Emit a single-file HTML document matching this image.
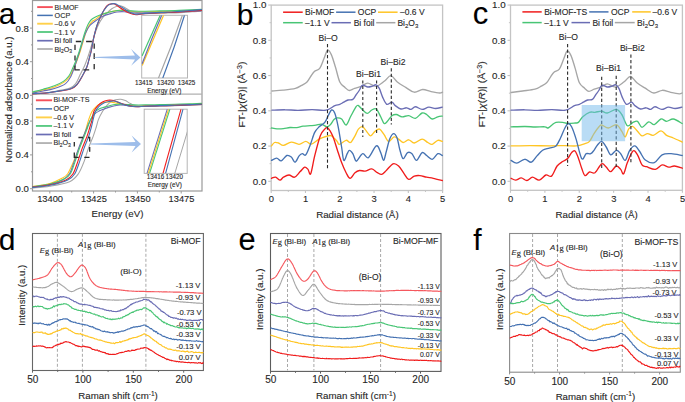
<!DOCTYPE html>
<html><head><meta charset="utf-8"><style>html,body{margin:0;padding:0;background:#fff;width:685px;height:402px;overflow:hidden}svg{display:block}</style></head>
<body><svg width="685" height="402" viewBox="0 0 685 402" font-family='"Liberation Sans", sans-serif'><style>text{stroke:#2a2a2a;stroke-width:0.12px;paint-order:stroke}</style>
<rect width="685" height="402" fill="#fff"/>
<rect x="32.5" y="0.5" width="169.5" height="190.5" fill="none" stroke="#9a9a9a" stroke-width="1.2"/>
<line x1="32.5" y1="94.2" x2="202" y2="94.2" stroke="#b0b0b0" stroke-width="1.2" stroke-linecap="butt"/>
<line x1="30.0" y1="95.3" x2="32.5" y2="95.3" stroke="#9a9a9a" stroke-width="1" stroke-linecap="butt"/>
<text x="28.9" y="98.75" font-size="9.6" text-anchor="end" fill="#262626" >0.0</text>
<line x1="30.0" y1="61.699999999999996" x2="32.5" y2="61.699999999999996" stroke="#9a9a9a" stroke-width="1" stroke-linecap="butt"/>
<text x="28.9" y="65.14999999999999" font-size="9.6" text-anchor="end" fill="#262626" >0.4</text>
<line x1="30.0" y1="28.099999999999994" x2="32.5" y2="28.099999999999994" stroke="#9a9a9a" stroke-width="1" stroke-linecap="butt"/>
<text x="28.9" y="31.549999999999994" font-size="9.6" text-anchor="end" fill="#262626" >0.8</text>
<line x1="31.0" y1="78.5" x2="32.5" y2="78.5" stroke="#9a9a9a" stroke-width="1" stroke-linecap="butt"/>
<line x1="31.0" y1="44.9" x2="32.5" y2="44.9" stroke="#9a9a9a" stroke-width="1" stroke-linecap="butt"/>
<line x1="31.0" y1="11.299999999999997" x2="32.5" y2="11.299999999999997" stroke="#9a9a9a" stroke-width="1" stroke-linecap="butt"/>
<line x1="30.0" y1="188.7" x2="32.5" y2="188.7" stroke="#9a9a9a" stroke-width="1" stroke-linecap="butt"/>
<text x="28.9" y="192.14999999999998" font-size="9.6" text-anchor="end" fill="#262626" >0.0</text>
<line x1="30.0" y1="154.89999999999998" x2="32.5" y2="154.89999999999998" stroke="#9a9a9a" stroke-width="1" stroke-linecap="butt"/>
<text x="28.9" y="158.34999999999997" font-size="9.6" text-anchor="end" fill="#262626" >0.4</text>
<line x1="30.0" y1="121.09999999999998" x2="32.5" y2="121.09999999999998" stroke="#9a9a9a" stroke-width="1" stroke-linecap="butt"/>
<text x="28.9" y="124.54999999999998" font-size="9.6" text-anchor="end" fill="#262626" >0.8</text>
<line x1="31.0" y1="171.79999999999998" x2="32.5" y2="171.79999999999998" stroke="#9a9a9a" stroke-width="1" stroke-linecap="butt"/>
<line x1="31.0" y1="138.0" x2="32.5" y2="138.0" stroke="#9a9a9a" stroke-width="1" stroke-linecap="butt"/>
<line x1="31.0" y1="104.19999999999999" x2="32.5" y2="104.19999999999999" stroke="#9a9a9a" stroke-width="1" stroke-linecap="butt"/>
<line x1="49.8" y1="191" x2="49.8" y2="193.5" stroke="#9a9a9a" stroke-width="1" stroke-linecap="butt"/>
<text x="50.099999999999994" y="202.4" font-size="9.3" text-anchor="middle" fill="#262626" >13400</text>
<line x1="93.6" y1="191" x2="93.6" y2="193.5" stroke="#9a9a9a" stroke-width="1" stroke-linecap="butt"/>
<text x="93.89999999999999" y="202.4" font-size="9.3" text-anchor="middle" fill="#262626" >13425</text>
<line x1="137.39999999999998" y1="191" x2="137.39999999999998" y2="193.5" stroke="#9a9a9a" stroke-width="1" stroke-linecap="butt"/>
<text x="137.7" y="202.4" font-size="9.3" text-anchor="middle" fill="#262626" >13450</text>
<line x1="181.2" y1="191" x2="181.2" y2="193.5" stroke="#9a9a9a" stroke-width="1" stroke-linecap="butt"/>
<text x="181.5" y="202.4" font-size="9.3" text-anchor="middle" fill="#262626" >13475</text>
<line x1="71.69999999999999" y1="191" x2="71.69999999999999" y2="192.5" stroke="#9a9a9a" stroke-width="1" stroke-linecap="butt"/>
<line x1="115.5" y1="191" x2="115.5" y2="192.5" stroke="#9a9a9a" stroke-width="1" stroke-linecap="butt"/>
<line x1="159.3" y1="191" x2="159.3" y2="192.5" stroke="#9a9a9a" stroke-width="1" stroke-linecap="butt"/>
<text x="117.5" y="217.2" font-size="9.6" text-anchor="middle" fill="#262626" textLength="51.8" lengthAdjust="spacingAndGlyphs" >Energy (eV)</text>
<text transform="translate(12.4,99.5) rotate(-90)" x="0" y="0" font-size="9.6" text-anchor="middle" fill="#262626" textLength="125.8" lengthAdjust="spacingAndGlyphs">Normalized adsorbance (a.u.)</text>
<path d="M32.50,93.90 C34.58,93.80 40.42,93.88 45.00,93.30 C49.58,92.72 55.82,91.27 60.00,90.40 C64.18,89.53 67.48,89.23 70.10,88.10 C72.72,86.97 74.02,85.85 75.70,83.60 C77.38,81.35 78.72,77.58 80.20,74.60 C81.68,71.62 83.30,68.68 84.60,65.70 C85.90,62.72 87.07,59.32 88.00,56.70 C88.93,54.08 89.37,52.78 90.20,50.00 C91.03,47.22 92.03,43.25 93.00,40.00 C93.97,36.75 94.93,33.37 96.00,30.50 C97.07,27.63 98.32,24.92 99.40,22.80 C100.48,20.68 101.40,19.27 102.50,17.80 C103.60,16.33 104.45,15.50 106.00,14.00 C107.55,12.50 109.98,10.10 111.80,8.80 C113.62,7.50 115.45,6.70 116.90,6.20 C118.35,5.70 119.28,5.62 120.50,5.80 C121.72,5.98 122.98,6.68 124.20,7.30 C125.42,7.92 126.58,8.83 127.80,9.50 C129.02,10.17 130.15,10.85 131.50,11.30 C132.85,11.75 134.48,11.93 135.90,12.20 C137.32,12.47 137.65,12.68 140.00,12.90 C142.35,13.12 145.83,13.47 150.00,13.50 C154.17,13.53 160.00,13.25 165.00,13.10 C170.00,12.95 175.50,12.82 180.00,12.60 C184.50,12.38 188.42,12.03 192.00,11.80 C195.58,11.57 199.92,11.30 201.50,11.20" fill="none" stroke="#a6a6a6" stroke-width="1.1" stroke-linejoin="round" stroke-linecap="round" opacity="1"/>
<path d="M32.50,92.50 C34.28,92.07 39.55,90.82 43.20,89.90 C46.85,88.98 50.85,88.33 54.40,87.00 C57.95,85.67 61.88,83.77 64.50,81.90 C67.12,80.03 68.62,77.95 70.10,75.80 C71.58,73.65 72.30,71.43 73.40,69.00 C74.50,66.57 75.60,64.00 76.70,61.20 C77.80,58.40 78.95,55.40 80.00,52.20 C81.05,49.00 81.97,45.45 83.00,42.00 C84.03,38.55 85.15,34.33 86.20,31.50 C87.25,28.67 88.28,26.70 89.30,25.00 C90.32,23.30 91.35,22.18 92.30,21.30 C93.25,20.42 93.33,20.82 95.00,19.70 C96.67,18.58 99.87,15.88 102.30,14.60 C104.73,13.32 107.17,12.67 109.60,12.00 C112.03,11.33 114.72,10.90 116.90,10.60 C119.08,10.30 120.75,10.08 122.70,10.20 C124.65,10.32 126.40,11.00 128.60,11.30 C130.80,11.60 133.17,11.92 135.90,12.00 C138.63,12.08 140.98,11.88 145.00,11.80 C149.02,11.72 155.00,11.60 160.00,11.50 C165.00,11.40 170.00,11.37 175.00,11.20 C180.00,11.03 185.58,10.70 190.00,10.50 C194.42,10.30 199.58,10.08 201.50,10.00" fill="none" stroke="#ffc524" stroke-width="1.1" stroke-linejoin="round" stroke-linecap="round" opacity="1"/>
<path d="M32.50,93.10 C34.28,92.75 39.55,91.75 43.20,91.00 C46.85,90.25 50.67,89.83 54.40,88.60 C58.13,87.37 62.80,85.73 65.60,83.60 C68.40,81.47 69.70,78.60 71.20,75.80 C72.70,73.00 73.60,69.60 74.60,66.80 C75.60,64.00 76.38,61.47 77.20,59.00 C78.02,56.53 78.67,54.67 79.50,52.00 C80.33,49.33 81.18,46.17 82.20,43.00 C83.22,39.83 84.38,35.83 85.60,33.00 C86.82,30.17 87.93,27.97 89.50,26.00 C91.07,24.03 92.87,22.80 95.00,21.20 C97.13,19.60 99.87,17.62 102.30,16.40 C104.73,15.18 107.17,14.63 109.60,13.90 C112.03,13.17 114.47,12.37 116.90,12.00 C119.33,11.63 121.77,11.57 124.20,11.70 C126.63,11.83 129.07,12.57 131.50,12.80 C133.93,13.03 136.55,13.10 138.80,13.10 C141.05,13.10 141.47,12.88 145.00,12.80 C148.53,12.72 155.00,12.70 160.00,12.60 C165.00,12.50 170.00,12.42 175.00,12.20 C180.00,11.98 185.58,11.53 190.00,11.30 C194.42,11.07 199.58,10.88 201.50,10.80" fill="none" stroke="#6a6db4" stroke-width="1.1" stroke-linejoin="round" stroke-linecap="round" opacity="1"/>
<path d="M32.50,92.00 C34.28,91.53 39.55,90.23 43.20,89.20 C46.85,88.17 51.03,87.10 54.40,85.80 C57.77,84.50 60.97,83.07 63.40,81.40 C65.83,79.73 67.52,77.87 69.00,75.80 C70.48,73.73 71.18,71.43 72.30,69.00 C73.42,66.57 74.58,64.00 75.70,61.20 C76.82,58.40 77.95,55.40 79.00,52.20 C80.05,49.00 80.97,45.45 82.00,42.00 C83.03,38.55 84.20,34.42 85.20,31.50 C86.20,28.58 87.03,26.42 88.00,24.50 C88.97,22.58 89.83,21.20 91.00,20.00 C92.17,18.80 93.60,18.08 95.00,17.30 C96.40,16.52 97.57,16.00 99.40,15.30 C101.23,14.60 103.70,13.77 106.00,13.10 C108.30,12.43 110.78,11.78 113.20,11.30 C115.62,10.82 118.42,10.33 120.50,10.20 C122.58,10.07 123.87,10.38 125.70,10.50 C127.53,10.62 129.32,10.78 131.50,10.90 C133.68,11.02 136.55,11.13 138.80,11.20 C141.05,11.27 141.47,11.35 145.00,11.30 C148.53,11.25 155.00,11.02 160.00,10.90 C165.00,10.78 170.00,10.78 175.00,10.60 C180.00,10.42 185.58,10.02 190.00,9.80 C194.42,9.58 199.58,9.38 201.50,9.30" fill="none" stroke="#48c575" stroke-width="1.1" stroke-linejoin="round" stroke-linecap="round" opacity="1"/>
<path d="M32.50,93.85 C34.58,93.73 40.42,93.62 45.00,93.15 C49.58,92.68 55.63,91.78 60.00,91.05 C64.37,90.32 68.40,89.78 71.20,88.75 C74.00,87.72 74.93,86.98 76.80,84.85 C78.67,82.72 80.72,78.93 82.40,75.95 C84.08,72.97 85.68,70.13 86.90,66.95 C88.12,63.77 88.95,59.65 89.70,56.85 C90.45,54.05 90.68,53.52 91.40,50.15 C92.12,46.78 93.03,40.85 94.00,36.65 C94.97,32.45 95.82,28.85 97.20,24.95 C98.58,21.05 100.77,16.34 102.30,13.25 C103.83,10.16 105.25,7.89 106.40,6.40 C107.55,4.91 108.03,4.73 109.20,4.30 C110.37,3.87 112.20,3.68 113.40,3.80 C114.60,3.92 115.40,4.42 116.40,5.00 C117.40,5.58 118.13,6.42 119.40,7.30 C120.67,8.18 122.47,9.38 124.00,10.30 C125.53,11.22 127.10,12.13 128.60,12.80 C130.10,13.47 131.77,13.98 133.00,14.30 C134.23,14.62 134.78,14.70 136.00,14.70 C137.22,14.70 138.80,14.45 140.30,14.30 C141.80,14.15 141.72,14.05 145.00,13.80 C148.28,13.55 155.00,13.07 160.00,12.80 C165.00,12.53 170.00,12.47 175.00,12.20 C180.00,11.93 185.58,11.50 190.00,11.20 C194.42,10.90 199.58,10.53 201.50,10.40" fill="none" stroke="#f01c1c" stroke-width="1.1" stroke-linejoin="round" stroke-linecap="round" opacity="1"/>
<path d="M32.50,93.70 C34.58,93.58 40.42,93.47 45.00,93.00 C49.58,92.53 55.63,91.63 60.00,90.90 C64.37,90.17 68.40,89.63 71.20,88.60 C74.00,87.57 74.93,86.83 76.80,84.70 C78.67,82.57 80.72,78.78 82.40,75.80 C84.08,72.82 85.68,69.98 86.90,66.80 C88.12,63.62 88.95,59.50 89.70,56.70 C90.45,53.90 90.68,53.37 91.40,50.00 C92.12,46.63 93.03,40.70 94.00,36.50 C94.97,32.30 95.82,28.70 97.20,24.80 C98.58,20.90 100.72,16.13 102.30,13.10 C103.88,10.07 105.48,8.05 106.70,6.60 C107.92,5.15 108.38,4.90 109.60,4.40 C110.82,3.90 112.78,3.60 114.00,3.60 C115.22,3.60 115.93,3.97 116.90,4.40 C117.87,4.83 118.58,5.47 119.80,6.20 C121.02,6.93 122.73,7.88 124.20,8.80 C125.67,9.72 127.13,10.92 128.60,11.70 C130.07,12.48 131.78,13.10 133.00,13.50 C134.22,13.90 134.68,14.03 135.90,14.10 C137.12,14.17 138.78,14.02 140.30,13.90 C141.82,13.78 141.72,13.65 145.00,13.40 C148.28,13.15 155.00,12.67 160.00,12.40 C165.00,12.13 170.00,12.10 175.00,11.80 C180.00,11.50 185.58,10.97 190.00,10.60 C194.42,10.23 199.58,9.77 201.50,9.60" fill="none" stroke="#4572b2" stroke-width="1.1" stroke-linejoin="round" stroke-linecap="round" opacity="1"/>
<path d="M32.50,188.00 C35.40,187.70 43.71,187.25 49.89,186.20 C56.08,185.15 64.83,183.78 69.58,181.70 C74.33,179.62 75.96,177.13 78.40,173.70 C80.84,170.27 82.59,165.28 84.24,161.10 C85.90,156.92 86.80,152.77 88.31,148.60 C89.81,144.43 91.95,139.70 93.28,136.10 C94.61,132.50 95.42,129.78 96.29,127.00 C97.15,124.22 97.44,121.98 98.48,119.40 C99.51,116.82 101.09,113.83 102.50,111.50 C103.90,109.17 105.43,107.08 106.90,105.40 C108.37,103.72 109.85,102.35 111.30,101.40 C112.75,100.45 114.00,100.05 115.60,99.70 C117.20,99.35 119.28,99.15 120.90,99.30 C122.52,99.45 123.70,99.88 125.30,100.60 C126.90,101.32 128.75,102.73 130.50,103.60 C132.25,104.47 133.38,105.35 135.80,105.80 C138.22,106.25 140.97,106.27 145.00,106.30 C149.03,106.33 155.00,106.10 160.00,106.00 C165.00,105.90 170.00,105.83 175.00,105.70 C180.00,105.57 185.58,105.35 190.00,105.20 C194.42,105.05 199.58,104.87 201.50,104.80" fill="none" stroke="#a6a6a6" stroke-width="1.1" stroke-linejoin="round" stroke-linecap="round" opacity="1"/>
<path d="M32.50,186.60 C35.40,186.08 44.91,184.92 49.90,183.50 C54.88,182.08 59.41,179.73 62.39,178.10 C65.36,176.47 66.01,176.23 67.77,173.70 C69.53,171.17 71.20,166.78 72.94,162.90 C74.68,159.02 76.40,154.87 78.20,150.40 C80.00,145.93 82.38,139.92 83.76,136.10 C85.14,132.28 85.64,130.25 86.46,127.50 C87.28,124.75 87.77,122.27 88.69,119.60 C89.62,116.93 90.71,113.72 92.00,111.50 C93.28,109.28 94.93,107.62 96.40,106.30 C97.87,104.98 99.35,104.27 100.80,103.60 C102.25,102.93 103.50,102.58 105.10,102.30 C106.70,102.02 108.78,101.82 110.40,101.90 C112.02,101.98 113.20,102.52 114.80,102.80 C116.40,103.08 118.25,103.25 120.00,103.60 C121.75,103.95 123.55,104.53 125.30,104.90 C127.05,105.27 128.47,105.57 130.50,105.80 C132.53,106.03 135.08,106.30 137.50,106.30 C139.92,106.30 141.25,105.97 145.00,105.80 C148.75,105.63 155.00,105.43 160.00,105.30 C165.00,105.17 170.00,105.15 175.00,105.00 C180.00,104.85 185.58,104.57 190.00,104.40 C194.42,104.23 199.58,104.07 201.50,104.00" fill="none" stroke="#ffc524" stroke-width="1.1" stroke-linejoin="round" stroke-linecap="round" opacity="1"/>
<path d="M32.50,186.90 C35.39,186.48 44.91,185.55 49.89,184.40 C54.87,183.25 59.11,181.78 62.37,180.00 C65.64,178.22 67.50,176.85 69.50,173.70 C71.49,170.55 72.84,165.28 74.34,161.10 C75.85,156.92 76.98,152.77 78.51,148.60 C80.03,144.43 82.08,139.53 83.48,136.10 C84.87,132.67 85.73,130.65 86.86,128.00 C88.00,125.35 88.98,122.52 90.27,120.20 C91.56,117.88 93.14,115.62 94.59,114.10 C96.05,112.58 97.38,111.97 99.00,111.10 C100.62,110.23 102.55,109.57 104.30,108.90 C106.05,108.23 107.75,107.62 109.50,107.10 C111.25,106.58 113.05,106.17 114.80,105.80 C116.55,105.43 117.97,104.97 120.00,104.90 C122.03,104.83 124.67,105.17 127.00,105.40 C129.33,105.63 131.00,106.15 134.00,106.30 C137.00,106.45 140.67,106.38 145.00,106.30 C149.33,106.22 155.00,105.93 160.00,105.80 C165.00,105.67 170.00,105.65 175.00,105.50 C180.00,105.35 185.58,105.07 190.00,104.90 C194.42,104.73 199.58,104.57 201.50,104.50" fill="none" stroke="#6a6db4" stroke-width="1.1" stroke-linejoin="round" stroke-linecap="round" opacity="1"/>
<path d="M32.50,186.70 C35.39,186.25 44.61,185.28 49.89,184.00 C55.17,182.72 60.75,180.72 64.17,179.00 C67.58,177.28 68.55,176.68 70.40,173.70 C72.25,170.72 73.74,165.28 75.24,161.10 C76.75,156.92 77.88,152.77 79.41,148.60 C80.93,144.43 83.02,139.62 84.38,136.10 C85.74,132.58 86.56,130.18 87.58,127.50 C88.59,124.82 89.30,122.52 90.47,120.00 C91.64,117.48 93.18,114.25 94.60,112.40 C96.02,110.55 97.38,109.78 99.00,108.90 C100.62,108.02 102.55,107.62 104.30,107.10 C106.05,106.58 107.75,106.23 109.50,105.80 C111.25,105.37 113.05,104.78 114.80,104.50 C116.55,104.22 117.97,104.10 120.00,104.10 C122.03,104.10 124.67,104.37 127.00,104.50 C129.33,104.63 131.00,104.83 134.00,104.90 C137.00,104.97 140.67,104.95 145.00,104.90 C149.33,104.85 155.00,104.70 160.00,104.60 C165.00,104.50 170.00,104.43 175.00,104.30 C180.00,104.17 185.58,103.95 190.00,103.80 C194.42,103.65 199.58,103.47 201.50,103.40" fill="none" stroke="#48c575" stroke-width="1.1" stroke-linejoin="round" stroke-linecap="round" opacity="1"/>
<path d="M32.50,187.10 C35.40,186.72 44.31,186.00 49.89,184.80 C55.47,183.60 62.12,181.75 65.97,179.90 C69.82,178.05 71.00,176.83 73.00,173.70 C74.99,170.57 76.43,165.28 77.94,161.10 C79.46,156.92 80.58,152.77 82.11,148.60 C83.63,144.43 85.73,139.87 87.08,136.10 C88.43,132.33 89.34,128.85 90.21,126.00 C91.07,123.15 91.68,121.42 92.28,119.00 C92.88,116.58 92.83,113.77 93.80,111.50 C94.77,109.23 96.65,107.00 98.10,105.40 C99.55,103.80 100.88,102.75 102.50,101.90 C104.12,101.05 106.20,100.57 107.80,100.30 C109.40,100.03 110.65,100.12 112.10,100.30 C113.55,100.48 114.88,100.85 116.50,101.40 C118.12,101.95 119.75,102.87 121.80,103.60 C123.85,104.33 126.47,105.28 128.80,105.80 C131.13,106.32 133.10,106.62 135.80,106.70 C138.50,106.78 140.97,106.45 145.00,106.30 C149.03,106.15 155.00,105.95 160.00,105.80 C165.00,105.65 170.00,105.57 175.00,105.40 C180.00,105.23 185.58,104.97 190.00,104.80 C194.42,104.63 199.58,104.47 201.50,104.40" fill="none" stroke="#f01c1c" stroke-width="1.1" stroke-linejoin="round" stroke-linecap="round" opacity="1"/>
<path d="M32.50,187.40 C35.40,187.05 44.01,186.55 49.89,185.30 C55.77,184.05 63.62,181.83 67.77,179.90 C71.92,177.97 72.80,176.83 74.80,173.70 C76.79,170.57 78.23,165.28 79.74,161.10 C81.26,156.92 82.40,152.77 83.91,148.60 C85.41,144.43 87.53,139.70 88.78,136.10 C90.02,132.50 90.65,129.78 91.39,127.00 C92.12,124.22 92.54,121.90 93.18,119.40 C93.81,116.90 94.23,114.18 95.20,112.00 C96.17,109.82 97.48,107.83 99.00,106.30 C100.52,104.77 102.55,103.62 104.30,102.80 C106.05,101.98 107.90,101.70 109.50,101.40 C111.10,101.10 112.43,100.85 113.90,101.00 C115.37,101.15 116.70,101.72 118.30,102.30 C119.90,102.88 121.47,103.83 123.50,104.50 C125.53,105.17 128.17,105.93 130.50,106.30 C132.83,106.67 135.08,106.70 137.50,106.70 C139.92,106.70 141.25,106.48 145.00,106.30 C148.75,106.12 155.00,105.78 160.00,105.60 C165.00,105.42 170.00,105.37 175.00,105.20 C180.00,105.03 185.58,104.77 190.00,104.60 C194.42,104.43 199.58,104.27 201.50,104.20" fill="none" stroke="#4572b2" stroke-width="1.1" stroke-linejoin="round" stroke-linecap="round" opacity="1"/>
<line x1="37.2" y1="7.1000000000000005" x2="52.8" y2="7.1000000000000005" stroke="#f5505a" stroke-width="1.9" stroke-linecap="butt"/>
<text x="54.6" y="9.8" font-size="7.8" text-anchor="start" fill="#262626" textLength="24" lengthAdjust="spacingAndGlyphs" >Bi-MOF</text>
<line x1="37.2" y1="15.400000000000002" x2="52.8" y2="15.400000000000002" stroke="#4572b2" stroke-width="1.5" stroke-linecap="butt"/>
<text x="54.6" y="18.1" font-size="7.8" text-anchor="start" fill="#262626" textLength="15.6" lengthAdjust="spacingAndGlyphs" >OCP</text>
<line x1="37.2" y1="23.7" x2="52.8" y2="23.7" stroke="#ffd04a" stroke-width="1.9" stroke-linecap="butt"/>
<text x="54.6" y="26.4" font-size="7.8" text-anchor="start" fill="#262626" textLength="20.6" lengthAdjust="spacingAndGlyphs" >–0.6 V</text>
<line x1="37.2" y1="32.0" x2="52.8" y2="32.0" stroke="#48c575" stroke-width="1.7" stroke-linecap="butt"/>
<text x="54.6" y="34.7" font-size="7.8" text-anchor="start" fill="#262626" textLength="20.4" lengthAdjust="spacingAndGlyphs" >–1.1 V</text>
<line x1="37.2" y1="40.699999999999996" x2="52.8" y2="40.699999999999996" stroke="#6a6db4" stroke-width="1.7" stroke-linecap="butt"/>
<text x="54.6" y="43.4" font-size="7.8" text-anchor="start" fill="#262626" textLength="17.6" lengthAdjust="spacingAndGlyphs" >Bi foil</text>
<line x1="37.2" y1="49.0" x2="52.8" y2="49.0" stroke="#a6a6a6" stroke-width="1.6" stroke-linecap="butt"/>
<text x="54.6" y="51.7" font-size="7.8" text-anchor="start" fill="#262626" textLength="17.4" lengthAdjust="spacingAndGlyphs" >Bi<tspan font-size="5.4" dy="1.6">2</tspan><tspan dy="-1.6">O</tspan><tspan font-size="5.4" dy="1.6">3</tspan></text>
<line x1="35.9" y1="100.30000000000001" x2="52.1" y2="100.30000000000001" stroke="#f5505a" stroke-width="1.9" stroke-linecap="butt"/>
<text x="53.4" y="102.4" font-size="7.8" text-anchor="start" fill="#262626" textLength="36" lengthAdjust="spacingAndGlyphs" >Bi-MOF-TS</text>
<line x1="35.9" y1="108.85000000000001" x2="52.1" y2="108.85000000000001" stroke="#4572b2" stroke-width="1.5" stroke-linecap="butt"/>
<text x="53.4" y="110.95" font-size="7.8" text-anchor="start" fill="#262626" textLength="15.6" lengthAdjust="spacingAndGlyphs" >OCP</text>
<line x1="35.9" y1="117.4" x2="52.1" y2="117.4" stroke="#ffd04a" stroke-width="1.9" stroke-linecap="butt"/>
<text x="53.4" y="119.5" font-size="7.8" text-anchor="start" fill="#262626" textLength="20.6" lengthAdjust="spacingAndGlyphs" >–0.6 V</text>
<line x1="35.9" y1="125.95000000000002" x2="52.1" y2="125.95000000000002" stroke="#48c575" stroke-width="1.7" stroke-linecap="butt"/>
<text x="53.4" y="128.05" font-size="7.8" text-anchor="start" fill="#262626" textLength="20.4" lengthAdjust="spacingAndGlyphs" >–1.1 V</text>
<line x1="35.9" y1="134.5" x2="52.1" y2="134.5" stroke="#6a6db4" stroke-width="1.7" stroke-linecap="butt"/>
<text x="53.4" y="136.6" font-size="7.8" text-anchor="start" fill="#262626" textLength="17.6" lengthAdjust="spacingAndGlyphs" >Bi foil</text>
<line x1="35.9" y1="143.05" x2="52.1" y2="143.05" stroke="#a6a6a6" stroke-width="1.6" stroke-linecap="butt"/>
<text x="53.4" y="145.15" font-size="7.8" text-anchor="start" fill="#262626" textLength="17.4" lengthAdjust="spacingAndGlyphs" >Bi<tspan font-size="5.4" dy="1.6">2</tspan><tspan dy="-1.6">O</tspan><tspan font-size="5.4" dy="1.6">3</tspan></text>
<path d="M75.8,41.5H81.2 M86.1,41.5H91.9 M94.2,43.4V48.7 M94.2,53.2V59 M94.2,64V69.3 M89.2,69.9H83.4 M79.8,69.9H75.0V65.4 M75.0,60.4V55.5 M75.0,50.1V44.7" fill="none" stroke="#2a2a2a" stroke-width="1.3" stroke-linecap="butt" stroke-linejoin="miter"/>
<path d="M78.4,137.5H83.2 M87.8,137.5H89.7V141.4 M89.7,146.9V151.8 M89.5,157.4H84.3 M78.7,157.4H74.3V152.5 M74.3,146.6V142" fill="none" stroke="#2a2a2a" stroke-width="1.3" stroke-linecap="butt" stroke-linejoin="miter"/>
<path d="M94.5,57.0 L135.0,55.4 L131.1,49.0 L140.5,57.4 L131.1,65.8 L135.0,59.4 L94.5,57.8 Z" fill="#9dbdea"/>
<path d="M91,143.6 L135.5,142 L131.6,135.6 L141,144 L131.6,152.4 L135.5,146 L91,144.4 Z" fill="#9dbdea"/>
<rect x="141.7" y="15.3" width="45.8" height="62.7" fill="#fff" stroke="#b5b5b5" stroke-width="1"/>
<clipPath id="ia"><rect x="141.7" y="15.3" width="45.8" height="62.7"/></clipPath>
<g clip-path="url(#ia)">
<line x1="142" y1="56" x2="160.2" y2="15.3" stroke="#48c575" stroke-width="1.2" stroke-linecap="butt"/>
<path d="M142.2,65.5 Q153,40 163.6,15.3" fill="none" stroke="#ffc524" stroke-width="1.2"/>
<path d="M142,64 Q151.5,39 161.7,15.3" fill="none" stroke="#6a6db4" stroke-width="1.2"/>
<path d="M158.5,78 Q171,48 182.4,15.3" fill="none" stroke="#a6a6a6" stroke-width="1.2"/>
<path d="M162.8,78 Q174.5,48 184.5,15.3" fill="none" stroke="#4572b2" stroke-width="1.2"/>
</g>
<text x="143.7" y="85.3" font-size="6.3" text-anchor="middle" fill="#262626" >13415</text>
<text x="165.7" y="85.3" font-size="6.3" text-anchor="middle" fill="#262626" >13420</text>
<text x="186.6" y="85.3" font-size="6.3" text-anchor="middle" fill="#262626" >13425</text>
<text x="164.3" y="93.3" font-size="6.4" text-anchor="middle" fill="#262626" >Energy (eV)</text>
<rect x="144.2" y="109.2" width="43" height="64.2" fill="#fff" stroke="#b5b5b5" stroke-width="1"/>
<clipPath id="ib"><rect x="144.2" y="109.2" width="43" height="64.2"/></clipPath>
<g clip-path="url(#ib)">
<line x1="147" y1="173.4" x2="167.3" y2="109.2" stroke="#6a6db4" stroke-width="1.1" stroke-linecap="butt"/>
<line x1="148.3" y1="173.4" x2="168.6" y2="109.2" stroke="#ffc524" stroke-width="1.1" stroke-linecap="butt"/>
<line x1="149.6" y1="173.4" x2="169.9" y2="109.2" stroke="#48c575" stroke-width="1.1" stroke-linecap="butt"/>
<line x1="163" y1="173.4" x2="181" y2="109.2" stroke="#f01c1c" stroke-width="1.1" stroke-linecap="butt"/>
<line x1="165.6" y1="173.4" x2="183" y2="109.2" stroke="#4572b2" stroke-width="1.1" stroke-linecap="butt"/>
<line x1="174.8" y1="173.4" x2="190" y2="123" stroke="#a6a6a6" stroke-width="1.0" stroke-linecap="butt"/>
</g>
<text x="155.6" y="179.3" font-size="6.3" text-anchor="middle" fill="#262626" >13416</text>
<text x="174.3" y="179.3" font-size="6.3" text-anchor="middle" fill="#262626" >13420</text>
<text x="164.8" y="186.9" font-size="6.4" text-anchor="middle" fill="#262626" >Energy (eV)</text>
<text x="-1.3" y="24.2" font-size="30" text-anchor="start" fill="#000" >a</text>
<rect x="271.2" y="5.1" width="171.40000000000003" height="185.4" fill="none" stroke="#c4c4c4" stroke-width="1.3"/>
<line x1="268.2" y1="181.3" x2="271.2" y2="181.3" stroke="#c4c4c4" stroke-width="1.1" stroke-linecap="butt"/>
<text x="266.4" y="184.60000000000002" font-size="9.8" text-anchor="end" fill="#262626" >0.0</text>
<line x1="268.2" y1="146.05" x2="271.2" y2="146.05" stroke="#c4c4c4" stroke-width="1.1" stroke-linecap="butt"/>
<text x="266.4" y="149.35000000000002" font-size="9.8" text-anchor="end" fill="#262626" >0.2</text>
<line x1="268.2" y1="110.80000000000001" x2="271.2" y2="110.80000000000001" stroke="#c4c4c4" stroke-width="1.1" stroke-linecap="butt"/>
<text x="266.4" y="114.10000000000001" font-size="9.8" text-anchor="end" fill="#262626" >0.4</text>
<line x1="268.2" y1="75.55000000000001" x2="271.2" y2="75.55000000000001" stroke="#c4c4c4" stroke-width="1.1" stroke-linecap="butt"/>
<text x="266.4" y="78.85000000000001" font-size="9.8" text-anchor="end" fill="#262626" >0.6</text>
<line x1="268.2" y1="40.30000000000001" x2="271.2" y2="40.30000000000001" stroke="#c4c4c4" stroke-width="1.1" stroke-linecap="butt"/>
<text x="266.4" y="43.60000000000001" font-size="9.8" text-anchor="end" fill="#262626" >0.8</text>
<line x1="268.2" y1="5.050000000000011" x2="271.2" y2="5.050000000000011" stroke="#c4c4c4" stroke-width="1.1" stroke-linecap="butt"/>
<text x="266.4" y="8.350000000000012" font-size="9.8" text-anchor="end" fill="#262626" >1.0</text>
<line x1="269.59999999999997" y1="163.675" x2="271.2" y2="163.675" stroke="#c4c4c4" stroke-width="1" stroke-linecap="butt"/>
<line x1="269.59999999999997" y1="128.425" x2="271.2" y2="128.425" stroke="#c4c4c4" stroke-width="1" stroke-linecap="butt"/>
<line x1="269.59999999999997" y1="93.17500000000001" x2="271.2" y2="93.17500000000001" stroke="#c4c4c4" stroke-width="1" stroke-linecap="butt"/>
<line x1="269.59999999999997" y1="57.925000000000026" x2="271.2" y2="57.925000000000026" stroke="#c4c4c4" stroke-width="1" stroke-linecap="butt"/>
<line x1="269.59999999999997" y1="22.67500000000001" x2="271.2" y2="22.67500000000001" stroke="#c4c4c4" stroke-width="1" stroke-linecap="butt"/>
<line x1="271.2" y1="190.5" x2="271.2" y2="193.0" stroke="#c4c4c4" stroke-width="1.1" stroke-linecap="butt"/>
<text x="271.3" y="202.0" font-size="9.4" text-anchor="middle" fill="#262626" >0</text>
<line x1="305.48" y1="190.5" x2="305.48" y2="193.0" stroke="#c4c4c4" stroke-width="1.1" stroke-linecap="butt"/>
<text x="305.58000000000004" y="202.0" font-size="9.4" text-anchor="middle" fill="#262626" >1</text>
<line x1="339.76" y1="190.5" x2="339.76" y2="193.0" stroke="#c4c4c4" stroke-width="1.1" stroke-linecap="butt"/>
<text x="339.86" y="202.0" font-size="9.4" text-anchor="middle" fill="#262626" >2</text>
<line x1="374.03999999999996" y1="190.5" x2="374.03999999999996" y2="193.0" stroke="#c4c4c4" stroke-width="1.1" stroke-linecap="butt"/>
<text x="374.14" y="202.0" font-size="9.4" text-anchor="middle" fill="#262626" >3</text>
<line x1="408.32" y1="190.5" x2="408.32" y2="193.0" stroke="#c4c4c4" stroke-width="1.1" stroke-linecap="butt"/>
<text x="408.42" y="202.0" font-size="9.4" text-anchor="middle" fill="#262626" >4</text>
<line x1="442.6" y1="190.5" x2="442.6" y2="193.0" stroke="#c4c4c4" stroke-width="1.1" stroke-linecap="butt"/>
<text x="442.70000000000005" y="202.0" font-size="9.4" text-anchor="middle" fill="#262626" >5</text>
<line x1="288.34" y1="190.5" x2="288.34" y2="192.0" stroke="#c4c4c4" stroke-width="1" stroke-linecap="butt"/>
<line x1="322.62" y1="190.5" x2="322.62" y2="192.0" stroke="#c4c4c4" stroke-width="1" stroke-linecap="butt"/>
<line x1="356.9" y1="190.5" x2="356.9" y2="192.0" stroke="#c4c4c4" stroke-width="1" stroke-linecap="butt"/>
<line x1="391.18" y1="190.5" x2="391.18" y2="192.0" stroke="#c4c4c4" stroke-width="1" stroke-linecap="butt"/>
<line x1="425.46" y1="190.5" x2="425.46" y2="192.0" stroke="#c4c4c4" stroke-width="1" stroke-linecap="butt"/>
<text transform="translate(245.2,94.6) rotate(-90)" x="0" y="0" font-size="9.5" text-anchor="middle" fill="#262626" textLength="66" lengthAdjust="spacingAndGlyphs">FT-|<tspan font-style="italic">χ</tspan>(<tspan font-style="italic">R</tspan>)| (Å<tspan font-size="6.5" dy="-3.5">−3</tspan><tspan dy="3.5">)</tspan></text>
<text x="357.4" y="217.8" font-size="9.6" text-anchor="middle" fill="#262626" textLength="82.5" lengthAdjust="spacingAndGlyphs" >Radial distance (Å)</text>
<line x1="283.1" y1="12.2" x2="302.7" y2="12.2" stroke="#f01c1c" stroke-width="1.5" stroke-linecap="butt"/>
<text x="305" y="15.1" font-size="8.5" text-anchor="start" fill="#262626" >Bi-MOF</text>
<line x1="336.1" y1="12.2" x2="355.5" y2="12.2" stroke="#4572b2" stroke-width="1.5" stroke-linecap="butt"/>
<text x="357.8" y="15.1" font-size="8.5" text-anchor="start" fill="#262626" >OCP</text>
<line x1="378" y1="12.2" x2="397.6" y2="12.2" stroke="#ffc524" stroke-width="1.5" stroke-linecap="butt"/>
<text x="400" y="15.1" font-size="8.5" text-anchor="start" fill="#262626" >–0.6 V</text>
<line x1="283.1" y1="22.7" x2="302.7" y2="22.7" stroke="#48c575" stroke-width="1.5" stroke-linecap="butt"/>
<text x="305" y="25.599999999999998" font-size="8.5" text-anchor="start" fill="#262626" >–1.1 V</text>
<line x1="331.5" y1="22.7" x2="350.9" y2="22.7" stroke="#6a6db4" stroke-width="1.5" stroke-linecap="butt"/>
<text x="353.7" y="25.599999999999998" font-size="8.5" text-anchor="start" fill="#262626" >Bi foil</text>
<line x1="376.2" y1="22.7" x2="395.4" y2="22.7" stroke="#a6a6a6" stroke-width="1.5" stroke-linecap="butt"/>
<text x="397.4" y="25.599999999999998" font-size="8.5" text-anchor="start" fill="#262626" >Bi<tspan font-size="6" dy="2">2</tspan><tspan dy="-2">O</tspan><tspan font-size="6" dy="2">3</tspan></text>
<path d="M272.00,91.00 C273.83,90.87 279.10,90.63 283.00,90.20 C286.90,89.77 292.28,89.22 295.40,88.40 C298.52,87.58 299.77,86.37 301.70,85.30 C303.63,84.23 305.45,83.55 307.00,82.00 C308.55,80.45 309.77,77.75 311.00,76.00 C312.23,74.25 312.95,72.78 314.40,71.50 C315.85,70.22 318.12,70.42 319.70,68.30 C321.28,66.18 322.60,61.78 323.90,58.80 C325.20,55.82 326.27,51.10 327.50,50.40 C328.73,49.70 329.97,51.78 331.30,54.60 C332.63,57.42 334.08,62.73 335.50,67.30 C336.92,71.87 338.22,78.65 339.80,82.00 C341.38,85.35 343.42,85.98 345.00,87.40 C346.58,88.82 347.70,90.33 349.30,90.50 C350.90,90.67 352.60,89.10 354.60,88.40 C356.60,87.70 359.12,87.18 361.30,86.30 C363.48,85.42 365.23,83.10 367.70,83.10 C370.17,83.10 373.28,86.65 376.10,86.30 C378.92,85.95 382.13,82.77 384.60,81.00 C387.07,79.23 388.78,75.53 390.90,75.70 C393.02,75.87 394.83,80.05 397.30,82.00 C399.77,83.95 402.88,85.70 405.70,87.40 C408.52,89.10 411.37,91.85 414.20,92.20 C417.03,92.55 419.88,89.60 422.70,89.50 C425.52,89.40 428.28,91.02 431.10,91.60 C433.92,92.18 437.70,92.90 439.60,93.00 C441.50,93.10 442.02,92.33 442.50,92.20" fill="none" stroke="#a6a6a6" stroke-width="1.35" stroke-linejoin="round" stroke-linecap="round" opacity="1"/>
<path d="M272.00,110.20 C274.17,110.13 280.67,109.78 285.00,109.80 C289.33,109.82 293.50,110.33 298.00,110.30 C302.50,110.27 307.33,109.62 312.00,109.60 C316.67,109.58 322.18,110.87 326.00,110.20 C329.82,109.53 332.60,106.57 334.90,105.60 C337.20,104.63 338.32,104.97 339.80,104.40 C341.28,103.83 342.43,102.93 343.80,102.20 C345.17,101.47 346.50,100.47 348.00,100.00 C349.50,99.53 351.47,100.23 352.80,99.40 C354.13,98.57 354.93,96.48 356.00,95.00 C357.07,93.52 358.13,92.12 359.20,90.50 C360.27,88.88 360.98,85.88 362.40,85.30 C363.82,84.72 366.12,86.83 367.70,87.00 C369.28,87.17 370.50,86.67 371.90,86.30 C373.30,85.93 374.87,84.45 376.10,84.80 C377.33,85.15 378.23,86.38 379.30,88.40 C380.37,90.42 381.27,94.25 382.50,96.90 C383.73,99.55 385.13,103.42 386.70,104.30 C388.27,105.18 390.47,101.98 391.90,102.20 C393.33,102.42 393.80,104.47 395.30,105.60 C396.80,106.73 399.03,108.63 400.90,109.00 C402.77,109.37 404.83,107.73 406.50,107.80 C408.17,107.87 409.42,109.58 410.90,109.40 C412.38,109.22 413.53,106.70 415.40,106.70 C417.27,106.70 419.87,109.32 422.10,109.40 C424.33,109.48 426.57,107.35 428.80,107.20 C431.03,107.05 433.25,108.50 435.50,108.50 C437.75,108.50 441.17,107.42 442.30,107.20" fill="none" stroke="#6a6db4" stroke-width="1.35" stroke-linejoin="round" stroke-linecap="round" opacity="1"/>
<path d="M271.50,128.00 C272.42,128.13 275.02,128.70 277.00,128.80 C278.98,128.90 281.23,128.82 283.40,128.60 C285.57,128.38 287.77,127.67 290.00,127.50 C292.23,127.33 294.63,127.82 296.80,127.60 C298.97,127.38 300.75,126.52 303.00,126.20 C305.25,125.88 308.13,125.87 310.30,125.70 C312.47,125.53 314.13,125.45 316.00,125.20 C317.87,124.95 319.67,123.93 321.50,124.20 C323.33,124.47 325.52,126.73 327.00,126.80 C328.48,126.87 329.23,125.82 330.40,124.60 C331.57,123.38 332.88,120.62 334.00,119.50 C335.12,118.38 335.83,117.98 337.10,117.90 C338.37,117.82 340.10,117.82 341.60,119.00 C343.10,120.18 344.62,125.37 346.10,125.00 C347.58,124.63 348.83,119.85 350.50,116.80 C352.17,113.75 354.78,108.57 356.10,106.70 C357.42,104.83 357.28,105.05 358.40,105.60 C359.52,106.15 361.32,108.70 362.80,110.00 C364.28,111.30 365.80,113.40 367.30,113.40 C368.80,113.40 370.30,110.73 371.80,110.00 C373.30,109.27 374.82,107.87 376.30,109.00 C377.78,110.13 379.40,114.38 380.70,116.80 C382.00,119.22 382.98,122.75 384.10,123.50 C385.22,124.25 386.10,122.60 387.40,121.30 C388.70,120.00 390.40,116.83 391.90,115.70 C393.40,114.57 394.72,114.32 396.40,114.50 C398.08,114.68 399.95,116.60 402.00,116.80 C404.05,117.00 406.47,115.45 408.70,115.70 C410.93,115.95 413.17,118.75 415.40,118.30 C417.63,117.85 420.23,113.63 422.10,113.00 C423.97,112.37 424.92,113.50 426.60,114.50 C428.28,115.50 430.33,118.62 432.20,119.00 C434.07,119.38 436.12,117.28 437.80,116.80 C439.48,116.32 441.55,116.22 442.30,116.10" fill="none" stroke="#48c575" stroke-width="1.35" stroke-linejoin="round" stroke-linecap="round" opacity="1"/>
<path d="M271.50,145.90 C272.00,145.33 273.33,142.98 274.50,142.50 C275.67,142.02 277.02,142.52 278.50,143.00 C279.98,143.48 281.27,145.55 283.40,145.40 C285.53,145.25 288.68,142.28 291.30,142.10 C293.92,141.92 296.68,144.42 299.10,144.30 C301.52,144.18 303.75,141.43 305.80,141.40 C307.85,141.37 309.17,144.48 311.40,144.10 C313.63,143.72 316.78,140.37 319.20,139.10 C321.62,137.83 323.85,137.05 325.90,136.50 C327.95,135.95 329.63,134.98 331.50,135.80 C333.37,136.62 335.78,139.98 337.10,141.40 C338.42,142.82 337.90,144.48 339.40,144.30 C340.90,144.12 344.25,140.60 346.10,140.30 C347.95,140.00 349.02,143.25 350.50,142.50 C351.98,141.75 353.68,138.03 355.00,135.80 C356.32,133.57 357.10,130.60 358.40,129.10 C359.70,127.60 361.32,126.25 362.80,126.80 C364.28,127.35 365.98,130.90 367.30,132.40 C368.62,133.90 369.40,135.98 370.70,135.80 C372.00,135.62 373.62,132.42 375.10,131.30 C376.58,130.18 378.10,128.53 379.60,129.10 C381.10,129.67 382.60,132.65 384.10,134.70 C385.60,136.75 386.93,141.03 388.60,141.40 C390.27,141.77 392.43,137.28 394.10,136.90 C395.77,136.52 397.10,138.17 398.60,139.10 C400.10,140.03 401.42,142.38 403.10,142.50 C404.78,142.62 406.83,139.72 408.70,139.80 C410.57,139.88 412.07,143.12 414.30,143.00 C416.53,142.88 419.87,139.18 422.10,139.10 C424.33,139.02 426.02,141.63 427.70,142.50 C429.38,143.37 430.52,144.67 432.20,144.30 C433.88,143.93 436.12,140.78 437.80,140.30 C439.48,139.82 441.55,141.22 442.30,141.40" fill="none" stroke="#ffc524" stroke-width="1.35" stroke-linejoin="round" stroke-linecap="round" opacity="1"/>
<path d="M271.50,160.40 C272.37,160.03 275.08,158.12 276.70,158.20 C278.32,158.28 279.52,161.35 281.20,160.90 C282.88,160.45 285.12,156.15 286.80,155.50 C288.48,154.85 289.92,155.88 291.30,157.00 C292.68,158.12 293.80,162.38 295.10,162.20 C296.40,162.02 297.88,157.32 299.10,155.90 C300.32,154.48 301.28,153.88 302.40,153.70 C303.52,153.52 304.48,156.30 305.80,154.80 C307.12,153.30 308.82,148.43 310.30,144.70 C311.78,140.97 313.22,135.38 314.70,132.40 C316.18,129.42 317.52,128.47 319.20,126.80 C320.88,125.13 323.30,124.25 324.80,122.40 C326.30,120.55 327.08,117.77 328.20,115.70 C329.32,113.63 330.38,110.38 331.50,110.00 C332.62,109.62 333.78,110.60 334.90,113.40 C336.02,116.20 337.08,121.20 338.20,126.80 C339.32,132.40 340.67,141.40 341.60,147.00 C342.53,152.60 342.87,159.28 343.80,160.40 C344.73,161.52 346.27,155.38 347.20,153.70 C348.13,152.02 348.47,150.30 349.40,150.30 C350.33,150.30 351.78,152.02 352.80,153.70 C353.82,155.38 354.77,159.28 355.50,160.40 C356.23,161.52 355.98,161.52 357.20,160.40 C358.42,159.28 360.93,154.15 362.80,153.70 C364.67,153.25 366.15,159.00 368.40,157.70 C370.65,156.40 374.25,146.75 376.30,145.90 C378.35,145.05 379.48,150.18 380.70,152.60 C381.92,155.02 382.67,160.58 383.60,160.40 C384.53,160.22 385.28,155.05 386.30,151.50 C387.32,147.95 388.50,142.08 389.70,139.10 C390.90,136.12 392.27,133.78 393.50,133.60 C394.73,133.42 396.07,135.40 397.10,138.00 C398.13,140.60 398.70,145.77 399.70,149.20 C400.70,152.63 401.78,158.03 403.10,158.60 C404.42,159.17 406.12,153.42 407.60,152.60 C409.08,151.78 410.52,152.40 412.00,153.70 C413.48,155.00 414.82,160.58 416.50,160.40 C418.18,160.22 420.42,153.42 422.10,152.60 C423.78,151.78 424.92,154.38 426.60,155.50 C428.28,156.62 430.33,159.60 432.20,159.30 C434.07,159.00 436.12,154.33 437.80,153.70 C439.48,153.07 441.55,155.20 442.30,155.50" fill="none" stroke="#4572b2" stroke-width="1.35" stroke-linejoin="round" stroke-linecap="round" opacity="1"/>
<path d="M271.50,178.30 C272.18,178.12 274.17,176.90 275.60,177.20 C277.03,177.50 278.80,180.10 280.10,180.10 C281.40,180.10 281.92,178.05 283.40,177.20 C284.88,176.35 287.13,175.00 289.00,175.00 C290.87,175.00 292.73,177.77 294.60,177.20 C296.47,176.63 298.52,173.28 300.20,171.60 C301.88,169.92 303.40,167.47 304.70,167.10 C306.00,166.73 307.00,168.28 308.00,169.40 C309.00,170.52 309.58,176.05 310.70,173.80 C311.82,171.55 313.10,162.23 314.70,155.90 C316.30,149.57 318.62,140.27 320.30,135.80 C321.98,131.33 323.57,130.40 324.80,129.10 C326.03,127.80 326.40,126.88 327.70,128.00 C329.00,129.12 331.03,132.27 332.60,135.80 C334.17,139.33 335.60,144.73 337.10,149.20 C338.60,153.67 340.10,158.68 341.60,162.60 C343.10,166.52 344.68,170.08 346.10,172.70 C347.52,175.32 348.62,178.30 350.10,178.30 C351.58,178.30 353.43,174.00 355.00,172.70 C356.57,171.40 357.82,170.77 359.50,170.50 C361.18,170.23 363.05,171.37 365.10,171.10 C367.15,170.83 369.75,168.63 371.80,168.90 C373.85,169.17 375.73,171.80 377.40,172.70 C379.07,173.60 380.32,174.67 381.80,174.30 C383.28,173.93 384.43,172.25 386.30,170.50 C388.17,168.75 390.95,164.55 393.00,163.80 C395.05,163.05 396.73,164.33 398.60,166.00 C400.47,167.67 402.52,171.57 404.20,173.80 C405.88,176.03 407.02,179.02 408.70,179.40 C410.38,179.78 412.43,176.73 414.30,176.10 C416.17,175.47 417.85,175.42 419.90,175.60 C421.95,175.78 424.37,176.75 426.60,177.20 C428.83,177.65 430.68,177.75 433.30,178.30 C435.92,178.85 440.80,180.13 442.30,180.50" fill="none" stroke="#f01c1c" stroke-width="1.35" stroke-linejoin="round" stroke-linecap="round" opacity="1"/>
<line x1="327.5" y1="44" x2="327.5" y2="170.5" stroke="#2a2a2a" stroke-width="1.1" stroke-dasharray="3.2,2.3" stroke-linecap="butt"/>
<line x1="362.8" y1="80.4" x2="362.8" y2="136.9" stroke="#2a2a2a" stroke-width="1.1" stroke-dasharray="3.2,2.3" stroke-linecap="butt"/>
<line x1="376.6" y1="80.4" x2="376.6" y2="133.1" stroke="#2a2a2a" stroke-width="1.1" stroke-dasharray="3.2,2.3" stroke-linecap="butt"/>
<line x1="391.3" y1="68.3" x2="391.3" y2="124.6" stroke="#2a2a2a" stroke-width="1.1" stroke-dasharray="3.2,2.3" stroke-linecap="butt"/>
<text x="328.1" y="41.3" font-size="8.6" text-anchor="middle" fill="#262626" >Bi–O</text>
<text x="368.5" y="77.0" font-size="8.6" text-anchor="middle" fill="#262626" >Bi–Bi1</text>
<text x="393.0" y="64.6" font-size="8.6" text-anchor="middle" fill="#262626" >Bi–Bi2</text>
<text x="236.8" y="24.6" font-size="30" text-anchor="start" fill="#000" >b</text>
<rect x="510.5" y="5.1" width="171.89999999999998" height="185.20000000000002" fill="none" stroke="#c4c4c4" stroke-width="1.3"/>
<line x1="507.5" y1="181.3" x2="510.5" y2="181.3" stroke="#c4c4c4" stroke-width="1.1" stroke-linecap="butt"/>
<text x="505.7" y="184.60000000000002" font-size="9.8" text-anchor="end" fill="#262626" >0.0</text>
<line x1="507.5" y1="146.05" x2="510.5" y2="146.05" stroke="#c4c4c4" stroke-width="1.1" stroke-linecap="butt"/>
<text x="505.7" y="149.35000000000002" font-size="9.8" text-anchor="end" fill="#262626" >0.2</text>
<line x1="507.5" y1="110.80000000000001" x2="510.5" y2="110.80000000000001" stroke="#c4c4c4" stroke-width="1.1" stroke-linecap="butt"/>
<text x="505.7" y="114.10000000000001" font-size="9.8" text-anchor="end" fill="#262626" >0.4</text>
<line x1="507.5" y1="75.55000000000001" x2="510.5" y2="75.55000000000001" stroke="#c4c4c4" stroke-width="1.1" stroke-linecap="butt"/>
<text x="505.7" y="78.85000000000001" font-size="9.8" text-anchor="end" fill="#262626" >0.6</text>
<line x1="507.5" y1="40.30000000000001" x2="510.5" y2="40.30000000000001" stroke="#c4c4c4" stroke-width="1.1" stroke-linecap="butt"/>
<text x="505.7" y="43.60000000000001" font-size="9.8" text-anchor="end" fill="#262626" >0.8</text>
<line x1="507.5" y1="5.050000000000011" x2="510.5" y2="5.050000000000011" stroke="#c4c4c4" stroke-width="1.1" stroke-linecap="butt"/>
<text x="505.7" y="8.350000000000012" font-size="9.8" text-anchor="end" fill="#262626" >1.0</text>
<line x1="508.9" y1="163.675" x2="510.5" y2="163.675" stroke="#c4c4c4" stroke-width="1" stroke-linecap="butt"/>
<line x1="508.9" y1="128.425" x2="510.5" y2="128.425" stroke="#c4c4c4" stroke-width="1" stroke-linecap="butt"/>
<line x1="508.9" y1="93.17500000000001" x2="510.5" y2="93.17500000000001" stroke="#c4c4c4" stroke-width="1" stroke-linecap="butt"/>
<line x1="508.9" y1="57.925000000000026" x2="510.5" y2="57.925000000000026" stroke="#c4c4c4" stroke-width="1" stroke-linecap="butt"/>
<line x1="508.9" y1="22.67500000000001" x2="510.5" y2="22.67500000000001" stroke="#c4c4c4" stroke-width="1" stroke-linecap="butt"/>
<line x1="510.5" y1="190.3" x2="510.5" y2="192.8" stroke="#c4c4c4" stroke-width="1.1" stroke-linecap="butt"/>
<text x="510.6" y="202.0" font-size="9.4" text-anchor="middle" fill="#262626" >0</text>
<line x1="544.88" y1="190.3" x2="544.88" y2="192.8" stroke="#c4c4c4" stroke-width="1.1" stroke-linecap="butt"/>
<text x="544.98" y="202.0" font-size="9.4" text-anchor="middle" fill="#262626" >1</text>
<line x1="579.26" y1="190.3" x2="579.26" y2="192.8" stroke="#c4c4c4" stroke-width="1.1" stroke-linecap="butt"/>
<text x="579.36" y="202.0" font-size="9.4" text-anchor="middle" fill="#262626" >2</text>
<line x1="613.64" y1="190.3" x2="613.64" y2="192.8" stroke="#c4c4c4" stroke-width="1.1" stroke-linecap="butt"/>
<text x="613.74" y="202.0" font-size="9.4" text-anchor="middle" fill="#262626" >3</text>
<line x1="648.02" y1="190.3" x2="648.02" y2="192.8" stroke="#c4c4c4" stroke-width="1.1" stroke-linecap="butt"/>
<text x="648.12" y="202.0" font-size="9.4" text-anchor="middle" fill="#262626" >4</text>
<line x1="682.4" y1="190.3" x2="682.4" y2="192.8" stroke="#c4c4c4" stroke-width="1.1" stroke-linecap="butt"/>
<text x="682.5" y="202.0" font-size="9.4" text-anchor="middle" fill="#262626" >5</text>
<line x1="527.69" y1="190.3" x2="527.69" y2="191.8" stroke="#c4c4c4" stroke-width="1" stroke-linecap="butt"/>
<line x1="562.07" y1="190.3" x2="562.07" y2="191.8" stroke="#c4c4c4" stroke-width="1" stroke-linecap="butt"/>
<line x1="596.45" y1="190.3" x2="596.45" y2="191.8" stroke="#c4c4c4" stroke-width="1" stroke-linecap="butt"/>
<line x1="630.83" y1="190.3" x2="630.83" y2="191.8" stroke="#c4c4c4" stroke-width="1" stroke-linecap="butt"/>
<line x1="665.21" y1="190.3" x2="665.21" y2="191.8" stroke="#c4c4c4" stroke-width="1" stroke-linecap="butt"/>
<text transform="translate(485.2,94.3) rotate(-90)" x="0" y="0" font-size="9.5" text-anchor="middle" fill="#262626" textLength="66" lengthAdjust="spacingAndGlyphs">FT-|<tspan font-style="italic">χ</tspan>(<tspan font-style="italic">R</tspan>)| (Å<tspan font-size="6.5" dy="-3.5">−3</tspan><tspan dy="3.5">)</tspan></text>
<text x="596.6" y="218.0" font-size="9.6" text-anchor="middle" fill="#262626" textLength="82.3" lengthAdjust="spacingAndGlyphs" >Radial distance (Å)</text>
<line x1="522.4" y1="11.9" x2="541.7" y2="11.9" stroke="#f01c1c" stroke-width="1.5" stroke-linecap="butt"/>
<text x="544.2" y="14.8" font-size="8.5" text-anchor="start" fill="#262626" >Bi-MOF-TS</text>
<line x1="589.2" y1="11.9" x2="608.5" y2="11.9" stroke="#4572b2" stroke-width="1.5" stroke-linecap="butt"/>
<text x="611" y="14.8" font-size="8.5" text-anchor="start" fill="#262626" >OCP</text>
<line x1="632.2" y1="11.9" x2="650.8" y2="11.9" stroke="#ffc524" stroke-width="1.5" stroke-linecap="butt"/>
<text x="652.6" y="14.8" font-size="8.5" text-anchor="start" fill="#262626" >–0.6 V</text>
<line x1="522.4" y1="22.6" x2="541.7" y2="22.6" stroke="#48c575" stroke-width="1.5" stroke-linecap="butt"/>
<text x="544.2" y="25.5" font-size="8.5" text-anchor="start" fill="#262626" >–1.1 V</text>
<line x1="571.5" y1="22.6" x2="590" y2="22.6" stroke="#6a6db4" stroke-width="1.5" stroke-linecap="butt"/>
<text x="592.4" y="25.5" font-size="8.5" text-anchor="start" fill="#262626" >Bi foil</text>
<line x1="614.8" y1="22.6" x2="634.7" y2="22.6" stroke="#a6a6a6" stroke-width="1.5" stroke-linecap="butt"/>
<text x="637.1" y="25.5" font-size="8.5" text-anchor="start" fill="#262626" >Bi<tspan font-size="6" dy="2">2</tspan><tspan dy="-2">O</tspan><tspan font-size="6" dy="2">3</tspan></text>
<path d="M511.10,92.50 C513.02,92.25 518.62,91.55 522.60,91.00 C526.58,90.45 531.88,90.02 535.00,89.20 C538.12,88.38 539.37,87.17 541.30,86.10 C543.23,85.03 545.05,84.35 546.60,82.80 C548.15,81.25 549.37,78.55 550.60,76.80 C551.83,75.05 552.55,73.58 554.00,72.30 C555.45,71.02 557.72,71.22 559.30,69.10 C560.88,66.98 562.20,62.58 563.50,59.60 C564.80,56.62 565.87,51.90 567.10,51.20 C568.33,50.50 569.57,52.58 570.90,55.40 C572.23,58.22 573.68,63.53 575.10,68.10 C576.52,72.67 577.82,79.45 579.40,82.80 C580.98,86.15 583.02,86.78 584.60,88.20 C586.18,89.62 587.30,91.13 588.90,91.30 C590.50,91.47 592.20,89.90 594.20,89.20 C596.20,88.50 598.72,87.98 600.90,87.10 C603.08,86.22 604.83,83.90 607.30,83.90 C609.77,83.90 612.88,87.45 615.70,87.10 C618.52,86.75 621.73,83.57 624.20,81.80 C626.67,80.03 628.38,76.33 630.50,76.50 C632.62,76.67 634.43,80.85 636.90,82.80 C639.37,84.75 642.48,86.50 645.30,88.20 C648.12,89.90 650.97,92.65 653.80,93.00 C656.63,93.35 659.48,90.40 662.30,90.30 C665.12,90.20 667.88,91.82 670.70,92.40 C673.52,92.98 677.30,93.70 679.20,93.80 C681.10,93.90 681.62,93.13 682.10,93.00" fill="none" stroke="#a6a6a6" stroke-width="1.35" stroke-linejoin="round" stroke-linecap="round" opacity="1"/>
<path d="M511.10,110.20 C513.35,110.13 520.18,109.78 524.60,109.80 C529.02,109.82 533.10,110.33 537.60,110.30 C542.10,110.27 546.93,109.62 551.60,109.60 C556.27,109.58 561.78,110.87 565.60,110.20 C569.42,109.53 572.20,106.57 574.50,105.60 C576.80,104.63 577.92,104.97 579.40,104.40 C580.88,103.83 582.03,102.93 583.40,102.20 C584.77,101.47 586.10,100.47 587.60,100.00 C589.10,99.53 591.07,100.23 592.40,99.40 C593.73,98.57 594.53,96.48 595.60,95.00 C596.67,93.52 597.73,92.12 598.80,90.50 C599.87,88.88 600.58,85.88 602.00,85.30 C603.42,84.72 605.72,86.83 607.30,87.00 C608.88,87.17 610.10,86.67 611.50,86.30 C612.90,85.93 614.47,84.45 615.70,84.80 C616.93,85.15 617.83,86.38 618.90,88.40 C619.97,90.42 620.87,94.25 622.10,96.90 C623.33,99.55 624.73,103.42 626.30,104.30 C627.87,105.18 630.07,101.98 631.50,102.20 C632.93,102.42 633.40,104.47 634.90,105.60 C636.40,106.73 638.63,108.63 640.50,109.00 C642.37,109.37 644.43,107.73 646.10,107.80 C647.77,107.87 649.02,109.58 650.50,109.40 C651.98,109.22 653.13,106.70 655.00,106.70 C656.87,106.70 659.47,109.32 661.70,109.40 C663.93,109.48 666.17,107.35 668.40,107.20 C670.63,107.05 672.85,108.50 675.10,108.50 C677.35,108.50 680.77,107.42 681.90,107.20" fill="none" stroke="#6a6db4" stroke-width="1.35" stroke-linejoin="round" stroke-linecap="round" opacity="1"/>
<path d="M511.10,126.80 C513.42,126.75 521.02,126.47 525.00,126.50 C528.98,126.53 531.70,126.95 535.00,127.00 C538.30,127.05 542.62,126.63 544.80,126.80 C546.98,126.97 546.90,128.30 548.10,128.00 C549.30,127.70 550.68,125.93 552.00,125.00 C553.32,124.07 554.22,122.83 556.00,122.40 C557.78,121.97 560.77,122.22 562.70,122.40 C564.63,122.58 565.55,123.40 567.60,123.50 C569.65,123.60 573.20,123.18 575.00,123.00 C576.80,122.82 577.10,123.43 578.40,122.40 C579.70,121.37 580.95,118.48 582.80,116.80 C584.65,115.12 587.47,113.05 589.50,112.30 C591.53,111.55 592.97,112.48 595.00,112.30 C597.03,112.12 599.65,111.08 601.70,111.20 C603.75,111.32 604.87,113.30 607.30,113.00 C609.73,112.70 613.88,109.15 616.30,109.40 C618.72,109.65 619.95,111.78 621.80,114.50 C623.65,117.22 625.53,124.38 627.40,125.70 C629.27,127.02 631.32,123.13 633.00,122.40 C634.68,121.67 636.00,120.48 637.50,121.30 C639.00,122.12 640.13,127.20 642.00,127.30 C643.87,127.40 646.65,122.35 648.70,121.90 C650.75,121.45 652.25,125.08 654.30,124.60 C656.35,124.12 658.95,119.55 661.00,119.00 C663.05,118.45 664.55,121.30 666.60,121.30 C668.65,121.30 670.70,118.63 673.30,119.00 C675.90,119.37 680.72,122.75 682.20,123.50" fill="none" stroke="#48c575" stroke-width="1.35" stroke-linejoin="round" stroke-linecap="round" opacity="1"/>
<path d="M511.10,145.90 C514.25,145.85 523.52,145.62 530.00,145.60 C536.48,145.58 544.17,145.80 550.00,145.80 C555.83,145.80 560.65,145.58 565.00,145.60 C569.35,145.62 572.77,146.23 576.10,145.90 C579.43,145.57 582.77,144.35 585.00,143.60 C587.23,142.85 588.00,143.07 589.50,141.40 C591.00,139.73 592.42,136.03 594.00,133.60 C595.58,131.17 597.72,128.23 599.00,126.80 C600.28,125.37 600.13,124.80 601.70,125.00 C603.27,125.20 605.97,128.07 608.40,128.00 C610.83,127.93 614.07,124.05 616.30,124.60 C618.53,125.15 620.32,129.25 621.80,131.30 C623.28,133.35 624.07,137.27 625.20,136.90 C626.33,136.53 627.37,130.85 628.60,129.10 C629.83,127.35 631.12,126.03 632.60,126.40 C634.08,126.77 635.93,129.73 637.50,131.30 C639.07,132.87 640.32,135.42 642.00,135.80 C643.68,136.18 645.73,133.68 647.60,133.60 C649.47,133.52 650.97,135.75 653.20,135.30 C655.43,134.85 658.77,130.90 661.00,130.90 C663.23,130.90 664.55,134.12 666.60,135.30 C668.65,136.48 670.70,136.87 673.30,138.00 C675.90,139.13 680.72,141.42 682.20,142.10" fill="none" stroke="#ffc524" stroke-width="1.35" stroke-linejoin="round" stroke-linecap="round" opacity="1"/>
<path d="M511.10,160.40 C512.05,160.85 514.53,163.28 516.80,163.10 C519.07,162.92 522.27,159.45 524.70,159.30 C527.13,159.15 529.35,162.77 531.40,162.20 C533.45,161.63 535.13,157.88 537.00,155.90 C538.87,153.92 540.55,151.60 542.60,150.30 C544.65,149.00 547.07,148.83 549.30,148.10 C551.53,147.37 554.13,147.58 556.00,145.90 C557.87,144.22 559.02,140.98 560.50,138.00 C561.98,135.02 563.60,130.42 564.90,128.00 C566.20,125.58 567.18,123.70 568.30,123.50 C569.42,123.30 570.30,124.20 571.60,126.80 C572.90,129.40 574.42,133.80 576.10,139.10 C577.78,144.40 580.02,156.17 581.70,158.60 C583.38,161.03 584.70,154.52 586.20,153.70 C587.70,152.88 589.40,154.27 590.70,153.70 C592.00,153.13 592.87,151.75 594.00,150.30 C595.13,148.85 596.22,146.48 597.50,145.00 C598.78,143.52 600.25,141.07 601.70,141.40 C603.15,141.73 604.70,144.77 606.20,147.00 C607.70,149.23 609.02,154.25 610.70,154.80 C612.38,155.35 614.63,150.48 616.30,150.30 C617.97,150.12 619.22,152.02 620.70,153.70 C622.18,155.38 623.70,160.97 625.20,160.40 C626.70,159.83 628.10,152.72 629.70,150.30 C631.30,147.88 633.13,145.70 634.80,145.90 C636.47,146.10 637.95,149.15 639.70,151.50 C641.45,153.85 642.87,158.15 645.30,160.00 C647.73,161.85 651.50,163.47 654.30,162.60 C657.10,161.73 659.30,156.28 662.10,154.80 C664.90,153.32 667.75,153.58 671.10,153.70 C674.45,153.82 680.35,155.20 682.20,155.50" fill="none" stroke="#4572b2" stroke-width="1.35" stroke-linejoin="round" stroke-linecap="round" opacity="1"/>
<path d="M511.10,178.30 C511.87,178.60 514.00,180.17 515.70,180.10 C517.40,180.03 519.43,177.83 521.30,177.90 C523.17,177.97 525.03,180.62 526.90,180.50 C528.77,180.38 530.45,177.27 532.50,177.20 C534.55,177.13 536.97,180.47 539.20,180.10 C541.43,179.73 543.85,175.67 545.90,175.00 C547.95,174.33 549.63,177.60 551.50,176.10 C553.37,174.60 555.23,168.43 557.10,166.00 C558.97,163.57 560.95,162.73 562.70,161.50 C564.45,160.27 566.12,160.08 567.60,158.60 C569.08,157.12 570.37,153.87 571.60,152.60 C572.83,151.33 573.87,150.07 575.00,151.00 C576.13,151.93 577.28,155.33 578.40,158.20 C579.52,161.07 580.60,165.30 581.70,168.20 C582.80,171.10 583.70,174.97 585.00,175.60 C586.30,176.23 587.83,172.48 589.50,172.00 C591.17,171.52 592.97,174.07 595.00,172.70 C597.03,171.33 599.83,164.73 601.70,163.80 C603.57,162.87 604.70,165.80 606.20,167.10 C607.70,168.40 609.02,171.78 610.70,171.60 C612.38,171.42 614.63,166.37 616.30,166.00 C617.97,165.63 619.48,168.10 620.70,169.40 C621.92,170.70 622.48,174.93 623.60,173.80 C624.72,172.67 625.83,166.40 627.40,162.60 C628.97,158.80 631.32,152.30 633.00,151.00 C634.68,149.70 636.00,152.48 637.50,154.80 C639.00,157.12 640.50,162.92 642.00,164.90 C643.50,166.88 644.27,165.95 646.50,166.70 C648.73,167.45 652.80,169.70 655.40,169.40 C658.00,169.10 659.87,165.28 662.10,164.90 C664.33,164.52 666.75,166.92 668.80,167.10 C670.85,167.28 672.17,165.82 674.40,166.00 C676.63,166.18 680.90,167.83 682.20,168.20" fill="none" stroke="#f01c1c" stroke-width="1.35" stroke-linejoin="round" stroke-linecap="round" opacity="1"/>
<line x1="567.6" y1="44" x2="567.6" y2="166" stroke="#2a2a2a" stroke-width="1.1" stroke-dasharray="3.2,2.3" stroke-linecap="butt"/>
<line x1="601.7" y1="76.8" x2="601.7" y2="168.2" stroke="#2a2a2a" stroke-width="1.1" stroke-dasharray="3.2,2.3" stroke-linecap="butt"/>
<line x1="616.2" y1="75.7" x2="616.2" y2="168" stroke="#2a2a2a" stroke-width="1.1" stroke-dasharray="3.2,2.3" stroke-linecap="butt"/>
<line x1="630.9" y1="54.6" x2="630.9" y2="162.6" stroke="#2a2a2a" stroke-width="1.1" stroke-dasharray="3.2,2.3" stroke-linecap="butt"/>
<rect x="581.7" y="105" width="43.4" height="36.2" fill="#73b9eb" fill-opacity="0.5"/>
<text x="568.4" y="40.3" font-size="8.6" text-anchor="middle" fill="#262626" >Bi–O</text>
<text x="608.5" y="71.3" font-size="8.6" text-anchor="middle" fill="#262626" >Bi–Bi1</text>
<text x="632.3" y="50.8" font-size="8.6" text-anchor="middle" fill="#262626" >Bi–Bi2</text>
<text x="472.7" y="24.35" font-size="31" text-anchor="start" fill="#000" >c</text>
<rect x="32.5" y="233.5" width="170.9" height="137.0" fill="none" stroke="#666666" stroke-width="1.1"/>
<line x1="32.5" y1="370.5" x2="32.5" y2="372.7" stroke="#666666" stroke-width="1" stroke-linecap="butt"/>
<text x="32.7" y="382.8" font-size="10" text-anchor="middle" fill="#262626" >50</text>
<line x1="82.9" y1="370.5" x2="82.9" y2="372.7" stroke="#666666" stroke-width="1" stroke-linecap="butt"/>
<text x="83.10000000000001" y="382.8" font-size="10" text-anchor="middle" fill="#262626" >100</text>
<line x1="133.3" y1="370.5" x2="133.3" y2="372.7" stroke="#666666" stroke-width="1" stroke-linecap="butt"/>
<text x="133.5" y="382.8" font-size="10" text-anchor="middle" fill="#262626" >150</text>
<line x1="183.7" y1="370.5" x2="183.7" y2="372.7" stroke="#666666" stroke-width="1" stroke-linecap="butt"/>
<text x="183.89999999999998" y="382.8" font-size="10" text-anchor="middle" fill="#262626" >200</text>
<line x1="57.7" y1="370.5" x2="57.7" y2="371.9" stroke="#666666" stroke-width="1" stroke-linecap="butt"/>
<line x1="108.1" y1="370.5" x2="108.1" y2="371.9" stroke="#666666" stroke-width="1" stroke-linecap="butt"/>
<line x1="158.5" y1="370.5" x2="158.5" y2="371.9" stroke="#666666" stroke-width="1" stroke-linecap="butt"/>
<text x="118.1" y="399.4" font-size="9.5" text-anchor="middle" fill="#262626" textLength="79.5" lengthAdjust="spacingAndGlyphs" >Raman shift (cm<tspan font-size="6.5" dy="-3.6">-1</tspan><tspan dy="3.6">)</tspan></text>
<text transform="translate(25.4,295.2) rotate(-90)" x="0" y="0" font-size="9.5" text-anchor="middle" fill="#262626" textLength="61" lengthAdjust="spacingAndGlyphs">Intensity (a.u.)</text>
<line x1="57.4" y1="233.8" x2="57.4" y2="369.6" stroke="#a8a8a8" stroke-width="1" stroke-dasharray="3,2" stroke-linecap="butt"/>
<line x1="82.4" y1="233.8" x2="82.4" y2="369.6" stroke="#a8a8a8" stroke-width="1" stroke-dasharray="3,2" stroke-linecap="butt"/>
<line x1="145.9" y1="233.8" x2="145.9" y2="369.6" stroke="#a8a8a8" stroke-width="1" stroke-dasharray="3,2" stroke-linecap="butt"/>
<path d="M33.00,279.70 L33.40,279.67 L33.92,279.45 L34.52,279.42 L35.20,279.21 L35.94,279.05 L36.71,278.99 L37.50,278.72 L38.29,278.52 L39.07,278.36 L39.81,278.17 L40.50,277.90 L41.22,277.70 L41.95,277.42 L42.67,277.24 L43.38,277.02 L44.09,276.74 L44.79,276.47 L45.47,276.16 L46.14,275.88 L46.78,275.47 L47.40,274.98 L47.86,274.57 L48.30,274.00 L48.72,273.52 L49.14,272.95 L49.54,272.36 L49.94,271.64 L50.32,271.02 L50.71,270.29 L51.09,269.73 L51.46,269.02 L51.84,268.47 L52.22,268.05 L52.60,267.39 L53.16,266.86 L53.71,266.16 L54.26,265.46 L54.80,264.87 L55.34,264.30 L55.87,263.82 L56.39,263.33 L56.90,262.98 L57.40,262.77 L58.10,262.62 L58.75,262.72 L59.38,262.92 L60.01,263.43 L60.67,263.90 L61.40,264.75 L61.74,265.19 L62.09,265.65 L62.45,266.43 L62.82,266.86 L63.21,267.66 L63.59,268.37 L63.98,269.21 L64.37,269.77 L64.76,270.65 L65.14,271.27 L65.52,271.96 L65.89,272.55 L66.25,273.16 L66.60,273.54 L67.26,274.40 L67.89,275.13 L68.50,275.79 L69.10,276.05 L69.69,276.57 L70.29,276.73 L70.90,276.68 L71.45,276.57 L71.99,276.23 L72.54,275.89 L73.09,275.29 L73.65,274.66 L74.20,274.00 L74.75,273.34 L75.30,272.69 L75.75,272.11 L76.21,271.64 L76.68,270.78 L77.15,270.01 L77.61,269.48 L78.07,268.80 L78.51,268.17 L78.94,267.54 L79.33,267.02 L79.70,266.62 L80.46,265.86 L81.06,265.30 L81.64,265.10 L82.30,265.30 L82.81,265.40 L83.34,265.58 L83.89,266.12 L84.46,266.59 L85.07,267.27 L85.70,268.24 L85.94,268.77 L86.19,269.24 L86.44,269.81 L86.69,270.42 L86.94,271.13 L87.20,271.91 L87.46,272.55 L87.73,273.24 L88.00,274.09 L88.28,274.80 L88.57,275.58 L88.86,276.31 L89.16,276.94 L89.46,277.60 L89.78,278.23 L90.10,278.74 L90.51,279.49 L90.92,280.17 L91.34,280.73 L91.77,281.31 L92.20,281.89 L92.65,282.43 L93.11,282.96 L93.59,283.50 L94.08,283.96 L94.58,284.45 L95.10,284.83 L95.64,285.33 L96.20,285.70 L96.77,285.99 L97.36,286.25 L97.96,286.64 L98.57,286.94 L99.20,287.08 L99.84,287.29 L100.50,287.47 L101.18,287.69 L101.88,287.77 L102.60,288.01 L103.34,288.09 L104.11,288.30 L104.90,288.40 L105.53,288.50 L106.17,288.53 L106.83,288.66 L107.51,288.77 L108.21,288.89 L108.92,288.94 L109.64,288.96 L110.37,289.07 L111.11,289.16 L111.85,289.16 L112.60,289.20 L113.35,289.26 L114.11,289.38 L114.86,289.42 L115.61,289.41 L116.36,289.55 L117.10,289.58 L117.80,289.64 L118.49,289.81 L119.19,289.87 L119.88,289.88 L120.58,290.00 L121.27,290.11 L121.97,290.14 L122.68,290.25 L123.38,290.38 L124.09,290.34 L124.81,290.53 L125.53,290.63 L126.25,290.70 L126.99,290.68 L127.73,290.83 L128.48,290.84 L129.23,290.97 L130.00,291.03 L130.66,291.05 L131.32,291.04 L131.98,291.09 L132.64,291.20 L133.30,291.14 L133.97,291.24 L134.63,291.26 L135.31,291.25 L135.98,291.40 L136.67,291.31 L137.36,291.43 L138.06,291.24 L138.77,291.25 L139.49,291.42 L140.22,291.42 L140.96,291.39 L141.72,291.42 L142.49,291.35 L143.28,291.43 L144.08,291.43 L144.90,291.49 L145.53,291.56 L146.17,291.53 L146.82,291.57 L147.48,291.53 L148.15,291.56 L148.84,291.60 L149.53,291.59 L150.22,291.68 L150.93,291.59 L151.64,291.74 L152.36,291.62 L153.08,291.73 L153.81,291.65 L154.54,291.79 L155.28,291.73 L156.02,291.75 L156.76,291.78 L157.50,291.73 L158.24,291.72 L158.98,291.69 L159.71,291.86 L160.45,291.78 L161.19,291.80 L161.92,291.84 L162.65,291.96 L163.37,291.79 L164.09,291.90 L164.80,291.88 L165.51,291.94 L166.22,291.84 L166.93,291.92 L167.65,291.99 L168.36,292.04 L169.07,292.05 L169.79,291.94 L170.51,292.00 L171.22,292.00 L171.94,291.95 L172.65,291.96 L173.37,292.08 L174.08,292.06 L174.79,292.06 L175.51,292.14 L176.22,292.04 L176.93,292.13 L177.64,292.11 L178.34,292.12 L179.05,292.17 L179.75,292.17 L180.45,292.19 L181.15,292.21 L181.85,292.31 L182.54,292.22 L183.23,292.30 L183.92,292.31 L184.60,292.28 L185.35,292.37 L186.11,292.32 L186.89,292.45 L187.69,292.39 L188.50,292.45 L189.32,292.53 L190.14,292.59 L190.97,292.64 L191.79,292.69 L192.62,292.68 L193.43,292.68 L194.24,292.81 L195.04,292.84 L195.82,292.82 L196.58,292.97 L197.33,292.97 L198.05,292.96 L198.74,293.07 L199.41,293.02 L200.04,293.08 L200.64,293.18 L201.20,293.12 L201.72,293.23 L202.19,293.19 L202.62,293.32 L203.00,293.26" fill="none" stroke="#f5585e" stroke-width="1.15" stroke-linejoin="round" stroke-linecap="round" opacity="1"/>
<path d="M33.00,287.01 L33.40,286.95 L33.88,287.05 L34.45,287.17 L35.09,287.21 L35.78,287.17 L36.52,287.38 L37.30,287.46 L38.10,287.47 L38.93,287.63 L39.76,287.57 L40.58,287.67 L41.40,287.77 L42.19,287.80 L42.94,287.80 L43.65,287.66 L44.31,287.58 L44.90,287.62 L45.73,287.35 L46.50,287.17 L47.22,286.80 L47.89,286.57 L48.53,286.18 L49.14,285.77 L49.72,285.34 L50.27,284.95 L50.82,284.57 L51.36,284.29 L51.90,284.01 L52.70,283.64 L53.42,283.22 L54.09,283.00 L54.73,282.63 L55.38,282.49 L56.06,282.40 L56.80,282.36 L57.41,282.48 L58.02,282.88 L58.64,283.13 L59.28,283.54 L59.94,283.97 L60.61,284.47 L61.31,284.91 L62.04,285.48 L62.80,285.98 L63.35,286.38 L63.93,286.70 L64.53,287.34 L65.15,287.83 L65.78,288.25 L66.42,288.83 L67.07,289.39 L67.71,289.91 L68.35,290.34 L68.99,290.81 L69.61,291.08 L70.22,291.28 L70.80,291.47 L71.54,291.60 L72.28,291.46 L73.01,291.33 L73.73,291.06 L74.44,290.69 L75.13,290.33 L75.80,289.88 L76.46,289.53 L77.09,289.20 L77.70,288.97 L78.51,288.66 L79.27,288.43 L79.98,288.16 L80.66,287.94 L81.33,287.89 L82.00,287.90 L82.70,287.98 L83.24,288.27 L83.76,288.54 L84.26,288.90 L84.76,289.23 L85.28,289.65 L85.82,290.26 L86.39,290.79 L87.02,291.37 L87.70,291.92 L88.16,292.35 L88.62,292.71 L89.09,293.23 L89.57,293.64 L90.06,294.08 L90.57,294.70 L91.09,295.32 L91.64,295.68 L92.22,296.32 L92.82,296.71 L93.46,297.18 L94.13,297.62 L94.84,298.00 L95.60,298.25 L96.19,298.51 L96.80,298.70 L97.44,298.88 L98.10,298.94 L98.79,299.18 L99.49,299.31 L100.21,299.43 L100.95,299.33 L101.70,299.48 L102.46,299.44 L103.23,299.60 L104.00,299.66 L104.79,299.62 L105.57,299.64 L106.36,299.76 L107.15,299.82 L107.94,299.78 L108.72,299.85 L109.50,299.77 L110.18,299.90 L110.87,299.97 L111.58,300.00 L112.30,300.09 L113.03,299.97 L113.76,299.93 L114.51,300.08 L115.25,300.03 L116.00,300.08 L116.75,300.10 L117.50,300.09 L118.24,300.13 L118.98,300.12 L119.71,299.96 L120.43,300.03 L121.13,300.12 L121.83,299.98 L122.50,300.03 L123.16,299.96 L123.80,299.92 L124.41,300.00 L125.00,299.95 L125.88,299.85 L126.71,299.86 L127.49,299.69 L128.23,299.66 L128.94,299.68 L129.63,299.56 L130.29,299.43 L130.94,299.43 L131.59,299.34 L132.23,299.31 L132.87,299.21 L133.53,299.06 L134.20,298.96 L134.90,298.89 L135.61,298.80 L136.32,298.77 L137.04,298.67 L137.75,298.53 L138.47,298.36 L139.18,298.20 L139.90,298.13 L140.62,297.95 L141.33,297.87 L142.05,297.67 L142.76,297.64 L143.48,297.66 L144.19,297.48 L144.90,297.43 L145.61,297.48 L146.32,297.58 L147.03,297.58 L147.73,297.53 L148.44,297.57 L149.14,297.64 L149.85,297.67 L150.56,297.79 L151.26,297.85 L151.97,297.88 L152.67,298.01 L153.38,298.11 L154.09,298.17 L154.80,298.24 L155.51,298.43 L156.21,298.58 L156.90,298.58 L157.59,298.68 L158.29,298.84 L158.98,298.92 L159.68,299.01 L160.38,299.24 L161.08,299.24 L161.80,299.38 L162.53,299.51 L163.27,299.62 L164.03,299.77 L164.80,299.93 L165.43,300.07 L166.03,300.12 L166.60,300.18 L167.16,300.21 L167.72,300.36 L168.28,300.40 L168.85,300.53 L169.43,300.68 L170.04,300.73 L170.68,300.80 L171.36,300.87 L172.09,301.00 L172.87,301.10 L173.71,301.15 L174.63,301.27 L175.62,301.44 L176.70,301.42 L177.24,301.53 L177.81,301.54 L178.42,301.73 L179.06,301.74 L179.73,301.79 L180.43,301.84 L181.16,301.90 L181.91,301.96 L182.68,301.92 L183.47,302.08 L184.28,302.16 L185.10,302.12 L185.93,302.29 L186.77,302.35 L187.62,302.30 L188.47,302.42 L189.32,302.49 L190.17,302.54 L191.02,302.65 L191.86,302.63 L192.69,302.74 L193.52,302.82 L194.33,302.91 L195.13,302.93 L195.91,302.97 L196.66,303.07 L197.40,302.99 L198.11,303.19 L198.80,303.18 L199.45,303.18 L200.07,303.26 L200.66,303.24 L201.21,303.27 L201.72,303.39 L202.19,303.40 L202.62,303.51 L203.00,303.46" fill="none" stroke="#a6a6a6" stroke-width="1.15" stroke-linejoin="round" stroke-linecap="round" opacity="1"/>
<path d="M33.00,295.98 L33.45,296.09 L34.01,296.78 L34.67,296.37 L35.42,296.24 L36.24,296.19 L37.11,296.23 L38.03,296.55 L38.96,296.83 L39.90,297.19 L40.53,297.34 L41.20,297.31 L41.91,297.31 L42.65,297.51 L43.41,297.42 L44.18,298.03 L44.96,298.67 L45.74,298.75 L46.50,299.19 L47.25,299.00 L47.97,299.77 L48.66,299.79 L49.30,299.84 L49.90,300.00 L50.81,299.32 L51.59,299.59 L52.28,299.25 L52.91,299.60 L53.54,298.75 L54.20,298.32 L54.94,298.35 L55.80,297.64 L56.45,298.12 L57.14,297.45 L57.88,297.47 L58.65,297.12 L59.44,297.41 L60.24,296.54 L61.04,297.16 L61.84,296.70 L62.62,296.86 L63.39,296.54 L64.11,296.90 L64.80,296.95 L65.57,297.18 L66.30,297.31 L66.99,297.63 L67.66,298.01 L68.31,297.99 L68.96,298.14 L69.62,298.48 L70.28,299.34 L70.97,299.45 L71.70,300.16 L72.33,300.22 L72.97,300.29 L73.62,301.13 L74.29,301.76 L74.96,301.60 L75.63,301.79 L76.31,302.18 L76.99,302.97 L77.67,302.94 L78.35,303.29 L79.03,303.84 L79.70,303.90 L80.42,304.13 L81.13,304.10 L81.83,304.18 L82.53,304.45 L83.23,304.49 L83.94,304.63 L84.65,304.40 L85.38,304.66 L86.13,304.76 L86.90,304.77 L87.70,305.04 L88.33,305.30 L88.96,305.26 L89.59,305.40 L90.22,305.33 L90.85,305.85 L91.50,305.95 L92.16,306.11 L92.84,306.20 L93.54,306.78 L94.28,307.50 L95.05,307.21 L95.85,307.35 L96.70,307.68 L97.60,307.65 L98.18,307.97 L98.79,307.94 L99.42,308.12 L100.08,308.51 L100.77,308.70 L101.47,308.80 L102.19,308.83 L102.92,309.29 L103.67,309.15 L104.42,309.81 L105.17,309.72 L105.93,310.00 L106.68,310.38 L107.43,310.50 L108.18,310.21 L108.91,310.63 L109.63,310.93 L110.33,310.71 L111.02,310.50 L111.68,311.18 L112.31,311.28 L112.92,311.46 L113.50,311.42 L114.39,311.47 L115.23,311.50 L116.02,311.76 L116.77,311.47 L117.49,311.39 L118.18,311.04 L118.84,311.27 L119.49,310.78 L120.13,310.82 L120.77,309.89 L121.41,310.25 L122.05,309.92 L122.72,309.56 L123.40,309.72 L124.01,309.23 L124.63,308.79 L125.24,308.36 L125.86,308.59 L126.48,307.92 L127.10,307.49 L127.71,306.72 L128.32,306.81 L128.93,306.20 L129.54,305.57 L130.14,305.20 L130.73,304.43 L131.31,304.62 L131.88,303.83 L132.45,304.00 L133.00,303.39 L133.80,302.98 L134.59,302.91 L135.38,302.58 L136.16,301.99 L136.93,302.02 L137.67,301.98 L138.39,301.57 L139.07,301.11 L139.72,301.21 L140.33,300.85 L140.90,300.76 L141.79,300.55 L142.52,300.18 L143.14,299.81 L143.71,299.18 L144.28,299.48 L144.90,299.25 L145.67,299.21 L146.41,299.46 L147.16,300.14 L147.98,299.69 L148.90,300.10 L149.40,300.99 L149.92,300.94 L150.46,301.83 L151.02,301.66 L151.60,302.22 L152.20,303.01 L152.82,303.52 L153.46,303.92 L154.12,304.46 L154.80,304.87 L155.27,305.18 L155.76,305.66 L156.27,306.47 L156.79,306.79 L157.31,307.09 L157.85,307.65 L158.40,308.27 L158.95,308.86 L159.51,309.02 L160.06,309.53 L160.62,310.11 L161.17,311.15 L161.72,311.02 L162.27,311.71 L162.80,311.42 L163.41,312.46 L164.00,312.35 L164.59,312.86 L165.17,313.40 L165.75,313.94 L166.33,314.42 L166.92,314.85 L167.51,315.19 L168.12,315.39 L168.74,316.49 L169.37,316.28 L170.02,316.67 L170.70,317.30 L171.35,317.30 L172.00,317.45 L172.67,317.62 L173.35,318.23 L174.04,317.70 L174.74,317.93 L175.45,318.39 L176.17,318.02 L176.90,318.50 L177.64,319.12 L178.39,318.88 L179.15,319.17 L179.92,319.44 L180.70,319.11 L181.35,319.57 L182.02,319.44 L182.71,319.42 L183.40,319.71 L184.11,319.85 L184.82,319.84 L185.54,319.84 L186.26,320.31 L186.99,320.41 L187.71,320.32 L188.43,320.21 L189.15,320.01 L189.86,320.11 L190.57,320.07 L191.26,320.42 L191.94,320.61 L192.60,320.63 L193.41,320.40 L194.26,320.30 L195.12,320.41 L195.98,320.36 L196.85,320.43 L197.71,320.59 L198.54,319.99 L199.35,320.62 L200.11,319.52 L200.83,319.53 L201.49,319.54 L202.07,319.61 L202.58,319.77 L203.00,320.31" fill="none" stroke="#6a6db4" stroke-width="1.15" stroke-linejoin="round" stroke-linecap="round" opacity="1"/>
<path d="M33.00,306.63 L33.46,307.02 L34.05,306.56 L34.75,306.56 L35.53,306.15 L36.38,306.84 L37.26,306.18 L38.16,305.98 L39.05,306.69 L39.90,306.24 L40.53,306.43 L41.17,306.48 L41.82,306.55 L42.49,306.68 L43.16,307.30 L43.84,308.05 L44.52,308.06 L45.20,308.19 L45.88,308.73 L46.56,308.42 L47.23,309.11 L47.90,308.80 L48.56,308.54 L49.20,308.78 L49.83,308.55 L50.46,308.09 L51.09,307.94 L51.73,307.82 L52.36,307.60 L53.01,306.72 L53.68,305.95 L54.36,306.81 L55.07,305.96 L55.80,305.70 L56.45,305.72 L57.14,305.31 L57.84,305.46 L58.57,304.67 L59.30,304.71 L60.05,304.24 L60.80,304.73 L61.55,304.12 L62.30,304.30 L63.03,304.26 L63.76,303.54 L64.46,303.75 L65.15,304.00 L65.80,303.91 L66.48,304.03 L67.13,304.52 L67.76,304.85 L68.38,304.85 L68.99,305.39 L69.58,306.03 L70.17,306.39 L70.75,306.85 L71.33,307.01 L71.91,308.16 L72.50,308.08 L73.09,308.57 L73.70,308.79 L74.42,309.11 L75.15,309.38 L75.88,309.35 L76.61,309.83 L77.34,310.20 L78.06,310.15 L78.79,310.37 L79.52,310.45 L80.25,310.48 L80.98,311.08 L81.70,310.63 L82.41,311.07 L83.09,311.39 L83.75,311.36 L84.41,311.18 L85.07,311.33 L85.74,312.14 L86.43,311.69 L87.15,312.11 L87.92,312.45 L88.73,312.57 L89.60,312.36 L90.17,312.50 L90.76,313.14 L91.39,313.18 L92.03,313.52 L92.69,313.83 L93.37,314.08 L94.07,313.94 L94.77,314.10 L95.48,315.00 L96.19,314.85 L96.90,314.96 L97.60,315.00 L98.30,315.87 L99.00,315.65 L99.67,315.93 L100.34,316.56 L100.98,316.69 L101.60,316.94 L102.37,316.72 L103.12,316.57 L103.86,317.28 L104.58,317.69 L105.29,317.84 L105.98,318.45 L106.68,318.54 L107.36,318.39 L108.04,318.98 L108.73,318.97 L109.41,319.03 L110.10,319.54 L110.79,318.93 L111.50,319.66 L112.21,319.70 L112.91,318.92 L113.61,319.37 L114.31,319.34 L115.00,319.04 L115.70,319.10 L116.40,318.94 L117.10,319.03 L117.81,318.73 L118.53,318.17 L119.26,318.81 L119.99,318.52 L120.74,317.85 L121.50,318.02 L122.11,318.07 L122.73,316.92 L123.37,316.91 L124.02,316.56 L124.69,316.49 L125.36,315.92 L126.03,315.27 L126.71,315.55 L127.38,314.77 L128.05,314.64 L128.72,314.65 L129.38,313.51 L130.02,313.23 L130.66,313.20 L131.27,312.62 L131.87,312.46 L132.45,312.05 L133.00,312.50 L133.87,311.60 L134.71,311.22 L135.52,310.90 L136.30,310.73 L137.05,310.01 L137.78,310.17 L138.47,310.25 L139.12,309.60 L139.75,309.75 L140.34,309.55 L140.90,309.27 L141.78,309.66 L142.49,308.84 L143.08,308.38 L143.64,307.81 L144.22,307.85 L144.90,307.73 L145.55,307.87 L146.20,308.13 L146.87,308.95 L147.57,309.00 L148.30,309.52 L149.08,309.95 L149.90,310.91 L150.37,310.41 L150.85,310.67 L151.34,311.50 L151.85,312.01 L152.37,312.47 L152.89,312.85 L153.43,313.73 L153.98,314.55 L154.53,314.74 L155.09,315.18 L155.66,316.08 L156.23,316.23 L156.80,316.71 L157.33,317.33 L157.87,317.13 L158.41,318.62 L158.95,318.57 L159.50,319.17 L160.05,319.56 L160.61,320.02 L161.18,320.01 L161.76,321.21 L162.34,321.32 L162.94,321.65 L163.55,322.75 L164.17,322.02 L164.80,322.89 L165.40,323.00 L166.02,322.97 L166.66,324.15 L167.30,323.58 L167.96,324.31 L168.62,324.54 L169.29,324.89 L169.97,324.88 L170.65,325.72 L171.33,325.69 L172.01,325.55 L172.69,325.79 L173.37,326.38 L174.04,326.22 L174.70,326.81 L175.39,326.96 L176.04,326.89 L176.67,326.69 L177.28,326.97 L177.89,327.49 L178.50,327.36 L179.12,328.04 L179.76,327.54 L180.44,327.82 L181.15,327.96 L181.92,327.88 L182.74,328.01 L183.63,328.27 L184.60,328.07 L185.17,328.24 L185.79,328.11 L186.45,328.76 L187.15,328.35 L187.88,328.57 L188.64,327.67 L189.43,328.35 L190.24,328.24 L191.06,328.59 L191.90,328.52 L192.74,328.42 L193.58,328.67 L194.42,328.99 L195.25,329.11 L196.07,328.76 L196.88,329.20 L197.66,328.83 L198.42,329.18 L199.14,328.86 L199.84,329.37 L200.49,329.73 L201.10,329.11 L201.66,329.52 L202.16,328.89 L202.61,329.12 L203.00,329.97" fill="none" stroke="#48c575" stroke-width="1.15" stroke-linejoin="round" stroke-linecap="round" opacity="1"/>
<path d="M33.00,323.28 L33.45,323.42 L34.03,322.87 L34.71,323.25 L35.48,323.03 L36.31,323.51 L37.19,323.06 L38.09,323.85 L39.00,322.97 L39.90,323.38 L40.53,322.87 L41.19,323.38 L41.88,323.92 L42.58,323.75 L43.30,323.61 L44.03,324.23 L44.77,324.51 L45.50,324.53 L46.22,324.80 L46.92,324.29 L47.61,325.17 L48.27,324.91 L48.90,324.17 L49.67,325.05 L50.38,324.26 L51.06,324.25 L51.71,323.32 L52.35,323.31 L52.99,322.65 L53.64,322.94 L54.32,322.31 L55.03,321.79 L55.80,321.61 L56.43,321.74 L57.09,321.00 L57.78,321.05 L58.48,320.31 L59.20,319.90 L59.93,319.90 L60.67,319.67 L61.40,319.53 L62.12,319.50 L62.82,318.97 L63.51,318.84 L64.17,319.02 L64.80,318.91 L65.57,318.85 L66.30,319.08 L66.99,318.72 L67.66,319.45 L68.31,319.54 L68.96,320.24 L69.62,320.94 L70.28,320.66 L70.97,321.65 L71.70,321.56 L72.38,321.86 L73.06,322.00 L73.75,322.48 L74.45,322.31 L75.15,322.13 L75.87,322.90 L76.60,322.94 L77.35,323.31 L78.11,323.47 L78.90,323.20 L79.70,323.75 L80.34,323.88 L81.00,323.98 L81.66,324.17 L82.33,324.37 L83.01,324.30 L83.70,324.55 L84.40,324.98 L85.11,324.63 L85.83,325.04 L86.56,324.99 L87.31,325.17 L88.06,325.53 L88.82,325.90 L89.60,326.48 L90.21,326.25 L90.84,326.76 L91.48,326.90 L92.13,327.04 L92.78,326.52 L93.45,327.60 L94.12,327.86 L94.79,327.88 L95.48,328.46 L96.16,329.08 L96.84,328.71 L97.53,329.15 L98.22,329.78 L98.90,329.36 L99.58,329.80 L100.26,330.37 L100.93,330.74 L101.60,331.00 L102.31,331.08 L103.02,331.66 L103.73,331.36 L104.45,331.11 L105.17,331.55 L105.89,331.92 L106.61,332.00 L107.32,331.56 L108.04,332.27 L108.75,332.09 L109.45,332.34 L110.15,332.85 L110.84,332.52 L111.52,332.45 L112.19,332.63 L112.85,332.53 L113.50,333.21 L114.27,332.89 L115.02,332.86 L115.76,332.39 L116.48,332.30 L117.20,332.40 L117.90,331.65 L118.59,332.29 L119.28,331.55 L119.97,331.71 L120.65,331.57 L121.33,331.10 L122.02,331.18 L122.71,331.07 L123.40,331.18 L124.10,330.59 L124.80,330.72 L125.51,330.14 L126.21,329.72 L126.92,329.71 L127.62,329.10 L128.32,328.99 L129.02,328.83 L129.71,328.69 L130.39,328.22 L131.06,327.54 L131.72,328.01 L132.37,327.52 L133.00,327.23 L133.80,326.90 L134.59,327.09 L135.38,326.89 L136.16,326.86 L136.93,326.55 L137.67,326.88 L138.39,326.35 L139.07,326.44 L139.72,326.31 L140.33,326.45 L140.90,325.93 L141.92,325.77 L142.69,325.50 L143.35,325.13 L144.04,325.02 L144.90,325.00 L145.46,325.67 L146.04,326.11 L146.65,325.82 L147.28,326.63 L147.93,326.56 L148.61,327.09 L149.31,327.68 L150.04,328.26 L150.80,328.81 L151.35,328.55 L151.92,329.06 L152.50,329.79 L153.11,330.09 L153.73,331.08 L154.36,330.89 L154.99,331.20 L155.63,332.08 L156.28,331.52 L156.92,332.12 L157.55,333.65 L158.18,333.19 L158.80,333.72 L159.46,334.03 L160.10,334.23 L160.73,334.78 L161.36,334.86 L161.99,335.78 L162.63,336.09 L163.26,336.40 L163.91,336.33 L164.58,336.39 L165.26,337.04 L165.97,337.17 L166.70,337.80 L167.35,337.50 L168.00,337.86 L168.67,338.29 L169.35,338.53 L170.04,338.59 L170.74,338.39 L171.45,338.67 L172.17,339.46 L172.90,339.31 L173.64,338.98 L174.39,339.76 L175.15,339.36 L175.92,339.49 L176.70,339.39 L177.35,340.06 L178.00,339.78 L178.65,339.81 L179.32,339.67 L179.98,339.64 L180.66,340.06 L181.34,340.08 L182.03,340.52 L182.72,339.95 L183.43,340.14 L184.14,340.53 L184.86,340.54 L185.59,340.21 L186.33,340.80 L187.07,340.60 L187.83,340.76 L188.60,340.68 L189.28,340.89 L190.00,340.60 L190.76,340.70 L191.55,341.09 L192.36,340.97 L193.19,341.02 L194.03,341.27 L194.87,341.11 L195.71,341.21 L196.54,340.61 L197.36,341.09 L198.16,341.48 L198.93,341.10 L199.66,341.30 L200.35,341.48 L201.00,341.43 L201.60,341.72 L202.13,341.66 L202.60,341.53 L203.00,341.87" fill="none" stroke="#4572b2" stroke-width="1.15" stroke-linejoin="round" stroke-linecap="round" opacity="1"/>
<path d="M33.00,332.61 L33.45,332.47 L34.03,332.64 L34.71,332.60 L35.48,332.29 L36.31,331.95 L37.19,332.00 L38.09,332.13 L39.00,332.22 L39.90,332.54 L40.53,332.14 L41.19,332.25 L41.88,331.94 L42.58,332.99 L43.30,333.11 L44.03,333.10 L44.77,333.14 L45.50,332.88 L46.22,333.90 L46.92,333.69 L47.61,334.38 L48.27,334.27 L48.90,334.42 L49.66,334.01 L50.36,334.21 L51.03,333.38 L51.66,333.87 L52.29,333.23 L52.92,332.65 L53.57,332.53 L54.26,332.07 L54.99,332.06 L55.80,331.52 L56.38,331.17 L56.99,331.15 L57.64,330.90 L58.30,330.71 L58.98,330.52 L59.68,330.35 L60.38,329.83 L61.09,329.84 L61.80,328.53 L62.51,328.87 L63.20,328.91 L63.88,328.17 L64.55,328.32 L65.19,328.36 L65.80,327.91 L66.53,328.26 L67.23,328.76 L67.90,328.83 L68.55,329.66 L69.18,330.29 L69.81,330.14 L70.44,330.35 L71.06,331.11 L71.70,331.44 L72.34,331.66 L73.01,332.29 L73.70,332.58 L74.36,332.84 L75.03,333.36 L75.70,333.57 L76.39,333.56 L77.09,333.51 L77.79,333.83 L78.49,333.85 L79.20,334.02 L79.90,333.85 L80.61,333.45 L81.31,334.58 L82.01,334.37 L82.70,334.57 L83.38,334.89 L84.06,335.09 L84.74,335.25 L85.41,335.93 L86.08,335.82 L86.75,336.08 L87.42,336.04 L88.10,336.48 L88.78,336.87 L89.47,336.97 L90.17,337.31 L90.88,337.24 L91.60,337.79 L92.28,337.66 L92.97,338.01 L93.67,338.14 L94.38,338.59 L95.09,339.03 L95.81,339.04 L96.54,338.96 L97.26,339.42 L97.99,339.85 L98.72,339.98 L99.44,340.12 L100.17,339.92 L100.89,340.26 L101.60,340.43 L102.31,340.69 L103.02,341.08 L103.73,341.26 L104.43,341.40 L105.14,341.86 L105.84,341.78 L106.55,342.10 L107.26,342.42 L107.96,342.26 L108.67,342.56 L109.37,342.58 L110.08,342.79 L110.79,343.11 L111.50,343.17 L112.21,343.30 L112.91,343.29 L113.61,342.89 L114.31,343.58 L115.00,343.37 L115.70,342.62 L116.40,342.63 L117.10,342.55 L117.81,342.56 L118.53,342.50 L119.26,342.17 L119.99,341.35 L120.74,342.51 L121.50,341.81 L122.14,341.63 L122.81,341.05 L123.49,341.05 L124.18,341.03 L124.88,340.45 L125.59,340.60 L126.31,340.08 L127.02,340.20 L127.74,339.56 L128.45,339.65 L129.15,338.63 L129.84,339.14 L130.51,338.65 L131.17,338.21 L131.80,338.35 L132.41,337.82 L133.00,337.90 L133.87,337.68 L134.71,337.47 L135.52,337.55 L136.30,337.16 L137.05,337.26 L137.78,336.65 L138.47,336.36 L139.12,336.26 L139.75,336.00 L140.34,335.55 L140.90,335.74 L141.77,335.05 L142.45,334.87 L143.03,334.47 L143.57,334.10 L144.17,333.80 L144.90,334.13 L145.46,334.25 L146.04,334.85 L146.65,334.99 L147.28,335.45 L147.93,335.54 L148.61,336.06 L149.31,336.33 L150.04,336.95 L150.80,337.88 L151.31,338.01 L151.83,338.40 L152.38,338.70 L152.94,339.64 L153.51,339.68 L154.09,340.42 L154.68,340.58 L155.27,341.28 L155.86,341.25 L156.46,341.61 L157.05,342.65 L157.64,342.73 L158.23,343.28 L158.80,343.82 L159.41,344.18 L160.00,344.47 L160.59,344.50 L161.17,345.01 L161.75,345.57 L162.33,346.09 L162.92,346.43 L163.51,346.74 L164.12,346.80 L164.74,347.31 L165.37,347.87 L166.02,347.71 L166.70,348.06 L167.34,348.67 L167.98,349.06 L168.63,348.98 L169.29,349.08 L169.96,349.02 L170.63,349.40 L171.32,349.40 L172.03,349.79 L172.75,350.08 L173.50,350.16 L174.26,350.51 L175.05,350.08 L175.86,350.15 L176.70,350.94 L177.34,350.96 L178.01,350.55 L178.69,350.92 L179.40,350.71 L180.12,351.06 L180.85,351.22 L181.60,351.46 L182.35,351.06 L183.12,351.06 L183.88,351.59 L184.65,351.43 L185.42,351.93 L186.19,351.37 L186.95,351.55 L187.70,351.10 L188.45,352.11 L189.18,352.22 L189.90,352.05 L190.60,351.92 L191.39,351.56 L192.20,351.77 L193.04,352.03 L193.88,352.68 L194.74,352.48 L195.59,352.15 L196.43,352.44 L197.26,352.51 L198.07,352.53 L198.85,352.21 L199.60,352.36 L200.31,352.74 L200.97,352.69 L201.57,352.46 L202.12,353.17 L202.60,352.65 L203.00,352.50" fill="none" stroke="#ffc524" stroke-width="1.15" stroke-linejoin="round" stroke-linecap="round" opacity="1"/>
<path d="M33.00,346.43 L33.44,346.37 L34.00,346.09 L34.67,346.51 L35.41,346.27 L36.22,345.94 L37.06,346.06 L37.92,346.01 L38.78,345.76 L39.61,346.03 L40.40,345.77 L41.10,345.94 L41.82,346.30 L42.56,346.00 L43.30,346.43 L44.05,346.48 L44.79,347.12 L45.51,347.01 L46.21,347.79 L46.88,347.89 L47.51,347.46 L48.10,347.74 L49.06,347.65 L49.89,347.68 L50.64,347.72 L51.35,347.74 L52.06,347.69 L52.80,347.36 L53.43,346.34 L54.01,346.25 L54.57,346.00 L55.16,345.62 L55.80,345.37 L56.54,345.12 L57.40,344.49 L57.98,344.23 L58.63,344.71 L59.32,344.03 L60.06,344.12 L60.82,343.17 L61.60,343.37 L62.38,343.19 L63.15,342.86 L63.90,342.13 L64.62,342.27 L65.29,341.80 L65.90,341.62 L66.83,341.85 L67.65,342.03 L68.39,341.99 L69.09,342.22 L69.79,342.66 L70.51,342.63 L71.30,343.21 L71.94,343.57 L72.57,343.87 L73.20,344.22 L73.84,344.23 L74.49,344.81 L75.18,345.17 L75.91,345.81 L76.68,345.52 L77.50,346.24 L78.11,345.93 L78.75,346.58 L79.42,346.35 L80.11,346.53 L80.82,346.77 L81.54,346.97 L82.28,346.31 L83.02,346.60 L83.76,346.10 L84.51,346.58 L85.25,346.52 L85.98,346.94 L86.70,346.88 L87.35,347.07 L87.98,346.93 L88.60,347.31 L89.22,347.30 L89.83,347.79 L90.44,347.61 L91.06,348.30 L91.69,348.74 L92.34,349.36 L93.00,349.34 L93.70,349.55 L94.43,349.68 L95.19,350.14 L96.00,349.99 L96.60,350.29 L97.23,349.93 L97.90,350.50 L98.58,351.14 L99.30,350.66 L100.03,351.41 L100.77,351.57 L101.53,351.75 L102.29,352.16 L103.05,352.34 L103.81,352.30 L104.57,352.80 L105.31,352.60 L106.04,353.63 L106.75,353.46 L107.44,353.87 L108.11,353.60 L108.74,354.43 L109.34,354.35 L109.90,354.29 L110.83,354.39 L111.68,354.50 L112.46,354.24 L113.17,354.36 L113.84,354.28 L114.47,354.33 L115.08,354.51 L115.69,354.28 L116.30,353.93 L116.93,353.89 L117.60,353.53 L118.34,353.34 L119.06,352.89 L119.76,352.78 L120.46,352.59 L121.16,352.65 L121.87,352.40 L122.61,352.33 L123.36,352.29 L124.16,351.96 L125.00,351.57 L125.63,351.36 L126.28,351.29 L126.95,351.40 L127.64,350.91 L128.34,350.66 L129.06,350.87 L129.78,351.08 L130.51,351.02 L131.25,350.76 L131.98,350.03 L132.72,350.35 L133.45,350.44 L134.18,350.41 L134.90,350.46 L135.63,349.62 L136.38,349.77 L137.15,349.09 L137.93,349.22 L138.71,348.96 L139.50,349.05 L140.28,348.68 L141.04,348.00 L141.78,348.21 L142.50,348.17 L143.19,348.29 L143.84,347.64 L144.44,347.53 L145.00,347.56 L145.91,347.97 L146.60,347.76 L147.15,348.04 L147.65,348.40 L148.18,348.45 L148.83,349.36 L149.70,349.20 L150.18,350.33 L150.70,350.02 L151.24,350.31 L151.81,350.72 L152.40,351.00 L153.02,351.48 L153.65,351.92 L154.29,352.26 L154.95,352.94 L155.62,353.49 L156.29,353.70 L156.97,354.30 L157.65,354.45 L158.33,355.10 L159.00,355.32 L159.63,355.46 L160.27,356.07 L160.91,356.33 L161.56,356.53 L162.21,357.00 L162.87,357.46 L163.54,357.33 L164.21,357.81 L164.89,358.38 L165.57,358.51 L166.26,358.98 L166.96,359.65 L167.66,359.00 L168.37,359.64 L169.08,359.69 L169.80,360.36 L170.47,360.33 L171.13,360.02 L171.77,360.80 L172.41,360.69 L173.05,360.76 L173.68,360.98 L174.33,361.15 L174.99,361.01 L175.66,361.24 L176.35,361.78 L177.06,361.29 L177.81,361.49 L178.58,361.93 L179.40,361.59 L180.25,361.87 L181.15,362.09 L182.10,361.88 L182.69,362.08 L183.33,361.98 L184.00,362.20 L184.71,362.37 L185.45,362.35 L186.22,362.46 L187.01,362.53 L187.82,362.68 L188.65,362.26 L189.48,362.59 L190.33,363.00 L191.19,362.58 L192.04,362.61 L192.89,362.72 L193.74,362.57 L194.58,362.92 L195.41,362.81 L196.22,362.80 L197.00,363.06 L197.77,363.20 L198.51,362.57 L199.22,362.83 L199.89,362.91 L200.52,362.65 L201.12,363.19 L201.67,363.57 L202.16,363.26 L202.61,363.40 L203.00,362.61" fill="none" stroke="#f01c1c" stroke-width="1.15" stroke-linejoin="round" stroke-linecap="round" opacity="1"/>
<text x="39.8" y="252.5" font-size="9" text-anchor="start" fill="#262626" ><tspan font-style="italic" font-size="7.8">E</tspan><tspan font-family="Liberation Serif" font-size="8.4" dy="1.2">g</tspan><tspan dy="-1.2" font-size="7.9"> (Bi-Bi)</tspan></text>
<text x="77.9" y="246.8" font-size="9" text-anchor="start" fill="#262626" ><tspan font-style="italic" font-size="7.8">A</tspan><tspan font-family="Liberation Serif" font-size="8.4" dy="1.0">1g</tspan><tspan dy="-1.0" font-size="7.9"> (Bi-Bi)</tspan></text>
<text x="141.8" y="273.9" font-size="8.1" text-anchor="end" fill="#262626" >(Bi-O)</text>
<text x="200.6" y="243.5" font-size="8.7" text-anchor="end" fill="#262626" >Bi-MOF</text>
<text x="200.3" y="287.6" font-size="7.6" text-anchor="end" fill="#262626" >-1.13 V</text>
<text x="200.3" y="299.7" font-size="7.6" text-anchor="end" fill="#262626" >-0.93 V</text>
<text x="201.5" y="314.5" font-size="7.6" text-anchor="end" fill="#262626" >-0.73 V</text>
<text x="200.9" y="326.9" font-size="7.6" text-anchor="end" fill="#262626" >-0.53 V</text>
<text x="200.7" y="337.2" font-size="7.6" text-anchor="end" fill="#262626" >-0.33 V</text>
<text x="200.7" y="348.6" font-size="7.6" text-anchor="end" fill="#262626" >-0.13 V</text>
<text x="200.7" y="360.0" font-size="7.6" text-anchor="end" fill="#262626" >0.07 V</text>
<text x="-1.2" y="249.6" font-size="30" text-anchor="start" fill="#000" >d</text>
<rect x="270.5" y="233.5" width="170.5" height="137.89999999999998" fill="none" stroke="#5c5c5c" stroke-width="1.1"/>
<line x1="270.5" y1="371.4" x2="270.5" y2="373.59999999999997" stroke="#5c5c5c" stroke-width="1" stroke-linecap="butt"/>
<text x="270.7" y="382.7" font-size="10" text-anchor="middle" fill="#262626" >50</text>
<line x1="320.5" y1="371.4" x2="320.5" y2="373.59999999999997" stroke="#5c5c5c" stroke-width="1" stroke-linecap="butt"/>
<text x="320.7" y="382.7" font-size="10" text-anchor="middle" fill="#262626" >100</text>
<line x1="370.5" y1="371.4" x2="370.5" y2="373.59999999999997" stroke="#5c5c5c" stroke-width="1" stroke-linecap="butt"/>
<text x="370.7" y="382.7" font-size="10" text-anchor="middle" fill="#262626" >150</text>
<line x1="420.5" y1="371.4" x2="420.5" y2="373.59999999999997" stroke="#5c5c5c" stroke-width="1" stroke-linecap="butt"/>
<text x="420.7" y="382.7" font-size="10" text-anchor="middle" fill="#262626" >200</text>
<line x1="295.5" y1="371.4" x2="295.5" y2="372.79999999999995" stroke="#5c5c5c" stroke-width="1" stroke-linecap="butt"/>
<line x1="345.5" y1="371.4" x2="345.5" y2="372.79999999999995" stroke="#5c5c5c" stroke-width="1" stroke-linecap="butt"/>
<line x1="395.5" y1="371.4" x2="395.5" y2="372.79999999999995" stroke="#5c5c5c" stroke-width="1" stroke-linecap="butt"/>
<text x="356.0" y="399.4" font-size="9.5" text-anchor="middle" fill="#262626" textLength="80" lengthAdjust="spacingAndGlyphs" >Raman shift (cm<tspan font-size="6.5" dy="-3.6">-1</tspan><tspan dy="3.6">)</tspan></text>
<text transform="translate(263.2,299.3) rotate(-90)" x="0" y="0" font-size="9.5" text-anchor="middle" fill="#262626" textLength="61.5" lengthAdjust="spacingAndGlyphs">Intensity (a.u.)</text>
<line x1="287.5" y1="234" x2="287.5" y2="370.4" stroke="#a8a8a8" stroke-width="1" stroke-dasharray="3,2" stroke-linecap="butt"/>
<line x1="313.9" y1="234" x2="313.9" y2="370.4" stroke="#a8a8a8" stroke-width="1" stroke-dasharray="3,2" stroke-linecap="butt"/>
<line x1="380.6" y1="234" x2="380.6" y2="370.4" stroke="#a8a8a8" stroke-width="1" stroke-dasharray="3,2" stroke-linecap="butt"/>
<path d="M270.80,279.48 L271.20,279.23 L271.73,279.11 L272.35,278.80 L273.05,278.47 L273.79,278.11 L274.55,277.64 L275.30,277.09 L276.00,276.37 L276.36,275.90 L276.73,275.27 L277.09,274.87 L277.46,274.23 L277.84,273.53 L278.21,272.97 L278.59,272.28 L278.96,271.60 L279.34,270.97 L279.72,270.16 L280.10,269.58 L280.47,268.93 L280.85,268.17 L281.23,267.66 L281.60,266.97 L282.03,266.27 L282.47,265.62 L282.91,264.81 L283.35,263.95 L283.79,263.24 L284.24,262.56 L284.68,261.77 L285.11,261.11 L285.54,260.52 L285.97,259.99 L286.39,259.51 L286.80,259.17 L287.20,259.02 L287.76,258.95 L288.29,258.85 L288.80,259.26 L289.30,259.70 L289.80,260.14 L290.30,260.90 L290.81,261.49 L291.34,262.41 L291.90,263.28 L292.21,263.76 L292.52,264.09 L292.83,264.82 L293.16,265.40 L293.48,266.14 L293.81,266.89 L294.14,267.56 L294.48,268.36 L294.81,268.94 L295.15,269.72 L295.49,270.48 L295.83,271.26 L296.16,271.99 L296.50,272.57 L296.84,273.20 L297.17,273.89 L297.50,274.33 L297.97,275.17 L298.44,275.82 L298.92,276.57 L299.40,277.36 L299.88,277.89 L300.36,278.52 L300.83,279.05 L301.30,279.63 L301.76,280.13 L302.22,280.48 L302.66,280.70 L303.10,281.02 L303.81,281.30 L304.48,281.20 L305.13,281.08 L305.77,280.73 L306.42,280.29 L307.09,279.71 L307.80,279.03 L308.21,278.69 L308.63,278.13 L309.07,277.41 L309.52,276.78 L309.97,276.08 L310.43,275.32 L310.89,274.64 L311.34,273.90 L311.79,273.24 L312.22,272.53 L312.63,272.02 L313.03,271.60 L313.40,271.28 L314.23,270.82 L314.93,270.70 L315.57,271.00 L316.27,271.71 L317.10,272.56 L317.40,272.92 L317.71,273.49 L318.03,273.98 L318.37,274.67 L318.71,275.34 L319.06,276.06 L319.42,276.70 L319.78,277.35 L320.15,278.26 L320.52,278.97 L320.89,279.72 L321.26,280.37 L321.62,281.03 L321.99,281.69 L322.35,282.18 L322.70,282.85 L323.20,283.46 L323.70,284.12 L324.20,284.78 L324.69,285.29 L325.18,285.91 L325.68,286.33 L326.18,286.95 L326.69,287.33 L327.21,287.70 L327.75,288.06 L328.30,288.40 L328.98,288.76 L329.65,289.00 L330.33,289.33 L331.02,289.54 L331.74,289.73 L332.48,289.91 L333.27,289.95 L334.10,290.11 L335.00,290.27 L335.60,290.36 L336.21,290.50 L336.83,290.65 L337.47,290.56 L338.12,290.64 L338.79,290.65 L339.48,290.69 L340.19,290.80 L340.92,290.74 L341.68,290.78 L342.47,290.77 L343.28,290.75 L344.12,290.84 L345.00,290.79 L345.60,290.88 L346.21,290.75 L346.83,290.83 L347.46,290.88 L348.10,290.76 L348.76,290.79 L349.42,290.83 L350.10,290.77 L350.78,290.69 L351.48,290.69 L352.19,290.71 L352.92,290.64 L353.65,290.64 L354.40,290.65 L355.16,290.57 L355.93,290.70 L356.72,290.58 L357.52,290.60 L358.33,290.60 L359.16,290.67 L360.00,290.58 L360.62,290.71 L361.26,290.71 L361.91,290.67 L362.58,290.58 L363.26,290.60 L363.96,290.67 L364.66,290.71 L365.37,290.75 L366.09,290.81 L366.82,290.79 L367.56,290.80 L368.30,290.84 L369.04,290.74 L369.79,290.93 L370.54,290.82 L371.29,290.82 L372.04,290.91 L372.78,290.95 L373.53,290.93 L374.27,291.00 L375.01,291.03 L375.74,291.08 L376.46,291.08 L377.18,291.05 L377.89,291.09 L378.58,291.16 L379.27,291.09 L379.94,291.10 L380.60,290.99 L381.38,291.11 L382.14,291.18 L382.88,291.10 L383.62,291.03 L384.33,291.08 L385.04,291.05 L385.74,291.03 L386.43,290.87 L387.12,290.83 L387.80,290.88 L388.48,290.84 L389.16,290.79 L389.83,290.66 L390.51,290.73 L391.20,290.75 L391.89,290.67 L392.59,290.70 L393.29,290.56 L394.01,290.52 L394.74,290.57 L395.48,290.50 L396.23,290.32 L397.01,290.34 L397.80,290.41 L398.45,290.37 L399.10,290.48 L399.76,290.46 L400.43,290.44 L401.11,290.36 L401.79,290.36 L402.48,290.42 L403.17,290.36 L403.87,290.41 L404.57,290.40 L405.28,290.43 L406.00,290.40 L406.71,290.36 L407.43,290.26 L408.16,290.35 L408.88,290.35 L409.61,290.47 L410.34,290.37 L411.07,290.42 L411.80,290.49 L412.54,290.51 L413.27,290.54 L414.00,290.52 L414.74,290.59 L415.47,290.50 L416.20,290.60 L416.93,290.49 L417.65,290.55 L418.38,290.61 L419.10,290.63 L419.81,290.60 L420.54,290.60 L421.29,290.59 L422.06,290.56 L422.84,290.59 L423.63,290.80 L424.44,290.65 L425.25,290.68 L426.07,290.71 L426.89,290.80 L427.72,290.83 L428.54,290.84 L429.36,290.83 L430.17,290.91 L430.98,290.88 L431.78,290.99 L432.56,291.08 L433.33,290.98 L434.09,291.07 L434.82,291.06 L435.54,291.09 L436.23,291.07 L436.89,291.16 L437.53,291.18 L438.13,291.26 L438.70,291.34 L439.24,291.19 L439.74,291.31 L440.20,291.23 L440.62,291.26 L441.00,291.24" fill="none" stroke="#f5585e" stroke-width="1.15" stroke-linejoin="round" stroke-linecap="round" opacity="1"/>
<path d="M270.80,291.82 L271.18,291.71 L271.68,291.50 L272.26,291.36 L272.92,291.14 L273.63,290.96 L274.37,290.66 L275.13,290.42 L275.88,289.94 L276.60,289.71 L277.28,289.11 L277.90,288.37 L278.23,287.94 L278.56,287.44 L278.89,286.91 L279.21,286.32 L279.53,285.77 L279.84,284.98 L280.15,284.21 L280.46,283.60 L280.76,282.88 L281.06,282.08 L281.35,281.42 L281.64,280.64 L281.92,279.90 L282.20,279.24 L282.47,278.51 L282.74,277.92 L283.00,277.43 L283.25,276.85 L283.50,276.33 L283.99,275.35 L284.45,274.45 L284.87,273.55 L285.27,272.86 L285.65,272.16 L286.03,271.61 L286.41,271.27 L286.79,270.84 L287.20,270.70 L287.72,270.66 L288.23,270.86 L288.73,271.13 L289.24,271.69 L289.78,272.41 L290.36,273.29 L291.00,274.37 L291.24,274.80 L291.48,275.41 L291.74,275.86 L292.00,276.56 L292.26,277.22 L292.53,277.77 L292.80,278.45 L293.08,279.16 L293.36,279.92 L293.65,280.75 L293.94,281.40 L294.23,282.13 L294.52,282.84 L294.82,283.66 L295.12,284.39 L295.41,285.14 L295.71,285.74 L296.01,286.36 L296.30,286.95 L296.60,287.65 L297.03,288.34 L297.46,289.07 L297.89,289.77 L298.34,290.53 L298.78,291.27 L299.23,291.97 L299.68,292.66 L300.13,293.22 L300.58,293.90 L301.03,294.25 L301.48,294.75 L301.92,295.08 L302.36,295.32 L302.80,295.47 L303.35,295.40 L303.90,295.17 L304.45,294.84 L305.00,294.31 L305.54,293.61 L306.08,292.96 L306.62,292.11 L307.15,291.45 L307.67,290.61 L308.19,290.12 L308.70,289.47 L309.25,288.94 L309.78,288.24 L310.30,287.46 L310.82,286.80 L311.32,286.15 L311.83,285.39 L312.34,285.00 L312.85,284.54 L313.37,284.26 L313.90,284.29 L314.31,284.48 L314.71,284.78 L315.12,285.11 L315.52,285.63 L315.92,286.25 L316.33,286.88 L316.74,287.66 L317.15,288.32 L317.58,289.06 L318.02,289.71 L318.46,290.43 L318.92,291.11 L319.40,291.80 L319.82,292.37 L320.25,292.99 L320.68,293.54 L321.12,294.05 L321.56,294.70 L322.01,295.42 L322.47,295.93 L322.94,296.55 L323.42,297.05 L323.90,297.62 L324.40,298.22 L324.91,298.75 L325.43,299.28 L325.96,299.69 L326.50,300.02 L327.09,300.61 L327.68,300.86 L328.28,301.06 L328.88,301.51 L329.49,301.72 L330.12,301.89 L330.76,302.10 L331.41,302.31 L332.09,302.34 L332.80,302.66 L333.53,302.78 L334.29,302.94 L335.08,303.03 L335.90,303.17 L336.50,303.38 L337.12,303.23 L337.76,303.54 L338.42,303.62 L339.10,303.56 L339.79,303.69 L340.49,303.73 L341.20,303.80 L341.92,303.82 L342.66,303.86 L343.40,303.98 L344.14,304.00 L344.89,304.08 L345.64,304.13 L346.39,304.10 L347.14,304.27 L347.89,304.28 L348.63,304.16 L349.37,304.26 L350.10,304.28 L350.79,304.36 L351.49,304.32 L352.19,304.47 L352.88,304.40 L353.58,304.55 L354.29,304.43 L354.99,304.58 L355.69,304.52 L356.40,304.56 L357.11,304.55 L357.82,304.56 L358.53,304.51 L359.24,304.56 L359.96,304.54 L360.67,304.57 L361.39,304.57 L362.11,304.63 L362.83,304.61 L363.55,304.59 L364.27,304.51 L365.00,304.65 L365.68,304.56 L366.35,304.58 L367.00,304.61 L367.64,304.57 L368.28,304.56 L368.90,304.55 L369.53,304.43 L370.15,304.54 L370.78,304.47 L371.42,304.50 L372.06,304.44 L372.72,304.40 L373.39,304.47 L374.08,304.38 L374.79,304.41 L375.53,304.37 L376.29,304.37 L377.08,304.37 L377.90,304.34 L378.76,304.26 L379.66,304.29 L380.60,304.37 L381.16,304.30 L381.73,304.29 L382.32,304.32 L382.91,304.37 L383.51,304.28 L384.12,304.33 L384.74,304.32 L385.37,304.32 L386.01,304.40 L386.65,304.34 L387.31,304.38 L387.97,304.41 L388.64,304.43 L389.32,304.44 L390.01,304.47 L390.70,304.41 L391.40,304.34 L392.11,304.52 L392.82,304.57 L393.54,304.49 L394.26,304.52 L394.99,304.58 L395.73,304.51 L396.47,304.57 L397.22,304.56 L397.97,304.63 L398.73,304.62 L399.49,304.72 L400.26,304.61 L401.03,304.63 L401.80,304.62 L402.58,304.71 L403.36,304.71 L404.14,304.73 L404.93,304.78 L405.71,304.72 L406.51,304.72 L407.30,304.91 L407.94,304.81 L408.60,304.78 L409.28,304.89 L409.97,304.86 L410.68,304.82 L411.41,304.90 L412.15,304.95 L412.90,304.95 L413.67,304.93 L414.44,305.03 L415.23,304.92 L416.02,304.97 L416.82,305.02 L417.63,304.96 L418.45,305.06 L419.26,305.06 L420.08,305.11 L420.91,305.10 L421.73,305.20 L422.55,305.05 L423.37,305.11 L424.19,305.12 L425.01,305.17 L425.82,305.21 L426.62,305.15 L427.42,305.27 L428.21,305.29 L428.99,305.26 L429.76,305.20 L430.52,305.31 L431.27,305.32 L432.00,305.27 L432.72,305.29 L433.43,305.32 L434.11,305.29 L434.78,305.39 L435.43,305.44 L436.06,305.42 L436.67,305.38 L437.25,305.42 L437.81,305.43 L438.35,305.54 L438.86,305.44 L439.35,305.49 L439.81,305.46 L440.23,305.54 L440.63,305.45 L441.00,305.53" fill="none" stroke="#a6a6a6" stroke-width="1.15" stroke-linejoin="round" stroke-linecap="round" opacity="1"/>
<path d="M270.80,302.46 L271.23,302.68 L271.77,302.59 L272.40,302.92 L273.13,303.25 L273.94,303.39 L274.83,303.34 L275.78,303.87 L276.80,303.66 L277.38,303.55 L278.01,303.48 L278.68,303.32 L279.38,303.50 L280.11,303.34 L280.86,303.22 L281.63,302.78 L282.40,302.54 L283.17,302.38 L283.94,302.35 L284.70,302.37 L285.44,302.25 L286.16,302.18 L286.85,302.47 L287.50,302.42 L288.21,302.71 L288.87,303.06 L289.51,303.12 L290.13,303.50 L290.72,304.09 L291.31,304.17 L291.89,304.72 L292.48,305.08 L293.07,305.63 L293.69,306.00 L294.33,306.51 L294.99,306.80 L295.70,307.34 L296.30,307.37 L296.93,307.72 L297.59,308.09 L298.26,308.19 L298.94,308.50 L299.64,308.84 L300.34,309.08 L301.05,309.48 L301.76,309.55 L302.46,309.68 L303.16,310.15 L303.84,310.16 L304.51,310.34 L305.17,310.51 L305.80,310.77 L306.40,310.79 L307.17,310.71 L307.92,310.61 L308.65,310.34 L309.36,310.35 L310.05,309.98 L310.72,309.45 L311.39,309.35 L312.04,308.79 L312.69,308.60 L313.33,308.43 L313.96,308.59 L314.60,308.63 L315.28,308.50 L315.93,308.63 L316.55,309.10 L317.16,309.20 L317.77,309.81 L318.37,309.89 L318.99,310.53 L319.62,310.72 L320.28,311.41 L320.97,311.59 L321.70,311.82 L322.29,312.15 L322.89,312.10 L323.49,312.64 L324.10,312.96 L324.72,313.41 L325.36,313.24 L326.01,313.75 L326.67,314.00 L327.36,314.16 L328.07,314.25 L328.81,314.51 L329.58,314.58 L330.37,314.88 L331.20,314.86 L331.80,315.04 L332.43,315.20 L333.07,315.16 L333.73,315.19 L334.41,315.41 L335.10,315.51 L335.81,315.62 L336.52,315.64 L337.25,315.84 L337.98,315.68 L338.72,315.88 L339.47,315.63 L340.21,315.86 L340.96,315.90 L341.71,316.05 L342.46,315.78 L343.20,316.09 L343.94,315.87 L344.68,315.84 L345.40,315.70 L346.13,316.02 L346.87,315.84 L347.62,316.01 L348.38,315.92 L349.14,315.99 L349.91,315.89 L350.68,315.78 L351.46,315.79 L352.23,315.82 L352.99,315.85 L353.75,315.67 L354.51,315.84 L355.25,315.45 L355.98,315.49 L356.70,315.68 L357.40,315.59 L358.08,315.74 L358.74,315.56 L359.38,315.25 L360.00,315.17 L360.89,315.19 L361.73,315.04 L362.51,314.99 L363.25,314.69 L363.95,314.50 L364.63,314.31 L365.30,314.22 L365.96,313.93 L366.63,313.83 L367.30,313.74 L368.00,313.44 L368.73,313.15 L369.50,313.16 L370.16,313.04 L370.83,312.67 L371.53,312.55 L372.24,312.21 L372.96,312.08 L373.69,311.87 L374.42,311.64 L375.16,311.53 L375.89,311.66 L376.61,311.39 L377.32,311.05 L378.02,311.02 L378.70,310.86 L379.36,310.78 L379.99,310.48 L380.60,310.68 L381.42,310.60 L382.16,310.79 L382.86,310.99 L383.51,310.78 L384.14,311.15 L384.77,311.78 L385.41,312.18 L386.07,312.42 L386.78,312.46 L387.55,312.81 L388.40,313.17 L388.98,313.21 L389.56,313.12 L390.15,313.63 L390.75,313.61 L391.36,313.84 L391.98,313.78 L392.62,314.01 L393.27,314.45 L393.94,314.40 L394.64,314.66 L395.35,314.94 L396.09,314.89 L396.85,315.03 L397.64,315.12 L398.46,315.37 L399.31,315.43 L400.20,315.55 L400.78,315.75 L401.37,315.68 L401.97,315.83 L402.59,315.63 L403.22,315.75 L403.87,315.91 L404.52,315.77 L405.19,315.74 L405.86,315.95 L406.55,315.94 L407.24,316.08 L407.95,316.26 L408.66,316.05 L409.38,316.01 L410.10,316.14 L410.84,316.13 L411.57,316.17 L412.31,316.41 L413.06,316.37 L413.81,316.38 L414.56,316.34 L415.32,316.52 L416.07,316.43 L416.83,316.69 L417.59,316.52 L418.34,316.55 L419.10,316.68 L419.77,316.89 L420.47,316.46 L421.19,316.77 L421.94,316.61 L422.70,316.60 L423.48,316.79 L424.27,316.99 L425.08,316.73 L425.89,316.92 L426.71,317.24 L427.54,317.22 L428.36,317.07 L429.19,317.23 L430.01,317.21 L430.83,317.17 L431.63,317.19 L432.43,317.48 L433.21,317.29 L433.98,317.40 L434.72,317.39 L435.45,317.31 L436.15,317.51 L436.83,317.80 L437.48,317.48 L438.09,317.63 L438.68,317.81 L439.22,317.75 L439.73,317.72 L440.20,317.82 L440.62,317.81 L441.00,317.79" fill="none" stroke="#6a6db4" stroke-width="1.15" stroke-linejoin="round" stroke-linecap="round" opacity="1"/>
<path d="M270.80,314.19 L271.21,314.36 L271.72,314.35 L272.31,314.76 L272.98,314.92 L273.71,315.09 L274.48,315.20 L275.28,315.56 L276.10,315.63 L276.91,316.14 L277.71,316.13 L278.48,316.55 L279.20,316.49 L279.96,316.80 L280.72,316.86 L281.47,316.96 L282.23,316.85 L282.99,316.68 L283.74,317.00 L284.49,316.90 L285.25,316.85 L286.00,316.98 L286.75,317.27 L287.50,317.47 L288.18,317.63 L288.84,317.89 L289.50,318.18 L290.15,318.28 L290.80,318.61 L291.45,318.88 L292.11,319.18 L292.79,319.51 L293.48,319.86 L294.19,320.07 L294.93,320.44 L295.70,320.81 L296.35,320.87 L297.02,321.20 L297.72,321.26 L298.44,321.50 L299.17,322.05 L299.92,322.06 L300.67,322.46 L301.43,322.30 L302.18,322.46 L302.93,322.95 L303.66,323.11 L304.38,323.04 L305.08,323.55 L305.75,323.67 L306.40,323.61 L307.24,323.85 L308.06,323.88 L308.85,323.79 L309.61,323.65 L310.36,323.71 L311.09,323.48 L311.80,323.37 L312.51,323.19 L313.21,323.30 L313.91,323.42 L314.60,323.23 L315.34,323.31 L316.05,323.32 L316.74,323.59 L317.40,323.88 L318.07,323.93 L318.74,324.21 L319.43,324.46 L320.14,324.41 L320.90,324.64 L321.70,324.97 L322.34,325.00 L322.98,325.05 L323.63,325.34 L324.29,325.55 L324.97,325.80 L325.65,325.73 L326.36,326.03 L327.09,326.21 L327.85,325.96 L328.64,326.53 L329.46,326.57 L330.31,326.50 L331.20,327.01 L331.80,326.90 L332.43,326.94 L333.07,327.25 L333.73,327.14 L334.41,326.94 L335.10,327.10 L335.81,327.35 L336.52,327.33 L337.25,327.40 L337.98,327.24 L338.72,327.40 L339.47,327.21 L340.21,327.28 L340.96,327.39 L341.71,327.30 L342.46,327.40 L343.20,327.31 L343.94,327.35 L344.68,327.56 L345.40,327.36 L346.13,327.41 L346.87,327.07 L347.62,327.14 L348.38,327.29 L349.14,326.93 L349.91,327.03 L350.68,326.99 L351.46,327.11 L352.23,326.70 L352.99,326.78 L353.75,326.78 L354.51,326.72 L355.25,326.43 L355.98,326.71 L356.70,326.57 L357.40,326.56 L358.08,326.40 L358.74,326.33 L359.38,326.14 L360.00,326.06 L360.89,325.82 L361.73,325.89 L362.51,325.55 L363.25,325.69 L363.95,325.46 L364.63,325.17 L365.30,325.11 L365.96,324.74 L366.63,324.65 L367.30,324.54 L368.00,324.30 L368.73,324.26 L369.50,324.17 L370.16,324.00 L370.83,323.85 L371.53,323.67 L372.24,323.44 L372.96,323.61 L373.69,323.35 L374.42,323.41 L375.16,322.99 L375.89,322.95 L376.61,322.97 L377.32,322.97 L378.02,322.83 L378.70,322.75 L379.36,322.43 L379.99,322.65 L380.60,322.82 L381.42,322.39 L382.16,322.81 L382.86,323.20 L383.51,323.01 L384.14,323.40 L384.77,323.86 L385.41,323.95 L386.07,324.17 L386.78,324.52 L387.55,324.64 L388.40,324.98 L388.98,325.02 L389.56,325.28 L390.15,325.22 L390.75,325.45 L391.36,325.63 L391.98,325.49 L392.62,326.03 L393.27,326.02 L393.94,326.14 L394.64,326.19 L395.35,326.49 L396.09,326.53 L396.85,326.86 L397.64,327.11 L398.46,326.99 L399.31,327.09 L400.20,327.28 L400.78,327.33 L401.37,327.50 L401.97,327.26 L402.59,327.64 L403.22,327.64 L403.87,327.64 L404.52,327.59 L405.19,327.95 L405.86,328.04 L406.55,328.00 L407.24,328.11 L407.95,328.18 L408.66,328.16 L409.38,328.30 L410.10,328.13 L410.84,328.41 L411.57,328.07 L412.31,328.56 L413.06,328.67 L413.81,328.67 L414.56,328.48 L415.32,328.60 L416.07,328.76 L416.83,328.64 L417.59,328.84 L418.34,328.84 L419.10,329.08 L419.77,328.88 L420.47,328.92 L421.19,329.10 L421.94,329.21 L422.70,329.09 L423.48,329.00 L424.27,329.06 L425.08,329.07 L425.89,329.32 L426.71,329.23 L427.54,329.40 L428.36,329.27 L429.19,329.45 L430.01,329.60 L430.83,329.44 L431.63,329.75 L432.43,329.66 L433.21,329.60 L433.98,329.70 L434.72,329.77 L435.45,329.71 L436.15,329.78 L436.83,329.91 L437.48,329.68 L438.09,330.24 L438.68,330.08 L439.22,330.15 L439.73,330.31 L440.20,330.14 L440.62,330.07 L441.00,330.08" fill="none" stroke="#48c575" stroke-width="1.15" stroke-linejoin="round" stroke-linecap="round" opacity="1"/>
<path d="M270.80,328.06 L271.21,328.27 L271.72,328.12 L272.31,328.59 L272.98,328.51 L273.71,328.60 L274.48,329.09 L275.28,329.07 L276.10,329.42 L276.91,329.37 L277.71,329.82 L278.48,329.86 L279.20,330.24 L279.88,330.07 L280.53,330.33 L281.17,330.44 L281.80,330.74 L282.43,330.73 L283.06,330.96 L283.71,331.15 L284.39,331.25 L285.10,331.48 L285.85,331.66 L286.64,331.61 L287.50,332.12 L288.11,332.00 L288.74,332.18 L289.41,332.63 L290.10,332.49 L290.80,332.71 L291.53,332.98 L292.27,332.98 L293.02,333.21 L293.78,333.36 L294.55,333.54 L295.31,333.59 L296.08,334.02 L296.84,334.06 L297.60,334.29 L298.35,334.37 L299.08,334.44 L299.80,334.80 L300.50,334.70 L301.22,335.05 L301.93,334.97 L302.62,335.11 L303.31,335.33 L303.99,335.72 L304.66,335.67 L305.32,335.69 L305.99,335.84 L306.66,336.04 L307.33,335.95 L308.01,335.88 L308.69,336.09 L309.38,336.31 L310.09,336.33 L310.81,336.48 L311.55,336.78 L312.30,336.66 L312.95,336.70 L313.60,336.85 L314.26,337.07 L314.91,337.19 L315.57,337.14 L316.24,337.09 L316.91,337.13 L317.58,337.11 L318.26,337.24 L318.96,337.48 L319.66,337.50 L320.37,337.52 L321.09,337.42 L321.82,337.59 L322.56,337.56 L323.32,337.88 L324.09,337.75 L324.88,337.79 L325.68,337.85 L326.50,337.90 L327.12,337.94 L327.76,337.90 L328.42,338.04 L329.09,338.05 L329.77,338.19 L330.47,338.19 L331.17,338.24 L331.89,338.14 L332.61,338.24 L333.34,338.01 L334.08,338.21 L334.81,338.30 L335.55,338.09 L336.30,338.55 L337.04,338.56 L337.78,338.49 L338.51,338.78 L339.24,338.33 L339.97,338.55 L340.69,338.58 L341.40,338.52 L342.10,338.77 L342.79,338.73 L343.46,338.66 L344.12,338.49 L344.77,338.63 L345.40,338.60 L346.23,338.64 L347.06,338.38 L347.87,338.40 L348.68,338.61 L349.47,338.44 L350.26,338.36 L351.03,338.31 L351.79,337.92 L352.55,338.35 L353.29,337.93 L354.02,337.89 L354.73,338.02 L355.44,338.05 L356.13,337.95 L356.81,337.67 L357.48,337.56 L358.13,337.66 L358.77,337.55 L359.39,337.24 L360.00,337.56 L360.89,337.08 L361.73,337.27 L362.51,337.18 L363.25,337.15 L363.95,337.00 L364.63,337.01 L365.30,336.86 L365.96,336.64 L366.63,336.59 L367.30,336.74 L368.00,336.26 L368.73,336.48 L369.50,336.22 L370.16,336.00 L370.83,336.00 L371.53,336.05 L372.24,335.53 L372.96,335.85 L373.69,335.76 L374.42,335.43 L375.16,335.32 L375.89,335.24 L376.61,335.23 L377.32,334.90 L378.02,334.88 L378.70,334.91 L379.36,334.64 L379.99,334.84 L380.60,334.79 L381.42,334.94 L382.16,334.81 L382.86,335.08 L383.51,335.31 L384.14,335.48 L384.77,335.56 L385.41,336.05 L386.07,336.12 L386.78,336.37 L387.55,336.54 L388.40,336.78 L389.01,336.80 L389.64,336.80 L390.26,337.07 L390.90,337.04 L391.55,337.14 L392.22,337.22 L392.90,337.13 L393.61,337.35 L394.33,337.45 L395.08,337.31 L395.85,337.51 L396.66,337.61 L397.49,337.77 L398.36,337.71 L399.26,337.83 L400.20,337.97 L400.78,337.79 L401.37,337.90 L401.97,337.99 L402.59,338.16 L403.22,338.27 L403.87,338.16 L404.52,338.18 L405.19,338.18 L405.86,338.29 L406.55,338.51 L407.24,338.34 L407.95,338.33 L408.66,338.63 L409.38,338.46 L410.10,338.50 L410.84,338.46 L411.57,338.73 L412.31,338.62 L413.06,338.47 L413.81,338.48 L414.56,338.82 L415.32,338.77 L416.07,338.94 L416.83,339.00 L417.59,339.17 L418.34,339.21 L419.10,338.97 L419.77,339.12 L420.47,339.11 L421.19,339.37 L421.94,339.15 L422.70,339.46 L423.48,339.24 L424.27,339.64 L425.08,339.72 L425.89,339.46 L426.71,339.73 L427.54,339.73 L428.36,339.67 L429.19,340.05 L430.01,339.92 L430.83,340.21 L431.63,340.21 L432.43,340.45 L433.21,340.24 L433.98,340.47 L434.72,340.46 L435.45,340.46 L436.15,340.69 L436.83,340.63 L437.48,340.63 L438.09,340.76 L438.68,340.63 L439.22,340.97 L439.73,341.09 L440.20,340.75 L440.62,340.98 L441.00,340.95" fill="none" stroke="#4572b2" stroke-width="1.15" stroke-linejoin="round" stroke-linecap="round" opacity="1"/>
<path d="M270.80,335.01 L271.21,335.33 L271.72,335.62 L272.31,335.65 L272.98,335.80 L273.71,336.29 L274.48,336.31 L275.28,336.54 L276.10,336.82 L276.91,337.27 L277.71,337.43 L278.48,337.69 L279.20,337.82 L279.88,338.15 L280.53,338.31 L281.17,338.72 L281.80,338.70 L282.43,338.77 L283.06,339.28 L283.71,339.30 L284.39,339.46 L285.10,339.72 L285.85,339.87 L286.64,339.82 L287.50,340.29 L288.07,340.60 L288.68,340.71 L289.30,340.67 L289.95,340.89 L290.62,341.16 L291.30,341.53 L292.00,341.50 L292.70,341.66 L293.42,341.74 L294.14,341.94 L294.87,342.10 L295.60,342.34 L296.32,342.39 L297.04,342.62 L297.76,342.69 L298.47,343.12 L299.16,343.21 L299.84,343.25 L300.50,343.37 L301.22,343.63 L301.93,343.68 L302.62,343.72 L303.31,343.56 L303.99,343.77 L304.66,344.17 L305.32,344.16 L305.99,344.18 L306.66,344.14 L307.33,344.52 L308.01,344.38 L308.69,344.62 L309.38,344.67 L310.09,344.69 L310.81,344.70 L311.55,344.95 L312.30,344.83 L312.95,344.99 L313.60,345.12 L314.26,345.34 L314.91,345.21 L315.57,345.35 L316.24,345.47 L316.91,345.16 L317.58,345.40 L318.26,345.53 L318.96,345.55 L319.66,345.79 L320.37,345.69 L321.09,345.88 L321.82,345.98 L322.56,345.89 L323.32,346.02 L324.09,346.21 L324.88,346.20 L325.68,346.15 L326.50,345.99 L327.12,346.16 L327.76,346.27 L328.42,346.37 L329.09,346.39 L329.77,346.42 L330.47,346.35 L331.17,346.59 L331.89,346.68 L332.61,346.61 L333.34,346.67 L334.08,346.81 L334.81,346.71 L335.55,346.85 L336.30,346.96 L337.04,346.81 L337.78,346.92 L338.51,346.87 L339.24,346.87 L339.97,346.81 L340.69,347.11 L341.40,347.40 L342.10,347.09 L342.79,347.34 L343.46,347.29 L344.12,347.14 L344.77,347.30 L345.40,347.15 L346.23,346.95 L347.06,347.30 L347.87,347.16 L348.68,347.15 L349.47,347.24 L350.26,347.25 L351.03,347.08 L351.79,347.11 L352.55,347.08 L353.29,346.90 L354.02,347.04 L354.73,346.83 L355.44,346.90 L356.13,346.91 L356.81,346.85 L357.48,346.44 L358.13,346.52 L358.77,346.51 L359.39,346.38 L360.00,346.38 L360.89,346.27 L361.73,346.16 L362.51,346.27 L363.25,345.87 L363.95,345.68 L364.63,345.41 L365.30,345.29 L365.96,345.11 L366.63,345.04 L367.30,344.64 L368.00,344.59 L368.73,344.33 L369.50,344.10 L370.15,344.26 L370.82,344.02 L371.50,343.93 L372.19,343.94 L372.88,343.76 L373.59,343.41 L374.30,343.31 L375.01,343.07 L375.73,342.96 L376.44,342.68 L377.15,342.86 L377.86,342.69 L378.56,342.74 L379.25,342.80 L379.93,342.47 L380.60,342.62 L381.29,342.64 L381.95,342.93 L382.58,342.90 L383.20,343.31 L383.80,343.59 L384.40,343.78 L385.00,344.01 L385.61,344.07 L386.24,344.29 L386.89,344.38 L387.57,344.83 L388.28,344.86 L389.04,345.17 L389.84,345.65 L390.70,345.82 L391.29,345.69 L391.91,346.21 L392.55,345.93 L393.20,346.05 L393.88,346.48 L394.57,346.61 L395.28,346.51 L396.00,346.73 L396.73,346.58 L397.47,346.97 L398.22,346.92 L398.98,347.21 L399.74,347.13 L400.51,347.25 L401.28,347.49 L402.05,347.59 L402.81,347.56 L403.58,347.52 L404.34,347.82 L405.09,348.04 L405.84,348.04 L406.57,347.87 L407.30,348.11 L408.02,348.20 L408.74,348.42 L409.45,348.27 L410.17,348.32 L410.88,348.59 L411.59,348.29 L412.31,348.40 L413.02,348.41 L413.73,348.69 L414.44,348.50 L415.16,348.70 L415.87,348.56 L416.58,348.86 L417.30,348.77 L418.01,348.66 L418.73,348.85 L419.45,348.84 L420.17,348.83 L420.89,348.74 L421.61,349.12 L422.34,348.94 L423.07,348.92 L423.80,349.02 L424.52,349.04 L425.26,348.94 L426.03,349.26 L426.83,348.99 L427.63,349.33 L428.45,349.04 L429.28,349.15 L430.12,349.51 L430.95,349.24 L431.79,349.47 L432.61,349.54 L433.43,349.72 L434.23,349.82 L435.02,349.76 L435.78,349.76 L436.51,349.88 L437.22,349.90 L437.89,349.63 L438.53,349.93 L439.12,349.79 L439.67,350.24 L440.17,350.10 L440.61,349.90 L441.00,350.23" fill="none" stroke="#ffc524" stroke-width="1.15" stroke-linejoin="round" stroke-linecap="round" opacity="1"/>
<path d="M270.80,349.59 L271.21,349.92 L271.72,349.91 L272.31,350.25 L272.98,350.59 L273.71,350.69 L274.48,351.22 L275.28,351.58 L276.10,351.95 L276.91,352.18 L277.71,352.38 L278.48,352.68 L279.20,352.71 L279.88,352.93 L280.53,353.33 L281.17,353.19 L281.80,353.41 L282.43,353.72 L283.06,353.73 L283.71,353.73 L284.39,353.92 L285.10,354.03 L285.85,354.09 L286.64,354.30 L287.50,354.59 L288.11,354.53 L288.74,354.71 L289.41,354.70 L290.10,354.84 L290.80,355.04 L291.53,355.10 L292.27,355.12 L293.02,355.20 L293.78,355.45 L294.55,355.36 L295.31,355.33 L296.08,355.67 L296.84,355.76 L297.60,355.75 L298.35,355.78 L299.08,356.09 L299.80,356.17 L300.50,356.15 L301.27,356.19 L302.02,356.37 L302.75,356.59 L303.48,356.40 L304.20,356.66 L304.91,356.40 L305.62,356.67 L306.33,356.90 L307.04,356.93 L307.75,356.86 L308.48,357.18 L309.21,357.25 L309.96,357.35 L310.72,357.30 L311.50,357.40 L312.30,357.48 L312.95,357.60 L313.60,357.65 L314.26,357.69 L314.91,357.86 L315.57,357.98 L316.24,357.93 L316.91,358.14 L317.58,357.85 L318.26,358.43 L318.96,358.09 L319.66,358.21 L320.37,358.37 L321.09,358.50 L321.82,358.46 L322.56,358.30 L323.32,358.50 L324.09,358.45 L324.88,358.74 L325.68,358.62 L326.50,358.41 L327.15,358.63 L327.81,358.78 L328.49,358.63 L329.19,358.83 L329.90,358.59 L330.63,358.76 L331.36,358.92 L332.11,358.82 L332.86,358.70 L333.62,358.73 L334.39,358.94 L335.16,358.90 L335.93,358.86 L336.70,358.91 L337.46,358.80 L338.23,358.81 L338.99,358.79 L339.75,358.74 L340.50,358.92 L341.24,358.66 L341.96,359.03 L342.68,358.85 L343.39,358.71 L344.07,358.90 L344.75,358.92 L345.40,358.74 L346.23,358.54 L347.06,358.67 L347.87,358.64 L348.68,358.54 L349.47,358.41 L350.26,358.44 L351.03,358.53 L351.79,358.45 L352.55,358.55 L353.29,358.25 L354.02,358.44 L354.73,358.22 L355.44,358.33 L356.13,358.26 L356.81,358.37 L357.48,358.22 L358.13,358.08 L358.77,358.10 L359.39,357.86 L360.00,358.01 L360.89,358.01 L361.73,357.94 L362.51,357.80 L363.25,357.85 L363.95,357.81 L364.63,357.77 L365.30,357.58 L365.96,357.73 L366.63,357.58 L367.30,357.39 L368.00,357.44 L368.73,357.52 L369.50,357.49 L370.15,357.19 L370.82,357.03 L371.50,356.96 L372.19,356.96 L372.88,356.90 L373.59,356.62 L374.30,356.43 L375.01,356.49 L375.73,356.23 L376.44,355.96 L377.15,355.92 L377.86,355.96 L378.56,355.73 L379.25,355.73 L379.93,355.61 L380.60,355.77 L381.34,355.92 L382.04,355.97 L382.71,355.90 L383.37,355.95 L384.01,356.42 L384.66,356.52 L385.31,356.45 L385.97,357.01 L386.65,356.99 L387.37,357.19 L388.12,357.47 L388.92,357.50 L389.78,357.71 L390.70,358.17 L391.29,358.06 L391.91,358.24 L392.55,358.44 L393.20,358.42 L393.88,358.46 L394.57,358.63 L395.28,358.85 L396.00,358.81 L396.73,358.79 L397.47,359.16 L398.22,359.19 L398.98,358.97 L399.74,359.24 L400.51,359.56 L401.28,359.19 L402.05,359.28 L402.81,359.60 L403.58,359.53 L404.34,359.48 L405.09,359.90 L405.84,359.77 L406.57,359.90 L407.30,360.05 L408.02,359.99 L408.74,359.89 L409.45,360.30 L410.17,360.19 L410.88,360.11 L411.59,360.09 L412.31,359.99 L413.02,360.26 L413.73,360.04 L414.44,360.42 L415.16,359.99 L415.87,360.34 L416.58,360.12 L417.30,360.14 L418.01,360.35 L418.73,360.30 L419.45,360.38 L420.17,360.18 L420.89,360.30 L421.61,360.30 L422.34,360.39 L423.07,360.48 L423.80,360.39 L424.52,360.32 L425.26,360.47 L426.03,360.29 L426.83,360.44 L427.63,360.70 L428.45,360.52 L429.28,360.72 L430.12,360.60 L430.95,360.57 L431.79,360.73 L432.61,360.81 L433.43,360.77 L434.23,360.85 L435.02,361.05 L435.78,360.88 L436.51,360.96 L437.22,360.85 L437.89,361.07 L438.53,360.91 L439.12,361.05 L439.67,360.99 L440.17,361.15 L440.61,361.15 L441.00,361.23" fill="none" stroke="#f01c1c" stroke-width="1.15" stroke-linejoin="round" stroke-linecap="round" opacity="1"/>
<text x="272.6" y="244.2" font-size="9" text-anchor="start" fill="#262626" ><tspan font-style="italic" font-size="7.8">E</tspan><tspan font-family="Liberation Serif" font-size="8.4" dy="1.2">g</tspan><tspan dy="-1.2" font-size="7.9"> (Bi-Bi)</tspan></text>
<text x="312.4" y="244.2" font-size="9" text-anchor="start" fill="#262626" ><tspan font-style="italic" font-size="7.8">A</tspan><tspan font-family="Liberation Serif" font-size="8.4" dy="1.0">1g</tspan><tspan dy="-1.0" font-size="7.9"> (Bi-Bi)</tspan></text>
<text x="381.4" y="279.6" font-size="8.5" text-anchor="end" fill="#262626" >(Bi-O)</text>
<text x="438.4" y="244.1" font-size="8.7" text-anchor="end" fill="#262626" >Bi-MOF-MF</text>
<text x="439.7" y="288.9" font-size="6.8" text-anchor="end" fill="#262626" >-1.13 V</text>
<text x="439.7" y="302.9" font-size="6.8" text-anchor="end" fill="#262626" >-0.93 V</text>
<text x="439.7" y="315.3" font-size="6.8" text-anchor="end" fill="#262626" >-0.73 V</text>
<text x="439.7" y="326.0" font-size="6.8" text-anchor="end" fill="#262626" >-0.53 V</text>
<text x="439.7" y="338.0" font-size="6.8" text-anchor="end" fill="#262626" >-0.33 V</text>
<text x="439.7" y="347.5" font-size="6.8" text-anchor="end" fill="#262626" >-0.13 V</text>
<text x="439.7" y="357.2" font-size="6.8" text-anchor="end" fill="#262626" >0.07 V</text>
<text x="238.6" y="249.8" font-size="30.8" text-anchor="start" fill="#000" >e</text>
<rect x="509.6" y="233.5" width="170.69999999999993" height="138.7" fill="none" stroke="#8a8a8a" stroke-width="1.1"/>
<line x1="509.6" y1="372.2" x2="509.6" y2="374.4" stroke="#8a8a8a" stroke-width="1" stroke-linecap="butt"/>
<text x="509.8" y="384.5" font-size="10" text-anchor="middle" fill="#262626" >50</text>
<line x1="559.6" y1="372.2" x2="559.6" y2="374.4" stroke="#8a8a8a" stroke-width="1" stroke-linecap="butt"/>
<text x="559.8000000000001" y="384.5" font-size="10" text-anchor="middle" fill="#262626" >100</text>
<line x1="609.6" y1="372.2" x2="609.6" y2="374.4" stroke="#8a8a8a" stroke-width="1" stroke-linecap="butt"/>
<text x="609.8000000000001" y="384.5" font-size="10" text-anchor="middle" fill="#262626" >150</text>
<line x1="659.6" y1="372.2" x2="659.6" y2="374.4" stroke="#8a8a8a" stroke-width="1" stroke-linecap="butt"/>
<text x="659.8000000000001" y="384.5" font-size="10" text-anchor="middle" fill="#262626" >200</text>
<line x1="534.6" y1="372.2" x2="534.6" y2="373.59999999999997" stroke="#8a8a8a" stroke-width="1" stroke-linecap="butt"/>
<line x1="584.6" y1="372.2" x2="584.6" y2="373.59999999999997" stroke="#8a8a8a" stroke-width="1" stroke-linecap="butt"/>
<line x1="634.6" y1="372.2" x2="634.6" y2="373.59999999999997" stroke="#8a8a8a" stroke-width="1" stroke-linecap="butt"/>
<text x="595.4" y="399.8" font-size="9.5" text-anchor="middle" fill="#262626" textLength="79.5" lengthAdjust="spacingAndGlyphs" >Raman shift (cm<tspan font-size="6.5" dy="-3.6">-1</tspan><tspan dy="3.6">)</tspan></text>
<text transform="translate(503.2,299.3) rotate(-90)" x="0" y="0" font-size="9.5" text-anchor="middle" fill="#262626" textLength="61.5" lengthAdjust="spacingAndGlyphs">Intensity (a.u.)</text>
<line x1="532.6" y1="234" x2="532.6" y2="371.6" stroke="#a8a8a8" stroke-width="1" stroke-dasharray="3,2" stroke-linecap="butt"/>
<line x1="557.5" y1="234" x2="557.5" y2="371.6" stroke="#a8a8a8" stroke-width="1" stroke-dasharray="3,2" stroke-linecap="butt"/>
<line x1="622.3" y1="234" x2="622.3" y2="371.6" stroke="#a8a8a8" stroke-width="1" stroke-dasharray="3,2" stroke-linecap="butt"/>
<path d="M510.20,265.11 L510.64,265.26 L511.20,265.54 L511.88,265.44 L512.64,265.64 L513.45,265.98 L514.30,266.03 L515.16,266.07 L516.00,265.76 L516.61,265.88 L517.23,265.85 L517.86,265.63 L518.51,265.38 L519.17,265.12 L519.84,264.80 L520.52,264.54 L521.22,264.27 L521.94,263.74 L522.66,263.70 L523.40,263.08 L523.96,263.01 L524.54,262.59 L525.15,262.02 L525.76,261.61 L526.39,261.19 L527.03,260.77 L527.67,260.08 L528.31,259.74 L528.94,259.30 L529.56,258.79 L530.17,258.46 L530.77,258.06 L531.34,257.81 L531.88,257.58 L532.40,257.51 L533.12,257.73 L533.77,257.94 L534.38,258.34 L534.95,258.73 L535.50,259.40 L536.04,260.08 L536.59,260.51 L537.16,261.15 L537.76,261.71 L538.40,262.31 L539.02,262.71 L539.66,263.28 L540.31,263.62 L540.98,263.67 L541.66,264.36 L542.35,264.68 L543.04,265.16 L543.74,265.27 L544.43,265.50 L545.12,265.76 L545.80,266.05 L546.56,266.03 L547.35,266.13 L548.15,266.19 L548.96,265.77 L549.76,265.68 L550.54,265.56 L551.30,265.39 L552.02,265.00 L552.69,264.83 L553.30,264.50 L554.07,264.34 L554.73,263.75 L555.32,263.28 L555.86,262.66 L556.36,262.05 L556.87,261.69 L557.40,261.47 L558.07,261.40 L558.62,261.61 L559.20,262.02 L559.94,262.63 L561.00,263.22 L561.46,263.55 L561.95,263.71 L562.46,264.01 L563.00,264.46 L563.57,264.56 L564.16,264.84 L564.79,265.53 L565.44,265.52 L566.12,265.91 L566.83,266.47 L567.58,266.61 L568.35,266.88 L569.16,267.24 L570.00,267.47 L570.56,267.57 L571.10,267.64 L571.63,267.91 L572.16,268.05 L572.68,268.28 L573.20,268.41 L573.73,268.73 L574.27,268.87 L574.84,268.89 L575.43,269.28 L576.04,269.44 L576.70,269.21 L577.39,269.41 L578.13,269.83 L578.91,269.78 L579.76,269.86 L580.66,269.93 L581.63,270.06 L582.68,270.25 L583.80,270.29 L585.00,270.28 L585.50,270.26 L586.00,270.29 L586.52,270.47 L587.04,270.33 L587.57,270.38 L588.11,270.41 L588.66,270.43 L589.22,270.30 L589.78,270.70 L590.36,270.50 L590.94,270.59 L591.53,270.32 L592.13,270.28 L592.73,270.45 L593.35,270.40 L593.97,270.34 L594.60,270.60 L595.24,270.30 L595.89,270.26 L596.54,270.60 L597.20,270.44 L597.87,270.25 L598.55,270.49 L599.23,270.29 L599.93,270.31 L600.63,270.32 L601.34,270.33 L602.05,270.51 L602.78,270.22 L603.51,270.21 L604.24,270.16 L604.99,270.25 L605.74,270.14 L606.50,270.24 L607.27,270.37 L608.05,270.41 L608.83,270.18 L609.62,270.20 L610.42,270.12 L611.22,270.13 L612.03,270.23 L612.85,269.94 L613.67,270.05 L614.51,270.03 L615.34,270.02 L616.19,270.05 L617.04,270.13 L617.90,270.07 L618.77,270.38 L619.64,270.22 L620.52,270.02 L621.41,270.07 L622.30,270.03 L622.89,270.12 L623.49,270.11 L624.10,270.18 L624.73,270.12 L625.37,270.25 L626.02,270.10 L626.69,270.13 L627.37,270.17 L628.06,270.15 L628.75,270.14 L629.46,270.20 L630.18,270.22 L630.91,270.20 L631.65,270.22 L632.40,270.13 L633.15,270.14 L633.92,270.30 L634.69,270.32 L635.46,270.17 L636.25,270.34 L637.04,270.18 L637.83,270.37 L638.64,270.31 L639.44,270.24 L640.25,270.30 L641.07,270.19 L641.89,270.22 L642.71,270.22 L643.53,270.36 L644.36,270.35 L645.19,270.27 L646.02,270.31 L646.85,270.21 L647.68,270.30 L648.51,270.22 L649.34,270.47 L650.17,270.43 L651.00,270.29 L651.83,270.31 L652.66,270.54 L653.48,270.39 L654.30,270.28 L655.12,270.34 L655.93,270.36 L656.75,270.40 L657.55,270.31 L658.35,270.50 L659.15,270.39 L659.94,270.65 L660.72,270.55 L661.50,270.33 L662.27,270.40 L663.03,270.50 L663.79,270.34 L664.53,270.39 L665.27,270.68 L666.00,270.46 L666.72,270.48 L667.43,270.57 L668.13,270.60 L668.81,270.58 L669.49,270.66 L670.16,270.52 L670.81,270.72 L671.45,270.73 L672.08,270.58 L672.69,270.61 L673.29,270.61 L673.88,270.59 L674.45,270.52 L675.00,270.66 L675.54,270.56 L676.07,270.58 L676.58,270.57 L677.07,270.69 L677.54,270.57 L678.00,270.77 L678.44,270.50 L678.86,270.57 L679.26,270.67 L679.64,270.66 L680.00,270.58" fill="none" stroke="#f5585e" stroke-width="1.15" stroke-linejoin="round" stroke-linecap="round" opacity="1"/>
<path d="M510.20,281.57 L510.64,280.78 L511.20,280.41 L511.88,280.68 L512.64,280.95 L513.45,280.64 L514.30,279.97 L515.16,279.58 L516.00,279.58 L516.44,278.80 L516.89,278.48 L517.35,277.69 L517.82,277.47 L518.29,277.29 L518.77,276.18 L519.25,276.29 L519.75,275.68 L520.25,275.15 L520.76,274.68 L521.27,274.18 L521.79,273.80 L522.32,272.51 L522.86,272.48 L523.40,271.48 L523.80,271.06 L524.21,270.62 L524.63,269.91 L525.06,269.48 L525.50,268.38 L525.94,267.97 L526.39,267.01 L526.85,265.83 L527.30,265.23 L527.76,265.13 L528.22,264.02 L528.67,263.55 L529.12,262.71 L529.56,261.94 L530.00,262.16 L530.43,261.29 L530.85,260.22 L531.26,260.14 L531.65,259.87 L532.03,259.08 L532.40,259.19 L532.83,259.85 L533.23,260.06 L533.62,260.38 L533.99,260.21 L534.34,261.07 L534.68,261.65 L535.01,262.25 L535.34,262.89 L535.66,263.84 L535.98,264.13 L536.30,264.69 L536.62,266.12 L536.96,267.44 L537.30,267.51 L537.65,268.36 L538.02,269.26 L538.40,269.52 L538.85,270.51 L539.32,270.98 L539.79,271.67 L540.27,272.22 L540.76,273.25 L541.25,274.05 L541.75,274.89 L542.26,275.09 L542.77,275.51 L543.27,276.38 L543.78,277.09 L544.29,277.04 L544.80,277.81 L545.30,278.58 L545.80,278.45 L546.43,277.96 L547.08,278.20 L547.75,277.79 L548.42,277.60 L549.09,278.19 L549.76,277.14 L550.41,276.58 L551.05,276.35 L551.66,275.52 L552.25,275.76 L552.79,275.01 L553.30,274.44 L553.91,274.08 L554.45,273.40 L554.94,272.58 L555.38,271.21 L555.80,270.81 L556.20,270.73 L556.59,269.47 L556.99,269.01 L557.40,268.58 L558.16,268.66 L558.90,268.40 L559.62,268.57 L560.32,269.51 L561.00,269.78 L561.27,270.67 L561.53,271.09 L561.77,271.68 L562.01,272.47 L562.25,272.95 L562.48,273.68 L562.72,274.87 L562.97,275.17 L563.22,276.10 L563.50,276.63 L563.79,277.20 L564.10,278.16 L564.46,278.41 L564.82,279.58 L565.20,280.31 L565.59,280.88 L565.99,281.30 L566.41,281.64 L566.85,282.44 L567.30,283.84 L567.78,283.46 L568.28,284.44 L568.80,284.79 L569.34,285.25 L569.88,285.33 L570.44,285.65 L571.01,286.33 L571.60,286.76 L572.22,287.02 L572.87,287.51 L573.56,287.44 L574.29,287.55 L575.07,288.19 L575.90,288.30 L576.50,287.91 L577.12,288.86 L577.76,288.83 L578.42,289.06 L579.10,288.83 L579.80,289.00 L580.51,288.68 L581.24,288.65 L581.99,289.39 L582.76,288.87 L583.54,288.58 L584.34,288.93 L585.16,289.12 L585.99,289.11 L586.84,288.98 L587.70,289.43 L588.34,289.34 L588.99,289.72 L589.65,289.33 L590.32,289.87 L591.00,289.59 L591.69,289.55 L592.39,289.51 L593.10,289.78 L593.82,289.66 L594.54,289.31 L595.27,289.73 L596.01,289.55 L596.76,289.83 L597.51,289.49 L598.27,289.91 L599.04,290.38 L599.80,289.75 L600.58,290.36 L601.35,289.89 L602.13,289.69 L602.91,289.95 L603.70,290.38 L604.36,289.58 L605.02,289.72 L605.67,290.25 L606.32,289.75 L606.97,289.83 L607.62,289.19 L608.27,289.76 L608.92,289.17 L609.58,289.47 L610.24,289.75 L610.90,289.08 L611.57,289.23 L612.25,289.86 L612.94,289.52 L613.63,289.36 L614.34,289.36 L615.06,289.20 L615.80,289.36 L616.55,288.66 L617.31,289.22 L618.09,288.83 L618.89,288.64 L619.71,288.72 L620.55,288.14 L621.42,288.69 L622.30,288.34 L622.89,288.99 L623.49,288.40 L624.09,288.95 L624.71,288.74 L625.34,289.08 L625.97,288.54 L626.62,288.51 L627.27,288.03 L627.93,288.20 L628.60,288.31 L629.27,288.11 L629.96,288.30 L630.64,288.15 L631.34,288.20 L632.04,288.46 L632.74,288.27 L633.45,288.32 L634.17,288.30 L634.88,288.51 L635.61,288.02 L636.33,288.04 L637.06,287.99 L637.79,288.00 L638.53,288.14 L639.26,288.08 L640.00,288.17 L640.74,287.55 L641.48,287.76 L642.22,287.88 L642.96,288.18 L643.70,288.01 L644.44,288.26 L645.18,288.16 L645.92,287.93 L646.65,287.66 L647.39,287.69 L648.12,287.97 L648.85,287.43 L649.58,288.04 L650.30,288.23 L651.00,288.04 L651.71,288.28 L652.44,288.13 L653.18,287.81 L653.94,288.28 L654.71,287.67 L655.50,288.13 L656.29,287.18 L657.09,287.75 L657.90,287.48 L658.71,287.82 L659.53,287.56 L660.35,287.74 L661.17,287.94 L662.00,287.64 L662.82,287.81 L663.65,287.84 L664.47,287.58 L665.28,287.15 L666.10,287.14 L666.90,287.31 L667.70,287.73 L668.48,288.15 L669.26,287.65 L670.03,287.45 L670.78,287.83 L671.51,287.74 L672.24,287.34 L672.94,287.73 L673.63,287.54 L674.30,287.39 L674.94,287.55 L675.57,287.78 L676.17,287.69 L676.75,287.77 L677.30,287.37 L677.83,287.41 L678.32,287.79 L678.79,287.82 L679.23,287.93 L679.63,287.76 L680.00,287.37" fill="none" stroke="#a6a6a6" stroke-width="1.15" stroke-linejoin="round" stroke-linecap="round" opacity="1"/>
<path d="M510.20,303.48 L510.42,303.68 L510.68,302.70 L510.99,302.45 L511.33,301.38 L511.71,300.18 L512.12,299.69 L512.56,299.11 L513.02,298.63 L513.50,297.55 L513.99,297.31 L514.50,296.83 L515.08,296.05 L515.69,295.97 L516.32,295.87 L516.99,295.23 L517.67,295.81 L518.39,295.57 L519.13,295.17 L519.90,295.07 L520.69,294.92 L521.50,294.48 L522.03,294.42 L522.59,294.29 L523.18,293.58 L523.78,293.08 L524.40,293.07 L525.04,292.28 L525.68,291.87 L526.32,290.80 L526.96,290.90 L527.59,290.13 L528.21,289.96 L528.82,289.31 L529.41,289.36 L529.97,288.68 L530.50,288.78 L531.00,288.23 L531.80,288.15 L532.51,287.96 L533.14,288.72 L533.74,288.65 L534.31,289.28 L534.89,289.53 L535.50,289.84 L536.16,289.84 L536.90,290.77 L537.42,291.04 L537.97,291.29 L538.54,291.24 L539.13,292.47 L539.74,292.13 L540.35,293.12 L540.98,292.89 L541.60,293.95 L542.23,295.00 L542.85,295.21 L543.46,295.35 L544.06,295.85 L544.64,295.67 L545.20,296.06 L545.97,296.80 L546.73,296.19 L547.48,296.07 L548.22,295.74 L548.94,295.70 L549.65,295.66 L550.35,295.00 L551.02,294.92 L551.67,294.52 L552.30,294.39 L553.03,293.81 L553.70,293.52 L554.33,292.71 L554.93,293.02 L555.53,292.19 L556.15,291.34 L556.80,291.96 L557.50,291.14 L558.09,291.41 L558.68,291.52 L559.29,291.53 L559.90,292.22 L560.53,292.33 L561.18,292.63 L561.86,292.88 L562.57,292.99 L563.32,293.78 L564.10,294.63 L564.64,294.54 L565.20,294.68 L565.78,294.92 L566.37,295.18 L566.97,295.78 L567.58,295.97 L568.21,296.45 L568.85,296.80 L569.50,297.44 L570.16,297.57 L570.83,297.69 L571.51,298.37 L572.20,298.63 L572.89,299.47 L573.60,298.65 L574.27,299.23 L574.94,298.92 L575.61,299.79 L576.29,299.81 L576.97,300.13 L577.67,299.92 L578.37,300.30 L579.09,299.60 L579.82,300.12 L580.56,300.07 L581.32,300.54 L582.09,300.20 L582.89,300.58 L583.70,299.88 L584.54,299.74 L585.40,300.65 L586.01,300.17 L586.63,300.41 L587.26,300.59 L587.89,300.53 L588.54,300.41 L589.19,300.23 L589.85,300.01 L590.52,300.47 L591.20,300.10 L591.89,299.71 L592.58,300.19 L593.28,300.08 L593.99,299.23 L594.71,299.24 L595.43,299.60 L596.17,299.96 L596.91,299.31 L597.65,299.09 L598.41,299.82 L599.17,298.88 L599.94,299.56 L600.72,299.04 L601.50,299.39 L602.15,299.28 L602.81,299.15 L603.47,299.33 L604.14,298.92 L604.82,298.96 L605.50,298.67 L606.19,298.87 L606.88,298.57 L607.58,298.96 L608.28,298.96 L608.99,298.65 L609.71,298.59 L610.43,298.74 L611.15,298.58 L611.88,298.10 L612.61,298.33 L613.34,298.46 L614.08,298.30 L614.82,298.70 L615.57,298.59 L616.31,298.21 L617.06,298.32 L617.81,298.48 L618.57,298.44 L619.32,298.33 L620.08,298.12 L620.84,298.22 L621.60,297.93 L622.27,298.00 L622.94,297.88 L623.61,297.91 L624.29,297.93 L624.97,297.77 L625.65,297.45 L626.34,297.79 L627.03,297.24 L627.72,297.64 L628.42,297.51 L629.11,297.52 L629.81,297.57 L630.51,297.58 L631.22,297.24 L631.92,296.92 L632.63,297.52 L633.34,297.70 L634.05,297.31 L634.76,296.90 L635.48,297.58 L636.19,297.31 L636.91,297.03 L637.62,296.55 L638.34,297.27 L639.06,297.61 L639.78,296.97 L640.50,296.84 L641.22,296.96 L641.94,297.04 L642.66,296.77 L643.38,296.64 L644.10,296.65 L644.80,296.90 L645.52,296.53 L646.25,296.34 L646.98,296.99 L647.73,296.48 L648.48,295.69 L649.23,296.63 L650.00,296.59 L650.76,296.33 L651.53,296.16 L652.30,296.60 L653.08,296.17 L653.85,296.58 L654.62,296.35 L655.39,296.23 L656.16,296.64 L656.92,296.33 L657.67,295.65 L658.43,296.32 L659.17,296.24 L659.90,296.22 L660.63,296.62 L661.34,296.14 L662.05,296.18 L662.74,295.82 L663.42,295.66 L664.08,295.68 L664.73,295.69 L665.36,295.91 L665.97,295.76 L666.57,295.90 L667.15,295.76 L667.70,295.35 L668.74,295.03 L669.74,295.47 L670.70,295.72 L671.63,295.31 L672.52,295.13 L673.37,295.20 L674.18,295.46 L674.95,295.32 L675.69,294.95 L676.38,295.13 L677.02,294.94 L677.63,294.96 L678.19,295.20 L678.71,295.00 L679.19,295.09 L679.62,294.56 L680.00,295.18" fill="none" stroke="#6a6db4" stroke-width="1.15" stroke-linejoin="round" stroke-linecap="round" opacity="1"/>
<path d="M510.20,303.18 L510.64,302.89 L511.20,303.41 L511.86,303.63 L512.60,303.38 L513.41,303.58 L514.26,303.52 L515.13,303.42 L516.01,302.94 L516.87,302.93 L517.71,302.51 L518.49,302.63 L519.20,302.57 L519.99,302.53 L520.76,301.72 L521.51,301.18 L522.23,301.62 L522.94,301.45 L523.64,301.56 L524.32,301.13 L524.99,300.81 L525.65,300.73 L526.30,299.91 L526.88,299.74 L527.45,299.45 L528.00,299.05 L528.53,298.28 L529.06,297.11 L529.59,296.88 L530.11,295.85 L530.62,295.46 L531.14,294.80 L531.67,294.54 L532.20,294.29 L532.72,294.67 L533.22,294.62 L533.71,295.27 L534.19,295.80 L534.68,296.70 L535.17,296.66 L535.69,297.84 L536.23,298.62 L536.81,299.27 L537.43,299.65 L538.10,300.17 L538.68,300.57 L539.30,300.85 L539.96,301.25 L540.66,301.68 L541.37,302.23 L542.11,302.01 L542.85,302.27 L543.59,302.74 L544.33,302.65 L545.04,302.99 L545.74,302.97 L546.40,303.43 L547.02,303.50 L547.60,303.67 L548.52,303.65 L549.37,303.50 L550.16,303.65 L550.89,303.27 L551.58,303.02 L552.24,303.04 L552.88,302.57 L553.50,301.82 L554.25,301.90 L554.88,300.84 L555.46,300.66 L556.04,300.74 L556.70,300.12 L557.50,299.44 L557.91,300.88 L558.34,300.62 L558.79,300.93 L559.24,301.64 L559.72,302.04 L560.21,302.41 L560.71,303.39 L561.23,304.17 L561.77,304.87 L562.33,305.54 L562.90,305.94 L563.49,306.69 L564.10,306.92 L564.64,307.81 L565.20,308.54 L565.78,308.37 L566.37,309.09 L566.97,309.98 L567.58,309.36 L568.21,309.89 L568.85,311.23 L569.50,311.38 L570.16,311.70 L570.83,311.63 L571.51,312.06 L572.20,312.31 L572.89,312.94 L573.60,312.98 L574.23,313.11 L574.87,313.24 L575.52,313.96 L576.18,313.94 L576.84,314.28 L577.51,313.88 L578.20,314.58 L578.88,314.73 L579.58,315.07 L580.28,315.14 L580.99,315.06 L581.71,315.46 L582.44,315.31 L583.17,315.57 L583.91,315.94 L584.65,315.85 L585.40,315.52 L586.08,315.73 L586.78,315.92 L587.49,316.21 L588.21,315.85 L588.94,315.82 L589.68,315.62 L590.42,315.40 L591.17,315.87 L591.92,315.65 L592.68,315.38 L593.43,315.86 L594.18,315.56 L594.92,315.96 L595.66,315.50 L596.39,315.35 L597.11,315.80 L597.82,315.32 L598.52,315.59 L599.20,315.50 L599.99,314.83 L600.78,314.79 L601.55,314.82 L602.32,315.15 L603.08,314.71 L603.82,315.32 L604.57,314.96 L605.30,314.83 L606.03,314.57 L606.75,314.62 L607.47,314.45 L608.18,314.17 L608.89,313.99 L609.60,313.71 L610.30,313.88 L611.00,313.54 L611.74,313.24 L612.47,313.57 L613.20,313.43 L613.91,313.22 L614.62,313.50 L615.32,313.42 L616.02,313.48 L616.72,312.81 L617.41,313.06 L618.10,312.89 L618.80,313.08 L619.49,312.80 L620.19,312.66 L620.89,312.61 L621.60,312.90 L622.26,313.25 L622.93,313.26 L623.58,313.13 L624.24,313.30 L624.90,314.19 L625.56,314.05 L626.22,314.70 L626.88,314.45 L627.54,314.70 L628.20,314.72 L628.87,315.79 L629.55,315.50 L630.22,316.01 L630.91,316.57 L631.60,316.69 L632.30,316.86 L632.96,316.76 L633.61,317.65 L634.25,317.50 L634.90,318.08 L635.54,317.82 L636.19,318.54 L636.84,318.52 L637.50,318.62 L638.17,318.50 L638.84,319.39 L639.54,318.76 L640.24,319.91 L640.97,319.71 L641.72,320.24 L642.49,320.37 L643.28,320.77 L644.10,320.04 L644.72,320.69 L645.36,320.68 L646.01,320.70 L646.67,321.05 L647.34,321.04 L648.02,321.62 L648.71,321.15 L649.41,321.47 L650.12,321.90 L650.84,321.51 L651.57,322.01 L652.30,322.14 L653.04,321.89 L653.78,322.01 L654.54,322.13 L655.29,322.53 L656.06,322.45 L656.82,321.92 L657.59,322.79 L658.37,322.12 L659.14,322.44 L659.92,322.22 L660.70,322.54 L661.38,322.83 L662.09,322.96 L662.83,322.96 L663.59,322.63 L664.38,323.10 L665.18,323.24 L665.99,322.59 L666.82,323.24 L667.65,323.05 L668.48,322.97 L669.32,323.03 L670.15,323.16 L670.98,323.16 L671.79,323.40 L672.60,323.31 L673.38,323.29 L674.15,323.25 L674.90,323.36 L675.61,323.66 L676.30,323.74 L676.96,323.62 L677.57,323.21 L678.15,323.83 L678.69,323.37 L679.18,323.14 L679.61,323.40 L680.00,323.61" fill="none" stroke="#48c575" stroke-width="1.15" stroke-linejoin="round" stroke-linecap="round" opacity="1"/>
<path d="M510.20,314.31 L510.58,314.13 L511.05,313.65 L511.60,313.79 L512.23,313.24 L512.91,312.91 L513.63,312.80 L514.40,312.63 L515.19,311.98 L515.99,311.95 L516.80,311.99 L517.44,311.91 L518.13,312.05 L518.84,312.35 L519.59,312.38 L520.35,312.80 L521.13,312.56 L521.91,313.26 L522.69,313.95 L523.46,313.77 L524.21,313.83 L524.94,313.79 L525.64,314.58 L526.30,314.29 L527.03,314.51 L527.71,314.31 L528.35,313.73 L528.96,313.63 L529.56,312.95 L530.15,312.56 L530.75,311.91 L531.36,311.49 L532.00,311.38 L532.68,310.91 L533.40,310.15 L533.96,310.26 L534.56,309.65 L535.17,308.84 L535.80,308.50 L536.45,307.99 L537.10,307.75 L537.77,307.19 L538.43,306.59 L539.10,306.32 L539.75,306.08 L540.40,305.73 L541.03,305.33 L541.64,304.92 L542.24,304.65 L542.80,304.63 L543.46,304.89 L544.09,304.98 L544.68,305.64 L545.25,305.74 L545.80,305.99 L546.34,306.28 L546.89,306.45 L547.44,307.07 L548.01,307.97 L548.60,308.83 L549.23,309.54 L549.90,309.73 L550.46,310.06 L551.05,310.33 L551.65,310.69 L552.26,311.08 L552.89,311.22 L553.53,311.58 L554.18,312.54 L554.83,312.61 L555.49,313.49 L556.15,313.64 L556.81,314.36 L557.47,314.28 L558.12,314.19 L558.76,315.16 L559.40,314.81 L560.07,315.47 L560.75,315.45 L561.42,315.53 L562.09,316.01 L562.76,315.77 L563.43,316.33 L564.10,316.51 L564.77,316.35 L565.44,316.49 L566.11,316.78 L566.78,316.97 L567.45,317.29 L568.13,317.18 L568.80,317.71 L569.44,317.69 L570.08,318.17 L570.74,318.61 L571.40,319.18 L572.06,319.85 L572.73,319.95 L573.39,320.57 L574.05,321.18 L574.70,321.28 L575.34,321.58 L575.96,322.20 L576.58,322.70 L577.17,322.76 L577.75,323.27 L578.30,323.74 L579.01,324.00 L579.67,324.45 L580.29,324.87 L580.88,325.39 L581.44,325.84 L582.00,325.83 L582.56,326.10 L583.13,326.31 L583.72,327.23 L584.34,327.49 L585.00,327.13 L585.63,327.67 L586.26,327.88 L586.91,327.95 L587.56,328.80 L588.23,328.75 L588.91,329.19 L589.60,329.77 L590.30,329.31 L591.03,329.15 L591.77,329.08 L592.52,329.87 L593.30,329.54 L593.90,329.12 L594.51,329.03 L595.13,328.88 L595.76,329.09 L596.40,328.81 L597.05,327.95 L597.71,328.17 L598.38,327.62 L599.06,327.11 L599.74,327.02 L600.42,326.85 L601.11,326.34 L601.81,325.90 L602.50,325.88 L603.20,324.88 L603.90,325.20 L604.57,324.98 L605.27,325.20 L605.99,324.48 L606.72,324.27 L607.46,324.58 L608.21,324.22 L608.97,324.33 L609.72,324.09 L610.47,323.68 L611.20,324.09 L611.92,324.08 L612.63,323.67 L613.30,323.54 L613.96,323.27 L614.57,323.92 L615.16,323.54 L615.70,323.37 L616.72,322.87 L617.59,322.48 L618.34,322.39 L619.01,322.31 L619.64,321.13 L620.26,321.23 L620.90,321.29 L621.60,321.26 L622.09,321.48 L622.55,321.86 L623.01,322.67 L623.47,322.69 L623.92,322.96 L624.38,323.35 L624.85,323.96 L625.34,324.38 L625.86,325.66 L626.40,326.36 L626.98,327.00 L627.60,328.01 L627.99,328.40 L628.39,328.58 L628.80,328.73 L629.22,329.91 L629.65,330.28 L630.09,330.65 L630.54,330.62 L631.00,332.02 L631.46,332.11 L631.94,332.36 L632.42,333.41 L632.90,334.27 L633.40,334.89 L633.90,335.00 L634.40,335.90 L634.91,336.21 L635.43,336.70 L635.95,336.99 L636.47,338.12 L637.00,337.76 L637.54,338.97 L638.08,339.08 L638.64,339.40 L639.20,339.79 L639.78,340.48 L640.36,340.71 L640.95,341.02 L641.54,341.68 L642.14,342.20 L642.74,342.71 L643.35,342.89 L643.96,343.09 L644.57,343.43 L645.18,344.07 L645.79,344.52 L646.40,344.72 L647.00,345.11 L647.61,345.53 L648.20,345.89 L648.80,346.16 L649.49,346.57 L650.15,346.54 L650.80,346.51 L651.44,347.08 L652.07,347.15 L652.69,347.24 L653.32,347.69 L653.96,347.26 L654.61,347.66 L655.27,347.81 L655.95,348.21 L656.65,347.87 L657.39,348.27 L658.16,348.58 L658.96,348.40 L659.81,348.59 L660.70,348.45 L661.30,348.48 L661.94,348.73 L662.63,348.38 L663.34,348.10 L664.09,348.79 L664.86,348.30 L665.66,348.56 L666.47,348.61 L667.30,348.89 L668.14,348.99 L668.98,348.39 L669.83,348.73 L670.67,348.42 L671.51,348.72 L672.34,348.60 L673.15,348.71 L673.95,348.23 L674.72,348.54 L675.47,348.59 L676.18,348.50 L676.87,348.72 L677.51,348.48 L678.11,348.11 L678.66,348.00 L679.16,348.13 L679.61,348.60 L680.00,348.47" fill="none" stroke="#ffc524" stroke-width="1.15" stroke-linejoin="round" stroke-linecap="round" opacity="1"/>
<path d="M510.20,326.50 L510.60,326.55 L511.08,326.49 L511.65,326.17 L512.29,325.76 L512.99,325.78 L513.73,326.01 L514.50,325.45 L515.30,325.30 L516.11,324.81 L516.91,325.05 L517.70,324.46 L518.47,324.60 L519.20,324.78 L519.92,324.29 L520.65,324.39 L521.39,324.57 L522.14,324.46 L522.89,324.16 L523.64,324.78 L524.39,324.62 L525.13,325.51 L525.86,325.18 L526.58,325.56 L527.28,325.62 L527.95,325.18 L528.60,325.60 L529.40,325.48 L530.17,325.42 L530.91,324.86 L531.62,324.48 L532.32,324.22 L533.00,323.91 L533.67,323.61 L534.34,323.13 L535.02,323.27 L535.70,322.53 L536.27,322.31 L536.83,321.79 L537.38,321.21 L537.93,320.60 L538.48,320.16 L539.02,319.28 L539.57,318.89 L540.12,318.75 L540.68,318.28 L541.24,317.50 L541.81,317.27 L542.40,317.54 L542.99,317.17 L543.58,317.40 L544.17,317.67 L544.77,317.78 L545.37,318.35 L545.97,318.90 L546.59,319.07 L547.22,319.72 L547.87,320.19 L548.52,320.73 L549.20,320.67 L549.90,321.83 L550.47,321.49 L551.05,321.98 L551.64,322.02 L552.23,322.65 L552.83,323.35 L553.45,323.38 L554.07,322.78 L554.70,323.83 L555.34,324.06 L555.99,324.37 L556.65,324.95 L557.32,325.14 L558.00,325.54 L558.70,325.91 L559.40,326.17 L560.00,326.47 L560.62,326.73 L561.26,326.79 L561.91,326.98 L562.58,327.38 L563.25,327.58 L563.93,327.97 L564.61,327.99 L565.30,328.52 L565.99,328.52 L566.67,328.13 L567.35,329.25 L568.02,329.67 L568.69,329.13 L569.34,329.45 L569.98,330.56 L570.60,330.65 L571.20,330.56 L571.91,331.33 L572.62,331.44 L573.33,331.60 L574.03,332.04 L574.73,333.12 L575.42,333.09 L576.09,333.60 L576.75,334.18 L577.38,334.71 L578.00,335.15 L578.60,334.90 L579.17,335.91 L579.71,336.37 L580.22,336.49 L580.70,336.74 L581.67,337.15 L582.37,337.44 L582.92,337.82 L583.46,338.46 L584.11,338.37 L585.00,338.97 L585.54,338.95 L586.13,339.83 L586.74,339.76 L587.39,339.80 L588.06,339.96 L588.76,340.25 L589.48,340.34 L590.21,340.39 L590.97,340.43 L591.74,340.52 L592.52,340.31 L593.30,340.77 L593.94,340.45 L594.59,340.44 L595.25,340.19 L595.93,340.36 L596.62,340.27 L597.32,339.46 L598.02,339.39 L598.74,339.32 L599.46,338.76 L600.19,339.51 L600.93,338.84 L601.67,338.23 L602.41,338.75 L603.15,338.70 L603.90,338.01 L604.57,337.72 L605.27,338.06 L605.99,337.66 L606.72,337.87 L607.46,337.71 L608.21,337.47 L608.97,337.85 L609.72,337.31 L610.47,336.77 L611.20,336.90 L611.92,336.32 L612.63,336.77 L613.30,336.19 L613.96,336.44 L614.57,336.82 L615.16,335.93 L615.70,335.92 L616.61,335.57 L617.41,334.79 L618.10,334.88 L618.72,334.25 L619.29,334.45 L619.84,333.53 L620.40,333.51 L620.97,333.41 L621.60,333.52 L622.18,333.42 L622.74,334.04 L623.29,334.38 L623.83,334.80 L624.38,334.97 L624.95,335.03 L625.55,336.26 L626.18,336.71 L626.86,337.23 L627.60,338.04 L627.99,338.87 L628.39,338.65 L628.80,339.41 L629.22,339.90 L629.65,340.39 L630.09,341.37 L630.54,341.29 L631.00,342.04 L631.46,342.76 L631.94,342.87 L632.42,344.09 L632.90,344.50 L633.40,345.33 L633.90,345.54 L634.40,345.87 L634.91,346.93 L635.43,347.12 L635.95,347.84 L636.47,348.16 L637.00,349.16 L637.56,349.38 L638.14,349.76 L638.73,350.68 L639.33,350.50 L639.93,351.24 L640.55,351.49 L641.17,351.83 L641.79,352.50 L642.43,352.63 L643.06,353.27 L643.70,353.48 L644.34,353.91 L644.98,354.26 L645.63,354.14 L646.27,354.77 L646.91,355.41 L647.54,356.18 L648.17,355.71 L648.80,355.99 L649.49,356.17 L650.15,356.42 L650.80,356.74 L651.44,356.74 L652.07,357.37 L652.69,357.23 L653.32,357.28 L653.96,357.59 L654.61,357.45 L655.27,357.75 L655.95,358.08 L656.65,358.05 L657.39,358.02 L658.16,358.31 L658.96,357.37 L659.81,358.26 L660.70,358.05 L661.30,358.14 L661.94,358.29 L662.63,358.67 L663.34,358.38 L664.09,358.93 L664.86,358.89 L665.66,358.27 L666.47,358.14 L667.30,358.69 L668.14,358.35 L668.98,358.90 L669.83,358.61 L670.67,358.41 L671.51,359.13 L672.34,358.83 L673.15,358.02 L673.95,358.21 L674.72,358.65 L675.47,358.00 L676.18,358.51 L676.87,358.46 L677.51,357.99 L678.11,358.69 L678.66,358.29 L679.16,358.13 L679.61,358.59 L680.00,358.64" fill="none" stroke="#4572b2" stroke-width="1.15" stroke-linejoin="round" stroke-linecap="round" opacity="1"/>
<path d="M510.20,337.94 L510.60,337.71 L511.08,337.50 L511.65,337.42 L512.29,337.01 L512.99,336.78 L513.73,336.34 L514.50,336.25 L515.30,336.47 L516.11,335.80 L516.91,335.64 L517.70,335.56 L518.47,334.88 L519.20,334.57 L519.92,334.57 L520.65,334.92 L521.39,334.75 L522.14,335.21 L522.89,335.22 L523.64,335.38 L524.39,335.11 L525.13,335.41 L525.86,335.71 L526.58,335.55 L527.28,335.38 L527.95,335.37 L528.60,335.58 L529.33,335.14 L530.04,335.03 L530.71,335.13 L531.37,334.79 L532.01,334.42 L532.63,333.75 L533.24,333.67 L533.85,333.24 L534.46,333.26 L535.08,332.67 L535.70,332.09 L536.32,331.99 L536.93,332.03 L537.53,331.41 L538.13,330.48 L538.73,330.53 L539.32,330.67 L539.92,329.24 L540.53,329.38 L541.14,329.14 L541.76,328.71 L542.40,327.99 L543.04,328.35 L543.69,328.67 L544.33,328.93 L544.98,329.04 L545.64,329.75 L546.31,329.82 L546.99,330.13 L547.69,330.82 L548.40,330.70 L549.14,332.32 L549.90,332.15 L550.47,332.46 L551.05,332.65 L551.64,333.26 L552.23,333.40 L552.83,333.68 L553.45,333.75 L554.07,333.55 L554.70,334.19 L555.34,334.82 L555.99,334.93 L556.65,334.90 L557.32,335.90 L558.00,336.28 L558.70,336.19 L559.40,336.62 L560.04,336.91 L560.70,336.85 L561.37,337.73 L562.07,337.86 L562.77,337.97 L563.49,338.12 L564.21,338.38 L564.94,338.81 L565.66,339.24 L566.39,339.21 L567.11,339.61 L567.83,339.88 L568.53,339.73 L569.23,340.09 L569.90,340.32 L570.56,340.39 L571.20,340.95 L571.87,341.07 L572.53,341.77 L573.20,342.46 L573.86,342.72 L574.51,342.80 L575.16,343.80 L575.80,343.93 L576.42,344.96 L577.03,344.40 L577.62,345.41 L578.19,345.53 L578.74,346.10 L579.27,346.32 L579.78,346.92 L580.25,346.91 L580.70,347.36 L581.67,347.77 L582.37,348.97 L582.92,348.45 L583.46,348.11 L584.11,347.80 L585.00,348.22 L585.54,348.39 L586.13,348.57 L586.74,348.54 L587.39,349.23 L588.06,349.74 L588.76,349.86 L589.48,350.28 L590.21,350.39 L590.97,350.68 L591.74,350.61 L592.52,350.82 L593.30,350.87 L593.94,350.86 L594.59,350.59 L595.25,350.21 L595.93,350.72 L596.62,350.29 L597.32,350.25 L598.02,349.58 L598.74,349.85 L599.46,349.54 L600.19,349.46 L600.93,349.26 L601.67,348.96 L602.41,348.44 L603.15,348.75 L603.90,348.31 L604.62,348.58 L605.36,348.22 L606.12,347.87 L606.90,347.89 L607.70,347.46 L608.50,348.15 L609.30,347.51 L610.09,347.37 L610.88,347.25 L611.65,347.05 L612.41,347.71 L613.14,347.35 L613.84,347.40 L614.50,347.30 L615.12,347.21 L615.70,347.19 L616.72,346.46 L617.59,346.87 L618.34,346.08 L619.01,345.87 L619.64,345.50 L620.26,345.21 L620.90,345.21 L621.60,345.40 L622.18,345.12 L622.74,346.10 L623.29,345.99 L623.83,346.30 L624.38,346.99 L624.95,347.28 L625.55,348.31 L626.18,348.69 L626.86,349.14 L627.60,349.64 L628.01,350.35 L628.43,350.91 L628.87,351.73 L629.31,351.81 L629.77,352.61 L630.24,353.11 L630.71,354.11 L631.19,354.31 L631.69,354.75 L632.19,355.07 L632.70,355.70 L633.21,356.54 L633.74,357.36 L634.27,357.34 L634.80,358.26 L635.35,358.60 L635.89,359.31 L636.44,359.67 L637.00,359.99 L637.56,360.71 L638.14,360.85 L638.73,361.60 L639.33,361.74 L639.93,361.88 L640.55,362.13 L641.17,362.90 L641.79,363.84 L642.43,363.74 L643.06,364.10 L643.70,364.23 L644.34,364.63 L644.98,365.47 L645.63,365.55 L646.27,365.44 L646.91,365.34 L647.54,366.31 L648.17,366.56 L648.80,366.39 L649.49,366.72 L650.15,367.20 L650.80,367.38 L651.44,367.11 L652.07,367.64 L652.69,367.40 L653.32,367.85 L653.96,367.48 L654.61,367.94 L655.27,368.01 L655.95,368.35 L656.65,368.35 L657.39,367.78 L658.16,368.30 L658.96,367.63 L659.81,367.72 L660.70,368.24 L661.30,368.25 L661.94,367.95 L662.63,368.18 L663.34,367.83 L664.09,367.94 L664.86,367.97 L665.66,367.95 L666.47,367.69 L667.30,367.57 L668.14,367.90 L668.98,367.75 L669.83,366.94 L670.67,367.79 L671.51,367.19 L672.34,367.30 L673.15,367.60 L673.95,367.05 L674.72,366.97 L675.47,367.24 L676.18,366.86 L676.87,366.24 L677.51,366.73 L678.11,366.84 L678.66,366.98 L679.16,367.19 L679.61,366.35 L680.00,366.24" fill="none" stroke="#f01c1c" stroke-width="1.15" stroke-linejoin="round" stroke-linecap="round" opacity="1"/>
<text x="511.6" y="254.8" font-size="9" text-anchor="start" fill="#262626" ><tspan font-style="italic" font-size="7.8">E</tspan><tspan font-family="Liberation Serif" font-size="8.4" dy="1.2">g</tspan><tspan dy="-1.2" font-size="7.9"> (Bi-Bi)</tspan></text>
<text x="550.0" y="250.2" font-size="9" text-anchor="start" fill="#262626" ><tspan font-style="italic" font-size="7.8">A</tspan><tspan font-family="Liberation Serif" font-size="8.4" dy="1.0">1g</tspan><tspan dy="-1.0" font-size="7.9"> (Bi-Bi)</tspan></text>
<text x="622.7" y="257.0" font-size="8.5" text-anchor="end" fill="#262626" >(Bi-O)</text>
<text x="678.3" y="245.0" font-size="8.7" text-anchor="end" fill="#262626" >Bi-MOF-TS</text>
<text x="677.3" y="266.9" font-size="7.5" text-anchor="end" fill="#262626" >-1.13 V</text>
<text x="677.3" y="283.9" font-size="7.5" text-anchor="end" fill="#262626" >-0.93 V</text>
<text x="676.6" y="295.2" font-size="7.5" text-anchor="end" fill="#262626" >-0.73 V</text>
<text x="678.6" y="318.3" font-size="7.5" text-anchor="end" fill="#262626" >-0.53 V</text>
<text x="678.6" y="340.9" font-size="7.5" text-anchor="end" fill="#262626" >-0.33 V</text>
<text x="678.6" y="356.5" font-size="7.5" text-anchor="end" fill="#262626" >-0.13 V</text>
<text x="678.6" y="366.2" font-size="7.5" text-anchor="end" fill="#262626" >0.07 V</text>
<text x="473.2" y="249.6" font-size="30" text-anchor="start" fill="#000" >f</text>
</svg></body></html>
